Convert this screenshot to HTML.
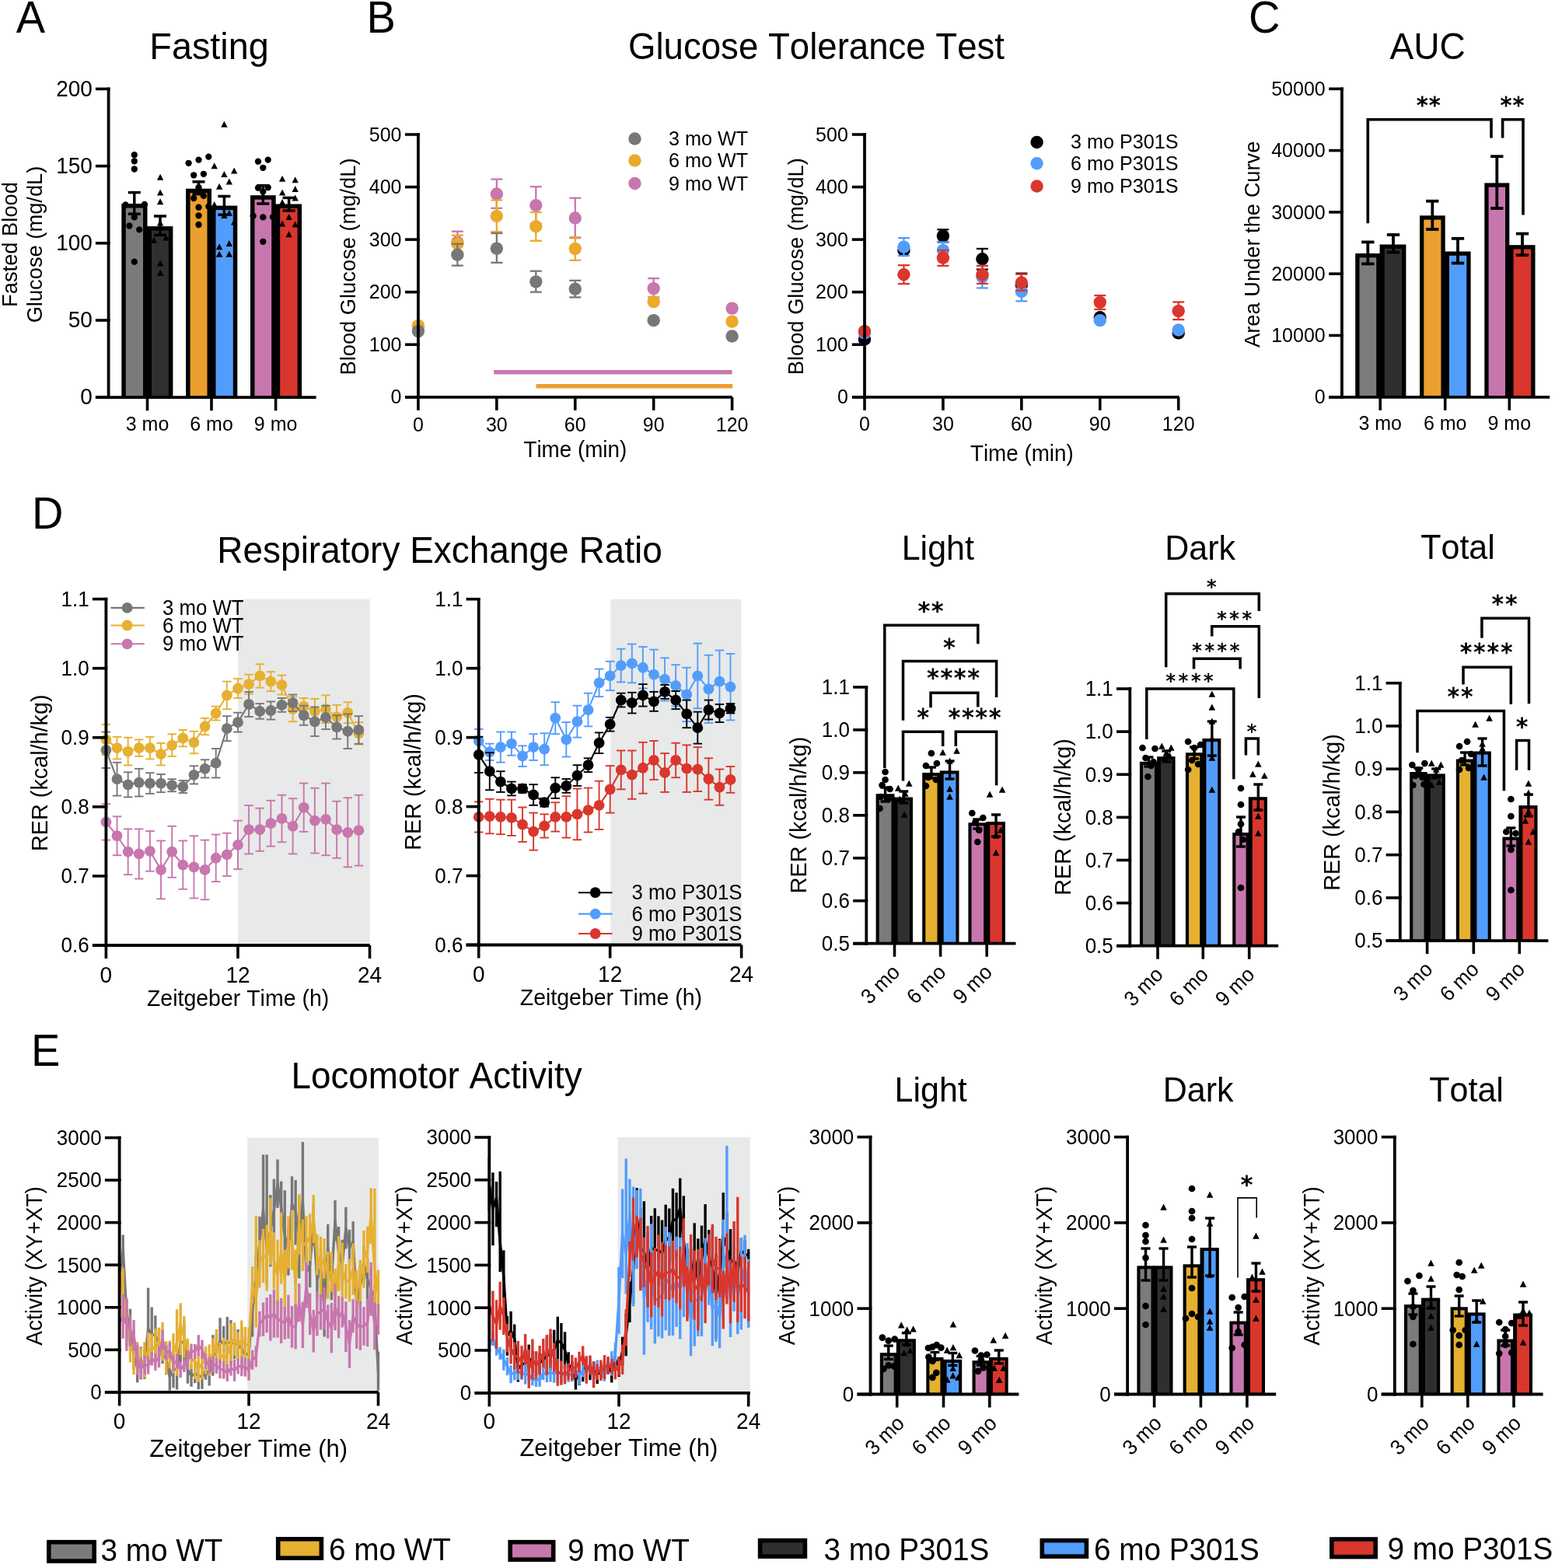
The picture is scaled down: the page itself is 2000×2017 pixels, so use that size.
<!DOCTYPE html>
<html><head><meta charset="utf-8"><title>Figure</title>
<style>
html,body{margin:0;padding:0;background:#fff;}
body{width:2000px;height:2017px;overflow:hidden;}
svg{display:block;}
text{font-family:"Liberation Sans",sans-serif;font-kerning:none;}
</style></head><body>
<svg width="2000" height="2017" viewBox="0 0 2000 2017">
<rect x="0" y="0" width="2000" height="2017" fill="#ffffff"/>
<text transform="translate(20.7 42) scale(1 1.04)" font-size="56" fill="#000">A</text>
<text transform="translate(192.3 76) scale(1 1.04)" font-size="46.8" fill="#000">Fasting</text>
<rect x="156.3" y="262" width="33.2" height="249.2" fill="#000"/>
<rect x="161.8" y="267.5" width="22.2" height="241.9" fill="#7b7b7b"/>
<rect x="188.6" y="291.1" width="33.8" height="220.1" fill="#000"/>
<rect x="195" y="296.6" width="21.9" height="212.8" fill="#2f2f2f"/>
<rect x="239.1" y="242.7" width="32.9" height="268.5" fill="#000"/>
<rect x="244.6" y="248.2" width="21.9" height="261.2" fill="#eb9f2e"/>
<rect x="271.1" y="264.6" width="34.2" height="246.6" fill="#000"/>
<rect x="277.5" y="270.1" width="22.3" height="239.3" fill="#529dfc"/>
<rect x="322" y="251.2" width="32.7" height="260" fill="#000"/>
<rect x="327.5" y="256.7" width="21.7" height="252.7" fill="#c876ae"/>
<rect x="353.8" y="262.5" width="34.3" height="248.7" fill="#000"/>
<rect x="360.2" y="268" width="22.4" height="241.4" fill="#d9362d"/>
<line x1="172.8" y1="247.6" x2="172.8" y2="275.2" stroke="#000" stroke-width="3.5"/>
<line x1="164.8" y1="247.6" x2="180.8" y2="247.6" stroke="#000" stroke-width="3.5"/>
<line x1="164.8" y1="275.2" x2="180.8" y2="275.2" stroke="#000" stroke-width="3.5"/>
<line x1="206" y1="278" x2="206" y2="302.4" stroke="#000" stroke-width="3.5"/>
<line x1="198" y1="278" x2="214" y2="278" stroke="#000" stroke-width="3.5"/>
<line x1="198" y1="302.4" x2="214" y2="302.4" stroke="#000" stroke-width="3.5"/>
<line x1="255.5" y1="233.8" x2="255.5" y2="249.7" stroke="#000" stroke-width="3.5"/>
<line x1="247.5" y1="233.8" x2="263.5" y2="233.8" stroke="#000" stroke-width="3.5"/>
<line x1="247.5" y1="249.7" x2="263.5" y2="249.7" stroke="#000" stroke-width="3.5"/>
<line x1="288.4" y1="252.5" x2="288.4" y2="276.3" stroke="#000" stroke-width="3.5"/>
<line x1="280.4" y1="252.5" x2="296.4" y2="252.5" stroke="#000" stroke-width="3.5"/>
<line x1="280.4" y1="276.3" x2="296.4" y2="276.3" stroke="#000" stroke-width="3.5"/>
<line x1="338.3" y1="238.7" x2="338.3" y2="262" stroke="#000" stroke-width="3.5"/>
<line x1="330.3" y1="238.7" x2="346.3" y2="238.7" stroke="#000" stroke-width="3.5"/>
<line x1="330.3" y1="262" x2="346.3" y2="262" stroke="#000" stroke-width="3.5"/>
<line x1="371.6" y1="254.4" x2="371.6" y2="271" stroke="#000" stroke-width="3.5"/>
<line x1="363.6" y1="254.4" x2="379.6" y2="254.4" stroke="#000" stroke-width="3.5"/>
<line x1="363.6" y1="271" x2="379.6" y2="271" stroke="#000" stroke-width="3.5"/>
<circle cx="172.8" cy="199.2" r="4.15" fill="#000"/>
<circle cx="172.8" cy="207.3" r="4.15" fill="#000"/>
<circle cx="172.8" cy="217.5" r="4.15" fill="#000"/>
<circle cx="161.5" cy="263.5" r="4.15" fill="#000"/>
<circle cx="185.9" cy="262.9" r="4.15" fill="#000"/>
<circle cx="172.8" cy="279.4" r="4.15" fill="#000"/>
<circle cx="166.4" cy="290.5" r="4.15" fill="#000"/>
<circle cx="179.2" cy="295.4" r="4.15" fill="#000"/>
<circle cx="172.8" cy="336.7" r="4.15" fill="#000"/>
<circle cx="242.6" cy="209.8" r="4.15" fill="#000"/>
<circle cx="255.5" cy="205.6" r="4.15" fill="#000"/>
<circle cx="268.3" cy="201.6" r="4.15" fill="#000"/>
<circle cx="249.2" cy="225.3" r="4.15" fill="#000"/>
<circle cx="261.9" cy="223.8" r="4.15" fill="#000"/>
<circle cx="255.5" cy="241.2" r="4.15" fill="#000"/>
<circle cx="249.2" cy="255" r="4.15" fill="#000"/>
<circle cx="261.9" cy="251.9" r="4.15" fill="#000"/>
<circle cx="268.3" cy="265.6" r="4.15" fill="#000"/>
<circle cx="255.5" cy="266.7" r="4.15" fill="#000"/>
<circle cx="255.5" cy="277.3" r="4.15" fill="#000"/>
<circle cx="255.5" cy="289" r="4.15" fill="#000"/>
<circle cx="332" cy="207.7" r="4.15" fill="#000"/>
<circle cx="344.7" cy="205.6" r="4.15" fill="#000"/>
<circle cx="338.3" cy="215.8" r="4.15" fill="#000"/>
<circle cx="332" cy="241.7" r="4.15" fill="#000"/>
<circle cx="344.7" cy="241.2" r="4.15" fill="#000"/>
<circle cx="338.3" cy="246.6" r="4.15" fill="#000"/>
<circle cx="325.6" cy="277.7" r="4.15" fill="#000"/>
<circle cx="338.3" cy="279.4" r="4.15" fill="#000"/>
<circle cx="351" cy="279" r="4.15" fill="#000"/>
<circle cx="338.3" cy="310.8" r="4.15" fill="#000"/>
<path d="M206.1 223.71L210.3 231.69L201.9 231.69Z" fill="#000"/>
<path d="M206.1 243.61L210.3 251.59L201.9 251.59Z" fill="#000"/>
<path d="M206.1 255.31L210.3 263.29L201.9 263.29Z" fill="#000"/>
<path d="M198 304.81L202.2 312.79L193.8 312.79Z" fill="#000"/>
<path d="M213.5 301.61L217.7 309.59L209.3 309.59Z" fill="#000"/>
<path d="M206.1 282.51L210.3 290.49L201.9 290.49Z" fill="#000"/>
<path d="M206.1 334.51L210.3 342.49L201.9 342.49Z" fill="#000"/>
<path d="M206.1 346.81L210.3 354.79L201.9 354.79Z" fill="#000"/>
<path d="M288.4 155.81L292.6 163.79L284.2 163.79Z" fill="#000"/>
<path d="M275.7 209.31L279.9 217.29L271.5 217.29Z" fill="#000"/>
<path d="M288.4 219.91L292.6 227.89L284.2 227.89Z" fill="#000"/>
<path d="M301.2 215.61L305.4 223.59L297 223.59Z" fill="#000"/>
<path d="M294.8 229.41L299 237.39L290.6 237.39Z" fill="#000"/>
<path d="M282.1 235.81L286.3 243.79L277.9 243.79Z" fill="#000"/>
<path d="M275.7 259.11L279.9 267.09L271.5 267.09Z" fill="#000"/>
<path d="M288.4 272.91L292.6 280.89L284.2 280.89Z" fill="#000"/>
<path d="M294.8 269.71L299 277.69L290.6 277.69Z" fill="#000"/>
<path d="M301.2 281.41L305.4 289.39L297 289.39Z" fill="#000"/>
<path d="M282.1 313.21L286.3 321.19L277.9 321.19Z" fill="#000"/>
<path d="M294.8 309.01L299 316.99L290.6 316.99Z" fill="#000"/>
<path d="M282.1 322.81L286.3 330.79L277.9 330.79Z" fill="#000"/>
<path d="M294.8 322.81L299 330.79L290.6 330.79Z" fill="#000"/>
<path d="M363.1 225.81L367.3 233.79L358.9 233.79Z" fill="#000"/>
<path d="M379.7 227.31L383.9 235.29L375.5 235.29Z" fill="#000"/>
<path d="M363.1 243.61L367.3 251.59L358.9 251.59Z" fill="#000"/>
<path d="M379.7 239.01L383.9 246.99L375.5 246.99Z" fill="#000"/>
<path d="M379.7 250.61L383.9 258.59L375.5 258.59Z" fill="#000"/>
<path d="M363.1 255.91L367.3 263.89L358.9 263.89Z" fill="#000"/>
<path d="M371.6 275.01L375.8 282.99L367.4 282.99Z" fill="#000"/>
<path d="M363.1 283.51L367.3 291.49L358.9 291.49Z" fill="#000"/>
<path d="M379.7 284.61L383.9 292.59L375.5 292.59Z" fill="#000"/>
<path d="M371.6 297.31L375.8 305.29L367.4 305.29Z" fill="#000"/>
<line x1="139.6" y1="112.6" x2="139.6" y2="513.1" stroke="#000" stroke-width="3.8"/>
<line x1="122.9" y1="511.2" x2="141.5" y2="511.2" stroke="#000" stroke-width="3.6"/>
<text transform="translate(118.9 520.4) scale(1 1.04)" font-size="28" text-anchor="end" fill="#000">0</text>
<line x1="122.9" y1="412" x2="141.5" y2="412" stroke="#000" stroke-width="3.6"/>
<text transform="translate(118.9 421.2) scale(1 1.04)" font-size="28" text-anchor="end" fill="#000">50</text>
<line x1="122.9" y1="312.8" x2="141.5" y2="312.8" stroke="#000" stroke-width="3.6"/>
<text transform="translate(118.9 322) scale(1 1.04)" font-size="28" text-anchor="end" fill="#000">100</text>
<line x1="122.9" y1="213.6" x2="141.5" y2="213.6" stroke="#000" stroke-width="3.6"/>
<text transform="translate(118.9 222.8) scale(1 1.04)" font-size="28" text-anchor="end" fill="#000">150</text>
<line x1="122.9" y1="114.4" x2="141.5" y2="114.4" stroke="#000" stroke-width="3.6"/>
<text transform="translate(118.9 123.6) scale(1 1.04)" font-size="28" text-anchor="end" fill="#000">200</text>
<line x1="122.9" y1="511.2" x2="406.6" y2="511.2" stroke="#000" stroke-width="3.8"/>
<line x1="189.5" y1="511.2" x2="189.5" y2="528.2" stroke="#000" stroke-width="3.6"/>
<text transform="translate(189.5 553.8) scale(1 1.04)" font-size="25" text-anchor="middle" fill="#000">3 mo</text>
<line x1="272" y1="511.2" x2="272" y2="528.2" stroke="#000" stroke-width="3.6"/>
<text transform="translate(272 553.8) scale(1 1.04)" font-size="25" text-anchor="middle" fill="#000">6 mo</text>
<line x1="354.6" y1="511.2" x2="354.6" y2="528.2" stroke="#000" stroke-width="3.6"/>
<text transform="translate(354.6 553.8) scale(1 1.04)" font-size="25" text-anchor="middle" fill="#000">9 mo</text>
<text transform="translate(22 314.5) rotate(-90) scale(1 1.04)" font-size="27.3" text-anchor="middle" fill="#000">Fasted Blood</text>
<text transform="translate(54.2 314.5) rotate(-90) scale(1 1.04)" font-size="27.3" text-anchor="middle" fill="#000">Glucose (mg/dL)</text>
<text transform="translate(471.5 42) scale(1 1.04)" font-size="56" fill="#000">B</text>
<text transform="translate(808 75.9) scale(1 1.04)" font-size="45.6" fill="#000">Glucose Tolerance Test</text>
<line x1="635.2" y1="478.8" x2="941.6" y2="478.8" stroke="#c876ae" stroke-width="5.6"/>
<line x1="689.5" y1="496.8" x2="942.2" y2="496.8" stroke="#eb9f2e" stroke-width="5.6"/>
<line x1="588.36" y1="311.5" x2="588.36" y2="297.65" stroke="#c876ae" stroke-width="2.3"/>
<line x1="580.86" y1="297.65" x2="595.86" y2="297.65" stroke="#c876ae" stroke-width="2.3"/>
<line x1="638.83" y1="249.48" x2="638.83" y2="230.56" stroke="#c876ae" stroke-width="2.3"/>
<line x1="631.33" y1="230.56" x2="646.33" y2="230.56" stroke="#c876ae" stroke-width="2.3"/>
<line x1="638.83" y1="249.48" x2="638.83" y2="267.79" stroke="#c876ae" stroke-width="2.3"/>
<line x1="631.33" y1="267.79" x2="646.33" y2="267.79" stroke="#c876ae" stroke-width="2.3"/>
<line x1="689.29" y1="264.21" x2="689.29" y2="240.15" stroke="#c876ae" stroke-width="2.3"/>
<line x1="681.79" y1="240.15" x2="696.79" y2="240.15" stroke="#c876ae" stroke-width="2.3"/>
<line x1="689.29" y1="264.21" x2="689.29" y2="287.85" stroke="#c876ae" stroke-width="2.3"/>
<line x1="681.79" y1="287.85" x2="696.79" y2="287.85" stroke="#c876ae" stroke-width="2.3"/>
<line x1="739.75" y1="280.56" x2="739.75" y2="254.75" stroke="#c876ae" stroke-width="2.3"/>
<line x1="732.25" y1="254.75" x2="747.25" y2="254.75" stroke="#c876ae" stroke-width="2.3"/>
<line x1="739.75" y1="280.56" x2="739.75" y2="306.09" stroke="#c876ae" stroke-width="2.3"/>
<line x1="732.25" y1="306.09" x2="747.25" y2="306.09" stroke="#c876ae" stroke-width="2.3"/>
<line x1="840.68" y1="371.09" x2="840.68" y2="358.11" stroke="#c876ae" stroke-width="2.3"/>
<line x1="833.18" y1="358.11" x2="848.18" y2="358.11" stroke="#c876ae" stroke-width="2.3"/>
<line x1="840.68" y1="371.09" x2="840.68" y2="382.44" stroke="#c876ae" stroke-width="2.3"/>
<line x1="833.18" y1="382.44" x2="848.18" y2="382.44" stroke="#c876ae" stroke-width="2.3"/>
<circle cx="537.9" cy="419.59" r="8.2" fill="#c876ae"/>
<circle cx="588.36" cy="311.5" r="8.2" fill="#c876ae"/>
<circle cx="638.83" cy="249.48" r="8.2" fill="#c876ae"/>
<circle cx="689.29" cy="264.21" r="8.2" fill="#c876ae"/>
<circle cx="739.75" cy="280.56" r="8.2" fill="#c876ae"/>
<circle cx="840.68" cy="371.09" r="8.2" fill="#c876ae"/>
<circle cx="941.6" cy="396.62" r="8.2" fill="#c876ae"/>
<line x1="588.36" y1="313.73" x2="588.36" y2="302.72" stroke="#ebaa2a" stroke-width="2.3"/>
<line x1="580.86" y1="302.72" x2="595.86" y2="302.72" stroke="#ebaa2a" stroke-width="2.3"/>
<line x1="588.36" y1="313.73" x2="588.36" y2="324.33" stroke="#ebaa2a" stroke-width="2.3"/>
<line x1="580.86" y1="324.33" x2="595.86" y2="324.33" stroke="#ebaa2a" stroke-width="2.3"/>
<line x1="638.83" y1="278.06" x2="638.83" y2="257.45" stroke="#ebaa2a" stroke-width="2.3"/>
<line x1="631.33" y1="257.45" x2="646.33" y2="257.45" stroke="#ebaa2a" stroke-width="2.3"/>
<line x1="638.83" y1="278.06" x2="638.83" y2="298.26" stroke="#ebaa2a" stroke-width="2.3"/>
<line x1="631.33" y1="298.26" x2="646.33" y2="298.26" stroke="#ebaa2a" stroke-width="2.3"/>
<line x1="689.29" y1="291.23" x2="689.29" y2="272.99" stroke="#ebaa2a" stroke-width="2.3"/>
<line x1="681.79" y1="272.99" x2="696.79" y2="272.99" stroke="#ebaa2a" stroke-width="2.3"/>
<line x1="689.29" y1="291.23" x2="689.29" y2="309.74" stroke="#ebaa2a" stroke-width="2.3"/>
<line x1="681.79" y1="309.74" x2="696.79" y2="309.74" stroke="#ebaa2a" stroke-width="2.3"/>
<line x1="739.75" y1="319.94" x2="739.75" y2="305.08" stroke="#ebaa2a" stroke-width="2.3"/>
<line x1="732.25" y1="305.08" x2="747.25" y2="305.08" stroke="#ebaa2a" stroke-width="2.3"/>
<line x1="739.75" y1="319.94" x2="739.75" y2="334.81" stroke="#ebaa2a" stroke-width="2.3"/>
<line x1="732.25" y1="334.81" x2="747.25" y2="334.81" stroke="#ebaa2a" stroke-width="2.3"/>
<line x1="840.68" y1="388.11" x2="840.68" y2="382.44" stroke="#ebaa2a" stroke-width="2.3"/>
<line x1="833.18" y1="382.44" x2="848.18" y2="382.44" stroke="#ebaa2a" stroke-width="2.3"/>
<circle cx="537.9" cy="419.05" r="8.2" fill="#ebaa2a"/>
<circle cx="588.36" cy="313.73" r="8.2" fill="#ebaa2a"/>
<circle cx="638.83" cy="278.06" r="8.2" fill="#ebaa2a"/>
<circle cx="689.29" cy="291.23" r="8.2" fill="#ebaa2a"/>
<circle cx="739.75" cy="319.94" r="8.2" fill="#ebaa2a"/>
<circle cx="840.68" cy="388.11" r="8.2" fill="#ebaa2a"/>
<circle cx="941.6" cy="413.65" r="8.2" fill="#ebaa2a"/>
<line x1="588.36" y1="327.71" x2="588.36" y2="313.73" stroke="#777777" stroke-width="2.3"/>
<line x1="580.86" y1="313.73" x2="595.86" y2="313.73" stroke="#777777" stroke-width="2.3"/>
<line x1="588.36" y1="327.71" x2="588.36" y2="341.63" stroke="#777777" stroke-width="2.3"/>
<line x1="580.86" y1="341.63" x2="595.86" y2="341.63" stroke="#777777" stroke-width="2.3"/>
<line x1="638.83" y1="319.61" x2="638.83" y2="300.01" stroke="#777777" stroke-width="2.3"/>
<line x1="631.33" y1="300.01" x2="646.33" y2="300.01" stroke="#777777" stroke-width="2.3"/>
<line x1="638.83" y1="319.61" x2="638.83" y2="337.85" stroke="#777777" stroke-width="2.3"/>
<line x1="631.33" y1="337.85" x2="646.33" y2="337.85" stroke="#777777" stroke-width="2.3"/>
<line x1="689.29" y1="362.37" x2="689.29" y2="348.66" stroke="#777777" stroke-width="2.3"/>
<line x1="681.79" y1="348.66" x2="696.79" y2="348.66" stroke="#777777" stroke-width="2.3"/>
<line x1="689.29" y1="362.37" x2="689.29" y2="375.68" stroke="#777777" stroke-width="2.3"/>
<line x1="681.79" y1="375.68" x2="696.79" y2="375.68" stroke="#777777" stroke-width="2.3"/>
<line x1="739.75" y1="371.76" x2="739.75" y2="360.82" stroke="#777777" stroke-width="2.3"/>
<line x1="732.25" y1="360.82" x2="747.25" y2="360.82" stroke="#777777" stroke-width="2.3"/>
<line x1="739.75" y1="371.76" x2="739.75" y2="382.44" stroke="#777777" stroke-width="2.3"/>
<line x1="732.25" y1="382.44" x2="747.25" y2="382.44" stroke="#777777" stroke-width="2.3"/>
<circle cx="537.9" cy="426.08" r="8.2" fill="#777777"/>
<circle cx="588.36" cy="327.71" r="8.2" fill="#777777"/>
<circle cx="638.83" cy="319.61" r="8.2" fill="#777777"/>
<circle cx="689.29" cy="362.37" r="8.2" fill="#777777"/>
<circle cx="739.75" cy="371.76" r="8.2" fill="#777777"/>
<circle cx="840.68" cy="412.16" r="8.2" fill="#777777"/>
<circle cx="941.6" cy="432.43" r="8.2" fill="#777777"/>
<line x1="537.9" y1="171.2" x2="537.9" y2="512.7" stroke="#000" stroke-width="3.8"/>
<line x1="521" y1="510.8" x2="539.8" y2="510.8" stroke="#000" stroke-width="3.6"/>
<text transform="translate(516.5 519.4) scale(1 1.04)" font-size="25" text-anchor="end" fill="#000">0</text>
<line x1="521" y1="443.24" x2="539.8" y2="443.24" stroke="#000" stroke-width="3.6"/>
<text transform="translate(516.5 451.84) scale(1 1.04)" font-size="25" text-anchor="end" fill="#000">100</text>
<line x1="521" y1="375.68" x2="539.8" y2="375.68" stroke="#000" stroke-width="3.6"/>
<text transform="translate(516.5 384.28) scale(1 1.04)" font-size="25" text-anchor="end" fill="#000">200</text>
<line x1="521" y1="308.12" x2="539.8" y2="308.12" stroke="#000" stroke-width="3.6"/>
<text transform="translate(516.5 316.72) scale(1 1.04)" font-size="25" text-anchor="end" fill="#000">300</text>
<line x1="521" y1="240.56" x2="539.8" y2="240.56" stroke="#000" stroke-width="3.6"/>
<text transform="translate(516.5 249.16) scale(1 1.04)" font-size="25" text-anchor="end" fill="#000">400</text>
<line x1="521" y1="173" x2="539.8" y2="173" stroke="#000" stroke-width="3.6"/>
<text transform="translate(516.5 181.6) scale(1 1.04)" font-size="25" text-anchor="end" fill="#000">500</text>
<line x1="521" y1="510.8" x2="941.6" y2="510.8" stroke="#000" stroke-width="3.8"/>
<line x1="537.9" y1="510.8" x2="537.9" y2="527.8" stroke="#000" stroke-width="3.6"/>
<text transform="translate(537.9 554.5) scale(1 1.04)" font-size="25" text-anchor="middle" fill="#000">0</text>
<line x1="638.83" y1="510.8" x2="638.83" y2="527.8" stroke="#000" stroke-width="3.6"/>
<text transform="translate(638.83 554.5) scale(1 1.04)" font-size="25" text-anchor="middle" fill="#000">30</text>
<line x1="739.75" y1="510.8" x2="739.75" y2="527.8" stroke="#000" stroke-width="3.6"/>
<text transform="translate(739.75 554.5) scale(1 1.04)" font-size="25" text-anchor="middle" fill="#000">60</text>
<line x1="840.68" y1="510.8" x2="840.68" y2="527.8" stroke="#000" stroke-width="3.6"/>
<text transform="translate(840.68 554.5) scale(1 1.04)" font-size="25" text-anchor="middle" fill="#000">90</text>
<line x1="941.6" y1="510.8" x2="941.6" y2="527.8" stroke="#000" stroke-width="3.6"/>
<text transform="translate(941.6 554.5) scale(1 1.04)" font-size="25" text-anchor="middle" fill="#000">120</text>
<text transform="translate(739.8 587.8) scale(1 1.04)" font-size="27.8" text-anchor="middle" fill="#000">Time (min)</text>
<text transform="translate(457 343) rotate(-90) scale(1 1.04)" font-size="27.3" text-anchor="middle" fill="#000">Blood Glucose (mg/dL)</text>
<circle cx="816.5" cy="178.5" r="8.2" fill="#777777"/>
<text transform="translate(860 187) scale(1 1.04)" font-size="25.2" fill="#000">3 mo WT</text>
<circle cx="816.5" cy="206.5" r="8.2" fill="#ebaa2a"/>
<text transform="translate(860 215) scale(1 1.04)" font-size="25.2" fill="#000">6 mo WT</text>
<circle cx="816.5" cy="236" r="8.2" fill="#c876ae"/>
<text transform="translate(860 244.5) scale(1 1.04)" font-size="25.2" fill="#000">9 mo WT</text>
<line x1="1212.93" y1="303.39" x2="1212.93" y2="295.28" stroke="#000" stroke-width="2.3"/>
<line x1="1205.43" y1="295.28" x2="1220.43" y2="295.28" stroke="#000" stroke-width="2.3"/>
<line x1="1212.93" y1="303.39" x2="1212.93" y2="311.5" stroke="#000" stroke-width="2.3"/>
<line x1="1205.43" y1="311.5" x2="1220.43" y2="311.5" stroke="#000" stroke-width="2.3"/>
<line x1="1263.39" y1="333.32" x2="1263.39" y2="319.94" stroke="#000" stroke-width="2.3"/>
<line x1="1255.89" y1="319.94" x2="1270.89" y2="319.94" stroke="#000" stroke-width="2.3"/>
<line x1="1263.39" y1="333.32" x2="1263.39" y2="346.63" stroke="#000" stroke-width="2.3"/>
<line x1="1255.89" y1="346.63" x2="1270.89" y2="346.63" stroke="#000" stroke-width="2.3"/>
<line x1="1313.85" y1="366.22" x2="1313.85" y2="351.7" stroke="#000" stroke-width="2.3"/>
<line x1="1306.35" y1="351.7" x2="1321.35" y2="351.7" stroke="#000" stroke-width="2.3"/>
<line x1="1313.85" y1="366.22" x2="1313.85" y2="368.92" stroke="#000" stroke-width="2.3"/>
<line x1="1306.35" y1="368.92" x2="1321.35" y2="368.92" stroke="#000" stroke-width="2.3"/>
<circle cx="1112" cy="436.48" r="8.2" fill="#000"/>
<circle cx="1162.46" cy="322.04" r="8.2" fill="#000"/>
<circle cx="1212.93" cy="303.39" r="8.2" fill="#000"/>
<circle cx="1263.39" cy="333.32" r="8.2" fill="#000"/>
<circle cx="1313.85" cy="366.22" r="8.2" fill="#000"/>
<circle cx="1414.78" cy="408.24" r="8.2" fill="#000"/>
<circle cx="1515.7" cy="428.38" r="8.2" fill="#000"/>
<line x1="1162.46" y1="317.58" x2="1162.46" y2="306.09" stroke="#529dfc" stroke-width="2.3"/>
<line x1="1154.96" y1="306.09" x2="1169.96" y2="306.09" stroke="#529dfc" stroke-width="2.3"/>
<line x1="1162.46" y1="317.58" x2="1162.46" y2="329.06" stroke="#529dfc" stroke-width="2.3"/>
<line x1="1154.96" y1="329.06" x2="1169.96" y2="329.06" stroke="#529dfc" stroke-width="2.3"/>
<line x1="1212.93" y1="321.97" x2="1212.93" y2="311.5" stroke="#529dfc" stroke-width="2.3"/>
<line x1="1205.43" y1="311.5" x2="1220.43" y2="311.5" stroke="#529dfc" stroke-width="2.3"/>
<line x1="1212.93" y1="321.97" x2="1212.93" y2="331.77" stroke="#529dfc" stroke-width="2.3"/>
<line x1="1205.43" y1="331.77" x2="1220.43" y2="331.77" stroke="#529dfc" stroke-width="2.3"/>
<line x1="1263.39" y1="356.09" x2="1263.39" y2="341.9" stroke="#529dfc" stroke-width="2.3"/>
<line x1="1255.89" y1="341.9" x2="1270.89" y2="341.9" stroke="#529dfc" stroke-width="2.3"/>
<line x1="1263.39" y1="356.09" x2="1263.39" y2="370.48" stroke="#529dfc" stroke-width="2.3"/>
<line x1="1255.89" y1="370.48" x2="1270.89" y2="370.48" stroke="#529dfc" stroke-width="2.3"/>
<line x1="1313.85" y1="375" x2="1313.85" y2="362.84" stroke="#529dfc" stroke-width="2.3"/>
<line x1="1306.35" y1="362.84" x2="1321.35" y2="362.84" stroke="#529dfc" stroke-width="2.3"/>
<line x1="1313.85" y1="375" x2="1313.85" y2="387.37" stroke="#529dfc" stroke-width="2.3"/>
<line x1="1306.35" y1="387.37" x2="1321.35" y2="387.37" stroke="#529dfc" stroke-width="2.3"/>
<circle cx="1112" cy="428.38" r="8.2" fill="#529dfc"/>
<circle cx="1162.46" cy="317.58" r="8.2" fill="#529dfc"/>
<circle cx="1212.93" cy="321.97" r="8.2" fill="#529dfc"/>
<circle cx="1263.39" cy="356.09" r="8.2" fill="#529dfc"/>
<circle cx="1313.85" cy="375" r="8.2" fill="#529dfc"/>
<circle cx="1414.78" cy="412.16" r="8.2" fill="#529dfc"/>
<circle cx="1515.7" cy="424.53" r="8.2" fill="#529dfc"/>
<line x1="1162.46" y1="353.18" x2="1162.46" y2="341.22" stroke="#d9362d" stroke-width="2.3"/>
<line x1="1154.96" y1="341.22" x2="1169.96" y2="341.22" stroke="#d9362d" stroke-width="2.3"/>
<line x1="1162.46" y1="353.18" x2="1162.46" y2="365.07" stroke="#d9362d" stroke-width="2.3"/>
<line x1="1154.96" y1="365.07" x2="1169.96" y2="365.07" stroke="#d9362d" stroke-width="2.3"/>
<line x1="1212.93" y1="331.77" x2="1212.93" y2="322.04" stroke="#d9362d" stroke-width="2.3"/>
<line x1="1205.43" y1="322.04" x2="1220.43" y2="322.04" stroke="#d9362d" stroke-width="2.3"/>
<line x1="1212.93" y1="331.77" x2="1212.93" y2="341.9" stroke="#d9362d" stroke-width="2.3"/>
<line x1="1205.43" y1="341.9" x2="1220.43" y2="341.9" stroke="#d9362d" stroke-width="2.3"/>
<line x1="1263.39" y1="353.18" x2="1263.39" y2="341.9" stroke="#d9362d" stroke-width="2.3"/>
<line x1="1255.89" y1="341.9" x2="1270.89" y2="341.9" stroke="#d9362d" stroke-width="2.3"/>
<line x1="1263.39" y1="353.18" x2="1263.39" y2="364.87" stroke="#d9362d" stroke-width="2.3"/>
<line x1="1255.89" y1="364.87" x2="1270.89" y2="364.87" stroke="#d9362d" stroke-width="2.3"/>
<line x1="1313.85" y1="363.52" x2="1313.85" y2="352.71" stroke="#d9362d" stroke-width="2.3"/>
<line x1="1306.35" y1="352.71" x2="1321.35" y2="352.71" stroke="#d9362d" stroke-width="2.3"/>
<line x1="1313.85" y1="363.52" x2="1313.85" y2="373.65" stroke="#d9362d" stroke-width="2.3"/>
<line x1="1306.35" y1="373.65" x2="1321.35" y2="373.65" stroke="#d9362d" stroke-width="2.3"/>
<line x1="1414.78" y1="388.85" x2="1414.78" y2="380.07" stroke="#d9362d" stroke-width="2.3"/>
<line x1="1407.28" y1="380.07" x2="1422.28" y2="380.07" stroke="#d9362d" stroke-width="2.3"/>
<line x1="1414.78" y1="388.85" x2="1414.78" y2="397.97" stroke="#d9362d" stroke-width="2.3"/>
<line x1="1407.28" y1="397.97" x2="1422.28" y2="397.97" stroke="#d9362d" stroke-width="2.3"/>
<line x1="1515.7" y1="400.14" x2="1515.7" y2="388.52" stroke="#d9362d" stroke-width="2.3"/>
<line x1="1508.2" y1="388.52" x2="1523.2" y2="388.52" stroke="#d9362d" stroke-width="2.3"/>
<line x1="1515.7" y1="400.14" x2="1515.7" y2="411.08" stroke="#d9362d" stroke-width="2.3"/>
<line x1="1508.2" y1="411.08" x2="1523.2" y2="411.08" stroke="#d9362d" stroke-width="2.3"/>
<circle cx="1112" cy="426.08" r="8.2" fill="#d9362d"/>
<circle cx="1162.46" cy="353.18" r="8.2" fill="#d9362d"/>
<circle cx="1212.93" cy="331.77" r="8.2" fill="#d9362d"/>
<circle cx="1263.39" cy="353.18" r="8.2" fill="#d9362d"/>
<circle cx="1313.85" cy="363.52" r="8.2" fill="#d9362d"/>
<circle cx="1414.78" cy="388.85" r="8.2" fill="#d9362d"/>
<circle cx="1515.7" cy="400.14" r="8.2" fill="#d9362d"/>
<line x1="1112" y1="171.2" x2="1112" y2="512.7" stroke="#000" stroke-width="3.8"/>
<line x1="1095.8" y1="510.8" x2="1113.9" y2="510.8" stroke="#000" stroke-width="3.6"/>
<text transform="translate(1090.8 519.4) scale(1 1.04)" font-size="25" text-anchor="end" fill="#000">0</text>
<line x1="1095.8" y1="443.24" x2="1113.9" y2="443.24" stroke="#000" stroke-width="3.6"/>
<text transform="translate(1090.8 451.84) scale(1 1.04)" font-size="25" text-anchor="end" fill="#000">100</text>
<line x1="1095.8" y1="375.68" x2="1113.9" y2="375.68" stroke="#000" stroke-width="3.6"/>
<text transform="translate(1090.8 384.28) scale(1 1.04)" font-size="25" text-anchor="end" fill="#000">200</text>
<line x1="1095.8" y1="308.12" x2="1113.9" y2="308.12" stroke="#000" stroke-width="3.6"/>
<text transform="translate(1090.8 316.72) scale(1 1.04)" font-size="25" text-anchor="end" fill="#000">300</text>
<line x1="1095.8" y1="240.56" x2="1113.9" y2="240.56" stroke="#000" stroke-width="3.6"/>
<text transform="translate(1090.8 249.16) scale(1 1.04)" font-size="25" text-anchor="end" fill="#000">400</text>
<line x1="1095.8" y1="173" x2="1113.9" y2="173" stroke="#000" stroke-width="3.6"/>
<text transform="translate(1090.8 181.6) scale(1 1.04)" font-size="25" text-anchor="end" fill="#000">500</text>
<line x1="1096" y1="510.8" x2="1516.6" y2="510.8" stroke="#000" stroke-width="3.8"/>
<line x1="1112" y1="510.8" x2="1112" y2="527.8" stroke="#000" stroke-width="3.6"/>
<text transform="translate(1112 554) scale(1 1.04)" font-size="25" text-anchor="middle" fill="#000">0</text>
<line x1="1212.93" y1="510.8" x2="1212.93" y2="527.8" stroke="#000" stroke-width="3.6"/>
<text transform="translate(1212.93 554) scale(1 1.04)" font-size="25" text-anchor="middle" fill="#000">30</text>
<line x1="1313.85" y1="510.8" x2="1313.85" y2="527.8" stroke="#000" stroke-width="3.6"/>
<text transform="translate(1313.85 554) scale(1 1.04)" font-size="25" text-anchor="middle" fill="#000">60</text>
<line x1="1414.78" y1="510.8" x2="1414.78" y2="527.8" stroke="#000" stroke-width="3.6"/>
<text transform="translate(1414.78 554) scale(1 1.04)" font-size="25" text-anchor="middle" fill="#000">90</text>
<line x1="1515.7" y1="510.8" x2="1515.7" y2="527.8" stroke="#000" stroke-width="3.6"/>
<text transform="translate(1515.7 554) scale(1 1.04)" font-size="25" text-anchor="middle" fill="#000">120</text>
<text transform="translate(1314.3 592.6) scale(1 1.04)" font-size="27.8" text-anchor="middle" fill="#000">Time (min)</text>
<text transform="translate(1033 342.7) rotate(-90) scale(1 1.04)" font-size="27.3" text-anchor="middle" fill="#000">Blood Glucose (mg/dL)</text>
<circle cx="1333.6" cy="183" r="8.2" fill="#000"/>
<text transform="translate(1377 191.3) scale(1 1.04)" font-size="25.2" fill="#000">3 mo P301S</text>
<circle cx="1333.6" cy="210.3" r="8.2" fill="#529dfc"/>
<text transform="translate(1377 218.6) scale(1 1.04)" font-size="25.2" fill="#000">6 mo P301S</text>
<circle cx="1333.6" cy="239.5" r="8.2" fill="#d9362d"/>
<text transform="translate(1377 247.8) scale(1 1.04)" font-size="25.2" fill="#000">9 mo P301S</text>
<text transform="translate(1606 42.2) scale(1 1.04)" font-size="56" fill="#000">C</text>
<text transform="translate(1787.6 76) scale(1 1.04)" font-size="46.1" fill="#000">AUC</text>
<rect x="1743.2" y="326" width="32.3" height="184.8" fill="#000"/>
<rect x="1748.5" y="331.3" width="21.7" height="177.7" fill="#7b7b7b"/>
<rect x="1774.6" y="314.5" width="33.8" height="196.3" fill="#000"/>
<rect x="1780.8" y="319.8" width="22.3" height="189.2" fill="#2f2f2f"/>
<rect x="1826" y="277.3" width="32.7" height="233.5" fill="#000"/>
<rect x="1831.3" y="282.6" width="22.1" height="226.4" fill="#eb9f2e"/>
<rect x="1857.8" y="323.5" width="33.8" height="187.3" fill="#000"/>
<rect x="1864" y="328.8" width="22.3" height="180.2" fill="#529dfc"/>
<rect x="1909.3" y="235.4" width="32" height="275.4" fill="#000"/>
<rect x="1914.6" y="240.7" width="21.4" height="268.3" fill="#c876ae"/>
<rect x="1940.4" y="315.2" width="34.1" height="195.6" fill="#000"/>
<rect x="1946.6" y="320.5" width="22.6" height="188.5" fill="#d9362d"/>
<line x1="1759.3" y1="311.4" x2="1759.3" y2="339.4" stroke="#000" stroke-width="3.8"/>
<line x1="1751.15" y1="311.4" x2="1767.45" y2="311.4" stroke="#000" stroke-width="3.8"/>
<line x1="1751.15" y1="339.4" x2="1767.45" y2="339.4" stroke="#000" stroke-width="3.8"/>
<line x1="1792" y1="302" x2="1792" y2="324.5" stroke="#000" stroke-width="3.8"/>
<line x1="1783.85" y1="302" x2="1800.15" y2="302" stroke="#000" stroke-width="3.8"/>
<line x1="1783.85" y1="324.5" x2="1800.15" y2="324.5" stroke="#000" stroke-width="3.8"/>
<line x1="1842.3" y1="258.7" x2="1842.3" y2="295" stroke="#000" stroke-width="3.8"/>
<line x1="1834.15" y1="258.7" x2="1850.45" y2="258.7" stroke="#000" stroke-width="3.8"/>
<line x1="1834.15" y1="295" x2="1850.45" y2="295" stroke="#000" stroke-width="3.8"/>
<line x1="1875" y1="306.8" x2="1875" y2="338.5" stroke="#000" stroke-width="3.8"/>
<line x1="1866.85" y1="306.8" x2="1883.15" y2="306.8" stroke="#000" stroke-width="3.8"/>
<line x1="1866.85" y1="338.5" x2="1883.15" y2="338.5" stroke="#000" stroke-width="3.8"/>
<line x1="1925.3" y1="201.2" x2="1925.3" y2="268" stroke="#000" stroke-width="3.8"/>
<line x1="1917.15" y1="201.2" x2="1933.45" y2="201.2" stroke="#000" stroke-width="3.8"/>
<line x1="1917.15" y1="268" x2="1933.45" y2="268" stroke="#000" stroke-width="3.8"/>
<line x1="1958" y1="300.6" x2="1958" y2="328.2" stroke="#000" stroke-width="3.8"/>
<line x1="1949.85" y1="300.6" x2="1966.15" y2="300.6" stroke="#000" stroke-width="3.8"/>
<line x1="1949.85" y1="328.2" x2="1966.15" y2="328.2" stroke="#000" stroke-width="3.8"/>
<path d="M1759.3 287.2V153.7H1918V177.6" fill="none" stroke="#000" stroke-width="3.6" stroke-linejoin="miter"/>
<path d="M1932.6 177.6V153.7H1959V276.4" fill="none" stroke="#000" stroke-width="3.6" stroke-linejoin="miter"/>
<text x="1838.02" y="145.03" font-size="29.1" text-anchor="middle" letter-spacing="1.45" stroke="#000" stroke-width="0.85" style="font-family:'DejaVu Sans',sans-serif">**</text>
<text x="1945.72" y="145.03" font-size="29.1" text-anchor="middle" letter-spacing="1.45" stroke="#000" stroke-width="0.85" style="font-family:'DejaVu Sans',sans-serif">**</text>
<line x1="1725.9" y1="112.5" x2="1725.9" y2="512.7" stroke="#000" stroke-width="3.8"/>
<line x1="1709.2" y1="510.8" x2="1727.8" y2="510.8" stroke="#000" stroke-width="3.6"/>
<text transform="translate(1704.7 519.4) scale(1 1.04)" font-size="25" text-anchor="end" fill="#000">0</text>
<line x1="1709.2" y1="431.5" x2="1727.8" y2="431.5" stroke="#000" stroke-width="3.6"/>
<text transform="translate(1704.7 440.1) scale(1 1.04)" font-size="25" text-anchor="end" fill="#000">10000</text>
<line x1="1709.2" y1="352.2" x2="1727.8" y2="352.2" stroke="#000" stroke-width="3.6"/>
<text transform="translate(1704.7 360.8) scale(1 1.04)" font-size="25" text-anchor="end" fill="#000">20000</text>
<line x1="1709.2" y1="272.9" x2="1727.8" y2="272.9" stroke="#000" stroke-width="3.6"/>
<text transform="translate(1704.7 281.5) scale(1 1.04)" font-size="25" text-anchor="end" fill="#000">30000</text>
<line x1="1709.2" y1="193.6" x2="1727.8" y2="193.6" stroke="#000" stroke-width="3.6"/>
<text transform="translate(1704.7 202.2) scale(1 1.04)" font-size="25" text-anchor="end" fill="#000">40000</text>
<line x1="1709.2" y1="114.3" x2="1727.8" y2="114.3" stroke="#000" stroke-width="3.6"/>
<text transform="translate(1704.7 122.9) scale(1 1.04)" font-size="25" text-anchor="end" fill="#000">50000</text>
<line x1="1709.2" y1="510.8" x2="1993.2" y2="510.8" stroke="#000" stroke-width="3.8"/>
<line x1="1775.2" y1="510.8" x2="1775.2" y2="527.8" stroke="#000" stroke-width="3.6"/>
<text transform="translate(1775.2 552.7) scale(1 1.04)" font-size="25" text-anchor="middle" fill="#000">3 mo</text>
<line x1="1858.7" y1="510.8" x2="1858.7" y2="527.8" stroke="#000" stroke-width="3.6"/>
<text transform="translate(1858.7 552.7) scale(1 1.04)" font-size="25" text-anchor="middle" fill="#000">6 mo</text>
<line x1="1941.3" y1="510.8" x2="1941.3" y2="527.8" stroke="#000" stroke-width="3.6"/>
<text transform="translate(1941.3 552.7) scale(1 1.04)" font-size="25" text-anchor="middle" fill="#000">9 mo</text>
<text transform="translate(1619.6 314.3) rotate(-90) scale(1 1.04)" font-size="27.3" text-anchor="middle" fill="#000">Area Under the Curve</text>
<text transform="translate(40.9 679.8) scale(1 1.04)" font-size="56" fill="#000">D</text>
<text transform="translate(279.3 723.8) scale(1 1.04)" font-size="46" fill="#000">Respiratory Exchange Ratio</text>
<rect x="306.1" y="770.6" width="169.6" height="445.4" fill="#e8e9e9"/>
<line x1="136.4" y1="931.83" x2="136.4" y2="971.03" stroke="#e6b030" stroke-width="1.9"/>
<line x1="130.65" y1="931.83" x2="142.15" y2="931.83" stroke="#e6b030" stroke-width="1.9"/>
<line x1="130.65" y1="971.03" x2="142.15" y2="971.03" stroke="#e6b030" stroke-width="1.9"/>
<line x1="150.53" y1="947.87" x2="150.53" y2="976.37" stroke="#e6b030" stroke-width="1.9"/>
<line x1="144.78" y1="947.87" x2="156.28" y2="947.87" stroke="#e6b030" stroke-width="1.9"/>
<line x1="144.78" y1="976.37" x2="156.28" y2="976.37" stroke="#e6b030" stroke-width="1.9"/>
<line x1="164.66" y1="948.76" x2="164.66" y2="984.39" stroke="#e6b030" stroke-width="1.9"/>
<line x1="158.91" y1="948.76" x2="170.41" y2="948.76" stroke="#e6b030" stroke-width="1.9"/>
<line x1="158.91" y1="984.39" x2="170.41" y2="984.39" stroke="#e6b030" stroke-width="1.9"/>
<line x1="178.79" y1="951.43" x2="178.79" y2="972.81" stroke="#e6b030" stroke-width="1.9"/>
<line x1="173.04" y1="951.43" x2="184.54" y2="951.43" stroke="#e6b030" stroke-width="1.9"/>
<line x1="173.04" y1="972.81" x2="184.54" y2="972.81" stroke="#e6b030" stroke-width="1.9"/>
<line x1="192.92" y1="947.87" x2="192.92" y2="976.37" stroke="#e6b030" stroke-width="1.9"/>
<line x1="187.17" y1="947.87" x2="198.67" y2="947.87" stroke="#e6b030" stroke-width="1.9"/>
<line x1="187.17" y1="976.37" x2="198.67" y2="976.37" stroke="#e6b030" stroke-width="1.9"/>
<line x1="207.05" y1="955.89" x2="207.05" y2="984.39" stroke="#e6b030" stroke-width="1.9"/>
<line x1="201.3" y1="955.89" x2="212.8" y2="955.89" stroke="#e6b030" stroke-width="1.9"/>
<line x1="201.3" y1="984.39" x2="212.8" y2="984.39" stroke="#e6b030" stroke-width="1.9"/>
<line x1="221.18" y1="944.31" x2="221.18" y2="972.81" stroke="#e6b030" stroke-width="1.9"/>
<line x1="215.43" y1="944.31" x2="226.93" y2="944.31" stroke="#e6b030" stroke-width="1.9"/>
<line x1="215.43" y1="972.81" x2="226.93" y2="972.81" stroke="#e6b030" stroke-width="1.9"/>
<line x1="235.31" y1="938.96" x2="235.31" y2="960.34" stroke="#e6b030" stroke-width="1.9"/>
<line x1="229.56" y1="938.96" x2="241.06" y2="938.96" stroke="#e6b030" stroke-width="1.9"/>
<line x1="229.56" y1="960.34" x2="241.06" y2="960.34" stroke="#e6b030" stroke-width="1.9"/>
<line x1="249.44" y1="940.74" x2="249.44" y2="969.25" stroke="#e6b030" stroke-width="1.9"/>
<line x1="243.69" y1="940.74" x2="255.19" y2="940.74" stroke="#e6b030" stroke-width="1.9"/>
<line x1="243.69" y1="969.25" x2="255.19" y2="969.25" stroke="#e6b030" stroke-width="1.9"/>
<line x1="263.57" y1="923.82" x2="263.57" y2="945.2" stroke="#e6b030" stroke-width="1.9"/>
<line x1="257.82" y1="923.82" x2="269.32" y2="923.82" stroke="#e6b030" stroke-width="1.9"/>
<line x1="257.82" y1="945.2" x2="269.32" y2="945.2" stroke="#e6b030" stroke-width="1.9"/>
<line x1="277.7" y1="908.67" x2="277.7" y2="926.49" stroke="#e6b030" stroke-width="1.9"/>
<line x1="271.95" y1="908.67" x2="283.45" y2="908.67" stroke="#e6b030" stroke-width="1.9"/>
<line x1="271.95" y1="926.49" x2="283.45" y2="926.49" stroke="#e6b030" stroke-width="1.9"/>
<line x1="291.83" y1="876.61" x2="291.83" y2="912.24" stroke="#e6b030" stroke-width="1.9"/>
<line x1="286.08" y1="876.61" x2="297.58" y2="876.61" stroke="#e6b030" stroke-width="1.9"/>
<line x1="286.08" y1="912.24" x2="297.58" y2="912.24" stroke="#e6b030" stroke-width="1.9"/>
<line x1="305.96" y1="873.04" x2="305.96" y2="897.98" stroke="#e6b030" stroke-width="1.9"/>
<line x1="300.21" y1="873.04" x2="311.71" y2="873.04" stroke="#e6b030" stroke-width="1.9"/>
<line x1="300.21" y1="897.98" x2="311.71" y2="897.98" stroke="#e6b030" stroke-width="1.9"/>
<line x1="320.09" y1="867.7" x2="320.09" y2="892.64" stroke="#e6b030" stroke-width="1.9"/>
<line x1="314.34" y1="867.7" x2="325.84" y2="867.7" stroke="#e6b030" stroke-width="1.9"/>
<line x1="314.34" y1="892.64" x2="325.84" y2="892.64" stroke="#e6b030" stroke-width="1.9"/>
<line x1="334.22" y1="854.34" x2="334.22" y2="884.62" stroke="#e6b030" stroke-width="1.9"/>
<line x1="328.47" y1="854.34" x2="339.97" y2="854.34" stroke="#e6b030" stroke-width="1.9"/>
<line x1="328.47" y1="884.62" x2="339.97" y2="884.62" stroke="#e6b030" stroke-width="1.9"/>
<line x1="348.35" y1="864.13" x2="348.35" y2="889.08" stroke="#e6b030" stroke-width="1.9"/>
<line x1="342.6" y1="864.13" x2="354.1" y2="864.13" stroke="#e6b030" stroke-width="1.9"/>
<line x1="342.6" y1="889.08" x2="354.1" y2="889.08" stroke="#e6b030" stroke-width="1.9"/>
<line x1="362.48" y1="868.59" x2="362.48" y2="893.53" stroke="#e6b030" stroke-width="1.9"/>
<line x1="356.73" y1="868.59" x2="368.23" y2="868.59" stroke="#e6b030" stroke-width="1.9"/>
<line x1="356.73" y1="893.53" x2="368.23" y2="893.53" stroke="#e6b030" stroke-width="1.9"/>
<line x1="376.61" y1="896.2" x2="376.61" y2="928.27" stroke="#e6b030" stroke-width="1.9"/>
<line x1="370.86" y1="896.2" x2="382.36" y2="896.2" stroke="#e6b030" stroke-width="1.9"/>
<line x1="370.86" y1="928.27" x2="382.36" y2="928.27" stroke="#e6b030" stroke-width="1.9"/>
<line x1="390.74" y1="897.98" x2="390.74" y2="919.36" stroke="#e6b030" stroke-width="1.9"/>
<line x1="384.99" y1="897.98" x2="396.49" y2="897.98" stroke="#e6b030" stroke-width="1.9"/>
<line x1="384.99" y1="919.36" x2="396.49" y2="919.36" stroke="#e6b030" stroke-width="1.9"/>
<line x1="404.87" y1="898.88" x2="404.87" y2="930.94" stroke="#e6b030" stroke-width="1.9"/>
<line x1="399.12" y1="898.88" x2="410.62" y2="898.88" stroke="#e6b030" stroke-width="1.9"/>
<line x1="399.12" y1="930.94" x2="410.62" y2="930.94" stroke="#e6b030" stroke-width="1.9"/>
<line x1="419" y1="894.42" x2="419" y2="930.05" stroke="#e6b030" stroke-width="1.9"/>
<line x1="413.25" y1="894.42" x2="424.75" y2="894.42" stroke="#e6b030" stroke-width="1.9"/>
<line x1="413.25" y1="930.05" x2="424.75" y2="930.05" stroke="#e6b030" stroke-width="1.9"/>
<line x1="433.13" y1="906.89" x2="433.13" y2="937.18" stroke="#e6b030" stroke-width="1.9"/>
<line x1="427.38" y1="906.89" x2="438.88" y2="906.89" stroke="#e6b030" stroke-width="1.9"/>
<line x1="427.38" y1="937.18" x2="438.88" y2="937.18" stroke="#e6b030" stroke-width="1.9"/>
<line x1="447.26" y1="903.33" x2="447.26" y2="930.05" stroke="#e6b030" stroke-width="1.9"/>
<line x1="441.51" y1="903.33" x2="453.01" y2="903.33" stroke="#e6b030" stroke-width="1.9"/>
<line x1="441.51" y1="930.05" x2="453.01" y2="930.05" stroke="#e6b030" stroke-width="1.9"/>
<line x1="461.39" y1="929.16" x2="461.39" y2="957.67" stroke="#e6b030" stroke-width="1.9"/>
<line x1="455.64" y1="929.16" x2="467.14" y2="929.16" stroke="#e6b030" stroke-width="1.9"/>
<line x1="455.64" y1="957.67" x2="467.14" y2="957.67" stroke="#e6b030" stroke-width="1.9"/>
<polyline points="136.4,951.43 150.53,962.12 164.66,966.58 178.79,962.12 192.92,962.12 207.05,970.14 221.18,958.56 235.31,949.65 249.44,955 263.57,934.51 277.7,917.58 291.83,894.42 305.96,885.51 320.09,880.17 334.22,869.48 348.35,876.61 362.48,881.06 376.61,912.24 390.74,908.67 404.87,914.91 419,912.24 433.13,922.04 447.26,916.69 461.39,943.42" fill="none" stroke="#e6b030" stroke-width="2.1" stroke-linejoin="miter"/>
<circle cx="136.4" cy="951.43" r="6.9" fill="#e6b030"/>
<circle cx="150.53" cy="962.12" r="6.9" fill="#e6b030"/>
<circle cx="164.66" cy="966.58" r="6.9" fill="#e6b030"/>
<circle cx="178.79" cy="962.12" r="6.9" fill="#e6b030"/>
<circle cx="192.92" cy="962.12" r="6.9" fill="#e6b030"/>
<circle cx="207.05" cy="970.14" r="6.9" fill="#e6b030"/>
<circle cx="221.18" cy="958.56" r="6.9" fill="#e6b030"/>
<circle cx="235.31" cy="949.65" r="6.9" fill="#e6b030"/>
<circle cx="249.44" cy="955" r="6.9" fill="#e6b030"/>
<circle cx="263.57" cy="934.51" r="6.9" fill="#e6b030"/>
<circle cx="277.7" cy="917.58" r="6.9" fill="#e6b030"/>
<circle cx="291.83" cy="894.42" r="6.9" fill="#e6b030"/>
<circle cx="305.96" cy="885.51" r="6.9" fill="#e6b030"/>
<circle cx="320.09" cy="880.17" r="6.9" fill="#e6b030"/>
<circle cx="334.22" cy="869.48" r="6.9" fill="#e6b030"/>
<circle cx="348.35" cy="876.61" r="6.9" fill="#e6b030"/>
<circle cx="362.48" cy="881.06" r="6.9" fill="#e6b030"/>
<circle cx="376.61" cy="912.24" r="6.9" fill="#e6b030"/>
<circle cx="390.74" cy="908.67" r="6.9" fill="#e6b030"/>
<circle cx="404.87" cy="914.91" r="6.9" fill="#e6b030"/>
<circle cx="419" cy="912.24" r="6.9" fill="#e6b030"/>
<circle cx="433.13" cy="922.04" r="6.9" fill="#e6b030"/>
<circle cx="447.26" cy="916.69" r="6.9" fill="#e6b030"/>
<circle cx="461.39" cy="943.42" r="6.9" fill="#e6b030"/>
<line x1="136.4" y1="941.63" x2="136.4" y2="987.96" stroke="#777777" stroke-width="1.9"/>
<line x1="130.65" y1="941.63" x2="142.15" y2="941.63" stroke="#777777" stroke-width="1.9"/>
<line x1="130.65" y1="987.96" x2="142.15" y2="987.96" stroke="#777777" stroke-width="1.9"/>
<line x1="150.53" y1="980.83" x2="150.53" y2="1023.59" stroke="#777777" stroke-width="1.9"/>
<line x1="144.78" y1="980.83" x2="156.28" y2="980.83" stroke="#777777" stroke-width="1.9"/>
<line x1="144.78" y1="1023.59" x2="156.28" y2="1023.59" stroke="#777777" stroke-width="1.9"/>
<line x1="164.66" y1="993.3" x2="164.66" y2="1025.37" stroke="#777777" stroke-width="1.9"/>
<line x1="158.91" y1="993.3" x2="170.41" y2="993.3" stroke="#777777" stroke-width="1.9"/>
<line x1="158.91" y1="1025.37" x2="170.41" y2="1025.37" stroke="#777777" stroke-width="1.9"/>
<line x1="178.79" y1="988.85" x2="178.79" y2="1024.48" stroke="#777777" stroke-width="1.9"/>
<line x1="173.04" y1="988.85" x2="184.54" y2="988.85" stroke="#777777" stroke-width="1.9"/>
<line x1="173.04" y1="1024.48" x2="184.54" y2="1024.48" stroke="#777777" stroke-width="1.9"/>
<line x1="192.92" y1="994.19" x2="192.92" y2="1020.91" stroke="#777777" stroke-width="1.9"/>
<line x1="187.17" y1="994.19" x2="198.67" y2="994.19" stroke="#777777" stroke-width="1.9"/>
<line x1="187.17" y1="1020.91" x2="198.67" y2="1020.91" stroke="#777777" stroke-width="1.9"/>
<line x1="207.05" y1="995.97" x2="207.05" y2="1019.13" stroke="#777777" stroke-width="1.9"/>
<line x1="201.3" y1="995.97" x2="212.8" y2="995.97" stroke="#777777" stroke-width="1.9"/>
<line x1="201.3" y1="1019.13" x2="212.8" y2="1019.13" stroke="#777777" stroke-width="1.9"/>
<line x1="221.18" y1="1002.21" x2="221.18" y2="1018.24" stroke="#777777" stroke-width="1.9"/>
<line x1="215.43" y1="1002.21" x2="226.93" y2="1002.21" stroke="#777777" stroke-width="1.9"/>
<line x1="215.43" y1="1018.24" x2="226.93" y2="1018.24" stroke="#777777" stroke-width="1.9"/>
<line x1="235.31" y1="1003.99" x2="235.31" y2="1020.02" stroke="#777777" stroke-width="1.9"/>
<line x1="229.56" y1="1003.99" x2="241.06" y2="1003.99" stroke="#777777" stroke-width="1.9"/>
<line x1="229.56" y1="1020.02" x2="241.06" y2="1020.02" stroke="#777777" stroke-width="1.9"/>
<line x1="249.44" y1="985.28" x2="249.44" y2="1008.44" stroke="#777777" stroke-width="1.9"/>
<line x1="243.69" y1="985.28" x2="255.19" y2="985.28" stroke="#777777" stroke-width="1.9"/>
<line x1="243.69" y1="1008.44" x2="255.19" y2="1008.44" stroke="#777777" stroke-width="1.9"/>
<line x1="263.57" y1="977.27" x2="263.57" y2="1000.43" stroke="#777777" stroke-width="1.9"/>
<line x1="257.82" y1="977.27" x2="269.32" y2="977.27" stroke="#777777" stroke-width="1.9"/>
<line x1="257.82" y1="1000.43" x2="269.32" y2="1000.43" stroke="#777777" stroke-width="1.9"/>
<line x1="277.7" y1="963.01" x2="277.7" y2="1000.43" stroke="#777777" stroke-width="1.9"/>
<line x1="271.95" y1="963.01" x2="283.45" y2="963.01" stroke="#777777" stroke-width="1.9"/>
<line x1="271.95" y1="1000.43" x2="283.45" y2="1000.43" stroke="#777777" stroke-width="1.9"/>
<line x1="291.83" y1="921.15" x2="291.83" y2="953.21" stroke="#777777" stroke-width="1.9"/>
<line x1="286.08" y1="921.15" x2="297.58" y2="921.15" stroke="#777777" stroke-width="1.9"/>
<line x1="286.08" y1="953.21" x2="297.58" y2="953.21" stroke="#777777" stroke-width="1.9"/>
<line x1="305.96" y1="916.69" x2="305.96" y2="941.63" stroke="#777777" stroke-width="1.9"/>
<line x1="300.21" y1="916.69" x2="311.71" y2="916.69" stroke="#777777" stroke-width="1.9"/>
<line x1="300.21" y1="941.63" x2="311.71" y2="941.63" stroke="#777777" stroke-width="1.9"/>
<line x1="320.09" y1="889.97" x2="320.09" y2="922.04" stroke="#777777" stroke-width="1.9"/>
<line x1="314.34" y1="889.97" x2="325.84" y2="889.97" stroke="#777777" stroke-width="1.9"/>
<line x1="314.34" y1="922.04" x2="325.84" y2="922.04" stroke="#777777" stroke-width="1.9"/>
<line x1="334.22" y1="905.11" x2="334.22" y2="924.71" stroke="#777777" stroke-width="1.9"/>
<line x1="328.47" y1="905.11" x2="339.97" y2="905.11" stroke="#777777" stroke-width="1.9"/>
<line x1="328.47" y1="924.71" x2="339.97" y2="924.71" stroke="#777777" stroke-width="1.9"/>
<line x1="348.35" y1="902.44" x2="348.35" y2="925.6" stroke="#777777" stroke-width="1.9"/>
<line x1="342.6" y1="902.44" x2="354.1" y2="902.44" stroke="#777777" stroke-width="1.9"/>
<line x1="342.6" y1="925.6" x2="354.1" y2="925.6" stroke="#777777" stroke-width="1.9"/>
<line x1="362.48" y1="897.98" x2="362.48" y2="915.8" stroke="#777777" stroke-width="1.9"/>
<line x1="356.73" y1="897.98" x2="368.23" y2="897.98" stroke="#777777" stroke-width="1.9"/>
<line x1="356.73" y1="915.8" x2="368.23" y2="915.8" stroke="#777777" stroke-width="1.9"/>
<line x1="376.61" y1="893.53" x2="376.61" y2="914.91" stroke="#777777" stroke-width="1.9"/>
<line x1="370.86" y1="893.53" x2="382.36" y2="893.53" stroke="#777777" stroke-width="1.9"/>
<line x1="370.86" y1="914.91" x2="382.36" y2="914.91" stroke="#777777" stroke-width="1.9"/>
<line x1="390.74" y1="907.78" x2="390.74" y2="932.73" stroke="#777777" stroke-width="1.9"/>
<line x1="384.99" y1="907.78" x2="396.49" y2="907.78" stroke="#777777" stroke-width="1.9"/>
<line x1="384.99" y1="932.73" x2="396.49" y2="932.73" stroke="#777777" stroke-width="1.9"/>
<line x1="404.87" y1="909.56" x2="404.87" y2="946.98" stroke="#777777" stroke-width="1.9"/>
<line x1="399.12" y1="909.56" x2="410.62" y2="909.56" stroke="#777777" stroke-width="1.9"/>
<line x1="399.12" y1="946.98" x2="410.62" y2="946.98" stroke="#777777" stroke-width="1.9"/>
<line x1="419" y1="907.78" x2="419" y2="938.07" stroke="#777777" stroke-width="1.9"/>
<line x1="413.25" y1="907.78" x2="424.75" y2="907.78" stroke="#777777" stroke-width="1.9"/>
<line x1="413.25" y1="938.07" x2="424.75" y2="938.07" stroke="#777777" stroke-width="1.9"/>
<line x1="433.13" y1="920.25" x2="433.13" y2="950.54" stroke="#777777" stroke-width="1.9"/>
<line x1="427.38" y1="920.25" x2="438.88" y2="920.25" stroke="#777777" stroke-width="1.9"/>
<line x1="427.38" y1="950.54" x2="438.88" y2="950.54" stroke="#777777" stroke-width="1.9"/>
<line x1="447.26" y1="918.47" x2="447.26" y2="963.01" stroke="#777777" stroke-width="1.9"/>
<line x1="441.51" y1="918.47" x2="453.01" y2="918.47" stroke="#777777" stroke-width="1.9"/>
<line x1="441.51" y1="963.01" x2="453.01" y2="963.01" stroke="#777777" stroke-width="1.9"/>
<line x1="461.39" y1="921.15" x2="461.39" y2="956.78" stroke="#777777" stroke-width="1.9"/>
<line x1="455.64" y1="921.15" x2="467.14" y2="921.15" stroke="#777777" stroke-width="1.9"/>
<line x1="455.64" y1="956.78" x2="467.14" y2="956.78" stroke="#777777" stroke-width="1.9"/>
<polyline points="136.4,964.79 150.53,1002.21 164.66,1009.33 178.79,1006.66 192.92,1007.55 207.05,1007.55 221.18,1010.23 235.31,1012.01 249.44,996.86 263.57,988.85 277.7,981.72 291.83,937.18 305.96,929.16 320.09,906 334.22,914.91 348.35,914.02 362.48,906.89 376.61,904.22 390.74,920.25 404.87,928.27 419,922.93 433.13,935.4 447.26,940.74 461.39,938.96" fill="none" stroke="#777777" stroke-width="2.1" stroke-linejoin="miter"/>
<circle cx="136.4" cy="964.79" r="6.9" fill="#777777"/>
<circle cx="150.53" cy="1002.21" r="6.9" fill="#777777"/>
<circle cx="164.66" cy="1009.33" r="6.9" fill="#777777"/>
<circle cx="178.79" cy="1006.66" r="6.9" fill="#777777"/>
<circle cx="192.92" cy="1007.55" r="6.9" fill="#777777"/>
<circle cx="207.05" cy="1007.55" r="6.9" fill="#777777"/>
<circle cx="221.18" cy="1010.23" r="6.9" fill="#777777"/>
<circle cx="235.31" cy="1012.01" r="6.9" fill="#777777"/>
<circle cx="249.44" cy="996.86" r="6.9" fill="#777777"/>
<circle cx="263.57" cy="988.85" r="6.9" fill="#777777"/>
<circle cx="277.7" cy="981.72" r="6.9" fill="#777777"/>
<circle cx="291.83" cy="937.18" r="6.9" fill="#777777"/>
<circle cx="305.96" cy="929.16" r="6.9" fill="#777777"/>
<circle cx="320.09" cy="906" r="6.9" fill="#777777"/>
<circle cx="334.22" cy="914.91" r="6.9" fill="#777777"/>
<circle cx="348.35" cy="914.02" r="6.9" fill="#777777"/>
<circle cx="362.48" cy="906.89" r="6.9" fill="#777777"/>
<circle cx="376.61" cy="904.22" r="6.9" fill="#777777"/>
<circle cx="390.74" cy="920.25" r="6.9" fill="#777777"/>
<circle cx="404.87" cy="928.27" r="6.9" fill="#777777"/>
<circle cx="419" cy="922.93" r="6.9" fill="#777777"/>
<circle cx="433.13" cy="935.4" r="6.9" fill="#777777"/>
<circle cx="447.26" cy="940.74" r="6.9" fill="#777777"/>
<circle cx="461.39" cy="938.96" r="6.9" fill="#777777"/>
<line x1="136.4" y1="1034.28" x2="136.4" y2="1080.6" stroke="#c876ae" stroke-width="1.9"/>
<line x1="130.65" y1="1034.28" x2="142.15" y2="1034.28" stroke="#c876ae" stroke-width="1.9"/>
<line x1="130.65" y1="1080.6" x2="142.15" y2="1080.6" stroke="#c876ae" stroke-width="1.9"/>
<line x1="150.53" y1="1050.31" x2="150.53" y2="1100.2" stroke="#c876ae" stroke-width="1.9"/>
<line x1="144.78" y1="1050.31" x2="156.28" y2="1050.31" stroke="#c876ae" stroke-width="1.9"/>
<line x1="144.78" y1="1100.2" x2="156.28" y2="1100.2" stroke="#c876ae" stroke-width="1.9"/>
<line x1="164.66" y1="1066.35" x2="164.66" y2="1125.14" stroke="#c876ae" stroke-width="1.9"/>
<line x1="158.91" y1="1066.35" x2="170.41" y2="1066.35" stroke="#c876ae" stroke-width="1.9"/>
<line x1="158.91" y1="1125.14" x2="170.41" y2="1125.14" stroke="#c876ae" stroke-width="1.9"/>
<line x1="178.79" y1="1066.35" x2="178.79" y2="1130.48" stroke="#c876ae" stroke-width="1.9"/>
<line x1="173.04" y1="1066.35" x2="184.54" y2="1066.35" stroke="#c876ae" stroke-width="1.9"/>
<line x1="173.04" y1="1130.48" x2="184.54" y2="1130.48" stroke="#c876ae" stroke-width="1.9"/>
<line x1="192.92" y1="1069.02" x2="192.92" y2="1120.68" stroke="#c876ae" stroke-width="1.9"/>
<line x1="187.17" y1="1069.02" x2="198.67" y2="1069.02" stroke="#c876ae" stroke-width="1.9"/>
<line x1="187.17" y1="1120.68" x2="198.67" y2="1120.68" stroke="#c876ae" stroke-width="1.9"/>
<line x1="207.05" y1="1081.49" x2="207.05" y2="1156.32" stroke="#c876ae" stroke-width="1.9"/>
<line x1="201.3" y1="1081.49" x2="212.8" y2="1081.49" stroke="#c876ae" stroke-width="1.9"/>
<line x1="201.3" y1="1156.32" x2="212.8" y2="1156.32" stroke="#c876ae" stroke-width="1.9"/>
<line x1="221.18" y1="1062.78" x2="221.18" y2="1128.7" stroke="#c876ae" stroke-width="1.9"/>
<line x1="215.43" y1="1062.78" x2="226.93" y2="1062.78" stroke="#c876ae" stroke-width="1.9"/>
<line x1="215.43" y1="1128.7" x2="226.93" y2="1128.7" stroke="#c876ae" stroke-width="1.9"/>
<line x1="235.31" y1="1081.49" x2="235.31" y2="1143.85" stroke="#c876ae" stroke-width="1.9"/>
<line x1="229.56" y1="1081.49" x2="241.06" y2="1081.49" stroke="#c876ae" stroke-width="1.9"/>
<line x1="229.56" y1="1143.85" x2="241.06" y2="1143.85" stroke="#c876ae" stroke-width="1.9"/>
<line x1="249.44" y1="1075.25" x2="249.44" y2="1155.43" stroke="#c876ae" stroke-width="1.9"/>
<line x1="243.69" y1="1075.25" x2="255.19" y2="1075.25" stroke="#c876ae" stroke-width="1.9"/>
<line x1="243.69" y1="1155.43" x2="255.19" y2="1155.43" stroke="#c876ae" stroke-width="1.9"/>
<line x1="263.57" y1="1080.6" x2="263.57" y2="1157.21" stroke="#c876ae" stroke-width="1.9"/>
<line x1="257.82" y1="1080.6" x2="269.32" y2="1080.6" stroke="#c876ae" stroke-width="1.9"/>
<line x1="257.82" y1="1157.21" x2="269.32" y2="1157.21" stroke="#c876ae" stroke-width="1.9"/>
<line x1="277.7" y1="1073.47" x2="277.7" y2="1134.05" stroke="#c876ae" stroke-width="1.9"/>
<line x1="271.95" y1="1073.47" x2="283.45" y2="1073.47" stroke="#c876ae" stroke-width="1.9"/>
<line x1="271.95" y1="1134.05" x2="283.45" y2="1134.05" stroke="#c876ae" stroke-width="1.9"/>
<line x1="291.83" y1="1071.69" x2="291.83" y2="1126.92" stroke="#c876ae" stroke-width="1.9"/>
<line x1="286.08" y1="1071.69" x2="297.58" y2="1071.69" stroke="#c876ae" stroke-width="1.9"/>
<line x1="286.08" y1="1126.92" x2="297.58" y2="1126.92" stroke="#c876ae" stroke-width="1.9"/>
<line x1="305.96" y1="1055.66" x2="305.96" y2="1118.01" stroke="#c876ae" stroke-width="1.9"/>
<line x1="300.21" y1="1055.66" x2="311.71" y2="1055.66" stroke="#c876ae" stroke-width="1.9"/>
<line x1="300.21" y1="1118.01" x2="311.71" y2="1118.01" stroke="#c876ae" stroke-width="1.9"/>
<line x1="320.09" y1="1036.06" x2="320.09" y2="1098.41" stroke="#c876ae" stroke-width="1.9"/>
<line x1="314.34" y1="1036.06" x2="325.84" y2="1036.06" stroke="#c876ae" stroke-width="1.9"/>
<line x1="314.34" y1="1098.41" x2="325.84" y2="1098.41" stroke="#c876ae" stroke-width="1.9"/>
<line x1="334.22" y1="1039.62" x2="334.22" y2="1094.85" stroke="#c876ae" stroke-width="1.9"/>
<line x1="328.47" y1="1039.62" x2="339.97" y2="1039.62" stroke="#c876ae" stroke-width="1.9"/>
<line x1="328.47" y1="1094.85" x2="339.97" y2="1094.85" stroke="#c876ae" stroke-width="1.9"/>
<line x1="348.35" y1="1029.82" x2="348.35" y2="1088.62" stroke="#c876ae" stroke-width="1.9"/>
<line x1="342.6" y1="1029.82" x2="354.1" y2="1029.82" stroke="#c876ae" stroke-width="1.9"/>
<line x1="342.6" y1="1088.62" x2="354.1" y2="1088.62" stroke="#c876ae" stroke-width="1.9"/>
<line x1="362.48" y1="1022.7" x2="362.48" y2="1083.27" stroke="#c876ae" stroke-width="1.9"/>
<line x1="356.73" y1="1022.7" x2="368.23" y2="1022.7" stroke="#c876ae" stroke-width="1.9"/>
<line x1="356.73" y1="1083.27" x2="368.23" y2="1083.27" stroke="#c876ae" stroke-width="1.9"/>
<line x1="376.61" y1="1027.15" x2="376.61" y2="1098.41" stroke="#c876ae" stroke-width="1.9"/>
<line x1="370.86" y1="1027.15" x2="382.36" y2="1027.15" stroke="#c876ae" stroke-width="1.9"/>
<line x1="370.86" y1="1098.41" x2="382.36" y2="1098.41" stroke="#c876ae" stroke-width="1.9"/>
<line x1="390.74" y1="1007.55" x2="390.74" y2="1069.91" stroke="#c876ae" stroke-width="1.9"/>
<line x1="384.99" y1="1007.55" x2="396.49" y2="1007.55" stroke="#c876ae" stroke-width="1.9"/>
<line x1="384.99" y1="1069.91" x2="396.49" y2="1069.91" stroke="#c876ae" stroke-width="1.9"/>
<line x1="404.87" y1="1013.79" x2="404.87" y2="1097.52" stroke="#c876ae" stroke-width="1.9"/>
<line x1="399.12" y1="1013.79" x2="410.62" y2="1013.79" stroke="#c876ae" stroke-width="1.9"/>
<line x1="399.12" y1="1097.52" x2="410.62" y2="1097.52" stroke="#c876ae" stroke-width="1.9"/>
<line x1="419" y1="1007.55" x2="419" y2="1100.2" stroke="#c876ae" stroke-width="1.9"/>
<line x1="413.25" y1="1007.55" x2="424.75" y2="1007.55" stroke="#c876ae" stroke-width="1.9"/>
<line x1="413.25" y1="1100.2" x2="424.75" y2="1100.2" stroke="#c876ae" stroke-width="1.9"/>
<line x1="433.13" y1="1030.71" x2="433.13" y2="1103.76" stroke="#c876ae" stroke-width="1.9"/>
<line x1="427.38" y1="1030.71" x2="438.88" y2="1030.71" stroke="#c876ae" stroke-width="1.9"/>
<line x1="427.38" y1="1103.76" x2="438.88" y2="1103.76" stroke="#c876ae" stroke-width="1.9"/>
<line x1="447.26" y1="1026.26" x2="447.26" y2="1115.34" stroke="#c876ae" stroke-width="1.9"/>
<line x1="441.51" y1="1026.26" x2="453.01" y2="1026.26" stroke="#c876ae" stroke-width="1.9"/>
<line x1="441.51" y1="1115.34" x2="453.01" y2="1115.34" stroke="#c876ae" stroke-width="1.9"/>
<line x1="461.39" y1="1022.7" x2="461.39" y2="1113.56" stroke="#c876ae" stroke-width="1.9"/>
<line x1="455.64" y1="1022.7" x2="467.14" y2="1022.7" stroke="#c876ae" stroke-width="1.9"/>
<line x1="455.64" y1="1113.56" x2="467.14" y2="1113.56" stroke="#c876ae" stroke-width="1.9"/>
<polyline points="136.4,1057.44 150.53,1075.25 164.66,1095.74 178.79,1098.41 192.92,1094.85 207.05,1118.9 221.18,1095.74 235.31,1112.67 249.44,1115.34 263.57,1118.9 277.7,1103.76 291.83,1099.31 305.96,1086.83 320.09,1067.24 334.22,1067.24 348.35,1059.22 362.48,1052.98 376.61,1062.78 390.74,1038.73 404.87,1055.66 419,1053.87 433.13,1067.24 447.26,1070.8 461.39,1068.13" fill="none" stroke="#c876ae" stroke-width="2.1" stroke-linejoin="miter"/>
<circle cx="136.4" cy="1057.44" r="6.9" fill="#c876ae"/>
<circle cx="150.53" cy="1075.25" r="6.9" fill="#c876ae"/>
<circle cx="164.66" cy="1095.74" r="6.9" fill="#c876ae"/>
<circle cx="178.79" cy="1098.41" r="6.9" fill="#c876ae"/>
<circle cx="192.92" cy="1094.85" r="6.9" fill="#c876ae"/>
<circle cx="207.05" cy="1118.9" r="6.9" fill="#c876ae"/>
<circle cx="221.18" cy="1095.74" r="6.9" fill="#c876ae"/>
<circle cx="235.31" cy="1112.67" r="6.9" fill="#c876ae"/>
<circle cx="249.44" cy="1115.34" r="6.9" fill="#c876ae"/>
<circle cx="263.57" cy="1118.9" r="6.9" fill="#c876ae"/>
<circle cx="277.7" cy="1103.76" r="6.9" fill="#c876ae"/>
<circle cx="291.83" cy="1099.31" r="6.9" fill="#c876ae"/>
<circle cx="305.96" cy="1086.83" r="6.9" fill="#c876ae"/>
<circle cx="320.09" cy="1067.24" r="6.9" fill="#c876ae"/>
<circle cx="334.22" cy="1067.24" r="6.9" fill="#c876ae"/>
<circle cx="348.35" cy="1059.22" r="6.9" fill="#c876ae"/>
<circle cx="362.48" cy="1052.98" r="6.9" fill="#c876ae"/>
<circle cx="376.61" cy="1062.78" r="6.9" fill="#c876ae"/>
<circle cx="390.74" cy="1038.73" r="6.9" fill="#c876ae"/>
<circle cx="404.87" cy="1055.66" r="6.9" fill="#c876ae"/>
<circle cx="419" cy="1053.87" r="6.9" fill="#c876ae"/>
<circle cx="433.13" cy="1067.24" r="6.9" fill="#c876ae"/>
<circle cx="447.26" cy="1070.8" r="6.9" fill="#c876ae"/>
<circle cx="461.39" cy="1068.13" r="6.9" fill="#c876ae"/>
<line x1="136.4" y1="768.8" x2="136.4" y2="1217.9" stroke="#000" stroke-width="3.8"/>
<line x1="118.9" y1="1216" x2="138.3" y2="1216" stroke="#000" stroke-width="3.6"/>
<text transform="translate(114.7 1225.3) scale(1 1.04)" font-size="26" text-anchor="end" fill="#000">0.6</text>
<line x1="118.9" y1="1126.92" x2="138.3" y2="1126.92" stroke="#000" stroke-width="3.6"/>
<text transform="translate(114.7 1136.22) scale(1 1.04)" font-size="26" text-anchor="end" fill="#000">0.7</text>
<line x1="118.9" y1="1037.84" x2="138.3" y2="1037.84" stroke="#000" stroke-width="3.6"/>
<text transform="translate(114.7 1047.14) scale(1 1.04)" font-size="26" text-anchor="end" fill="#000">0.8</text>
<line x1="118.9" y1="948.76" x2="138.3" y2="948.76" stroke="#000" stroke-width="3.6"/>
<text transform="translate(114.7 958.06) scale(1 1.04)" font-size="26" text-anchor="end" fill="#000">0.9</text>
<line x1="118.9" y1="859.68" x2="138.3" y2="859.68" stroke="#000" stroke-width="3.6"/>
<text transform="translate(114.7 868.98) scale(1 1.04)" font-size="26" text-anchor="end" fill="#000">1.0</text>
<line x1="118.9" y1="770.6" x2="138.3" y2="770.6" stroke="#000" stroke-width="3.6"/>
<text transform="translate(114.7 779.9) scale(1 1.04)" font-size="26" text-anchor="end" fill="#000">1.1</text>
<line x1="118.9" y1="1216" x2="475.7" y2="1216" stroke="#000" stroke-width="3.8"/>
<line x1="136.4" y1="1216" x2="136.4" y2="1233" stroke="#000" stroke-width="3.6"/>
<text transform="translate(136.4 1263.5) scale(1 1.04)" font-size="28" text-anchor="middle" fill="#000">0</text>
<line x1="305.96" y1="1216" x2="305.96" y2="1233" stroke="#000" stroke-width="3.6"/>
<text transform="translate(305.96 1263.5) scale(1 1.04)" font-size="28" text-anchor="middle" fill="#000">12</text>
<line x1="475.52" y1="1216" x2="475.52" y2="1233" stroke="#000" stroke-width="3.6"/>
<text transform="translate(475.52 1263.5) scale(1 1.04)" font-size="28" text-anchor="middle" fill="#000">24</text>
<text transform="translate(306.1 1293.5) scale(1 1.04)" font-size="28.5" text-anchor="middle" fill="#000">Zeitgeber Time (h)</text>
<text transform="translate(60.8 994.2) rotate(-90) scale(1 1.04)" font-size="28.8" text-anchor="middle" fill="#000">RER (kcal/h/kg)</text>
<line x1="142.5" y1="781.9" x2="185.8" y2="781.9" stroke="#777777" stroke-width="2.1"/>
<circle cx="163.6" cy="781.9" r="6.9" fill="#777777"/>
<text transform="translate(209 790.9) scale(1 1.04)" font-size="25.8" fill="#000">3 mo WT</text>
<line x1="142.5" y1="804.5" x2="185.8" y2="804.5" stroke="#e6b030" stroke-width="2.1"/>
<circle cx="163.6" cy="804.5" r="6.9" fill="#e6b030"/>
<text transform="translate(209 813.5) scale(1 1.04)" font-size="25.8" fill="#000">6 mo WT</text>
<line x1="142.5" y1="828.3" x2="185.8" y2="828.3" stroke="#c876ae" stroke-width="2.1"/>
<circle cx="163.6" cy="828.3" r="6.9" fill="#c876ae"/>
<text transform="translate(209 837.3) scale(1 1.04)" font-size="25.8" fill="#000">9 mo WT</text>
<rect x="785.3" y="770.7" width="168.3" height="444.8" fill="#e8e9e9"/>
<line x1="615.7" y1="937.94" x2="615.7" y2="968.19" stroke="#529dfc" stroke-width="1.9"/>
<line x1="609.95" y1="937.94" x2="621.45" y2="937.94" stroke="#529dfc" stroke-width="1.9"/>
<line x1="609.95" y1="968.19" x2="621.45" y2="968.19" stroke="#529dfc" stroke-width="1.9"/>
<line x1="629.78" y1="956.63" x2="629.78" y2="977.98" stroke="#529dfc" stroke-width="1.9"/>
<line x1="624.03" y1="956.63" x2="635.53" y2="956.63" stroke="#529dfc" stroke-width="1.9"/>
<line x1="624.03" y1="977.98" x2="635.53" y2="977.98" stroke="#529dfc" stroke-width="1.9"/>
<line x1="643.86" y1="941.5" x2="643.86" y2="980.65" stroke="#529dfc" stroke-width="1.9"/>
<line x1="638.11" y1="941.5" x2="649.61" y2="941.5" stroke="#529dfc" stroke-width="1.9"/>
<line x1="638.11" y1="980.65" x2="649.61" y2="980.65" stroke="#529dfc" stroke-width="1.9"/>
<line x1="657.94" y1="941.5" x2="657.94" y2="971.75" stroke="#529dfc" stroke-width="1.9"/>
<line x1="652.19" y1="941.5" x2="663.69" y2="941.5" stroke="#529dfc" stroke-width="1.9"/>
<line x1="652.19" y1="971.75" x2="663.69" y2="971.75" stroke="#529dfc" stroke-width="1.9"/>
<line x1="672.02" y1="959.3" x2="672.02" y2="985.98" stroke="#529dfc" stroke-width="1.9"/>
<line x1="666.27" y1="959.3" x2="677.77" y2="959.3" stroke="#529dfc" stroke-width="1.9"/>
<line x1="666.27" y1="985.98" x2="677.77" y2="985.98" stroke="#529dfc" stroke-width="1.9"/>
<line x1="686.1" y1="944.17" x2="686.1" y2="977.98" stroke="#529dfc" stroke-width="1.9"/>
<line x1="680.35" y1="944.17" x2="691.85" y2="944.17" stroke="#529dfc" stroke-width="1.9"/>
<line x1="680.35" y1="977.98" x2="691.85" y2="977.98" stroke="#529dfc" stroke-width="1.9"/>
<line x1="700.18" y1="943.28" x2="700.18" y2="984.2" stroke="#529dfc" stroke-width="1.9"/>
<line x1="694.43" y1="943.28" x2="705.93" y2="943.28" stroke="#529dfc" stroke-width="1.9"/>
<line x1="694.43" y1="984.2" x2="705.93" y2="984.2" stroke="#529dfc" stroke-width="1.9"/>
<line x1="714.26" y1="903.25" x2="714.26" y2="944.17" stroke="#529dfc" stroke-width="1.9"/>
<line x1="708.51" y1="903.25" x2="720.01" y2="903.25" stroke="#529dfc" stroke-width="1.9"/>
<line x1="708.51" y1="944.17" x2="720.01" y2="944.17" stroke="#529dfc" stroke-width="1.9"/>
<line x1="728.34" y1="929.05" x2="728.34" y2="973.53" stroke="#529dfc" stroke-width="1.9"/>
<line x1="722.59" y1="929.05" x2="734.09" y2="929.05" stroke="#529dfc" stroke-width="1.9"/>
<line x1="722.59" y1="973.53" x2="734.09" y2="973.53" stroke="#529dfc" stroke-width="1.9"/>
<line x1="742.42" y1="907.7" x2="742.42" y2="948.62" stroke="#529dfc" stroke-width="1.9"/>
<line x1="736.67" y1="907.7" x2="748.17" y2="907.7" stroke="#529dfc" stroke-width="1.9"/>
<line x1="736.67" y1="948.62" x2="748.17" y2="948.62" stroke="#529dfc" stroke-width="1.9"/>
<line x1="756.5" y1="891.69" x2="756.5" y2="934.39" stroke="#529dfc" stroke-width="1.9"/>
<line x1="750.75" y1="891.69" x2="762.25" y2="891.69" stroke="#529dfc" stroke-width="1.9"/>
<line x1="750.75" y1="934.39" x2="762.25" y2="934.39" stroke="#529dfc" stroke-width="1.9"/>
<line x1="770.58" y1="860.55" x2="770.58" y2="896.13" stroke="#529dfc" stroke-width="1.9"/>
<line x1="764.83" y1="860.55" x2="776.33" y2="860.55" stroke="#529dfc" stroke-width="1.9"/>
<line x1="764.83" y1="896.13" x2="776.33" y2="896.13" stroke="#529dfc" stroke-width="1.9"/>
<line x1="784.66" y1="850.76" x2="784.66" y2="888.13" stroke="#529dfc" stroke-width="1.9"/>
<line x1="778.91" y1="850.76" x2="790.41" y2="850.76" stroke="#529dfc" stroke-width="1.9"/>
<line x1="778.91" y1="888.13" x2="790.41" y2="888.13" stroke="#529dfc" stroke-width="1.9"/>
<line x1="798.74" y1="834.75" x2="798.74" y2="877.45" stroke="#529dfc" stroke-width="1.9"/>
<line x1="792.99" y1="834.75" x2="804.49" y2="834.75" stroke="#529dfc" stroke-width="1.9"/>
<line x1="792.99" y1="877.45" x2="804.49" y2="877.45" stroke="#529dfc" stroke-width="1.9"/>
<line x1="812.82" y1="828.52" x2="812.82" y2="878.34" stroke="#529dfc" stroke-width="1.9"/>
<line x1="807.07" y1="828.52" x2="818.57" y2="828.52" stroke="#529dfc" stroke-width="1.9"/>
<line x1="807.07" y1="878.34" x2="818.57" y2="878.34" stroke="#529dfc" stroke-width="1.9"/>
<line x1="826.9" y1="832.08" x2="826.9" y2="885.46" stroke="#529dfc" stroke-width="1.9"/>
<line x1="821.15" y1="832.08" x2="832.65" y2="832.08" stroke="#529dfc" stroke-width="1.9"/>
<line x1="821.15" y1="885.46" x2="832.65" y2="885.46" stroke="#529dfc" stroke-width="1.9"/>
<line x1="840.98" y1="835.64" x2="840.98" y2="899.69" stroke="#529dfc" stroke-width="1.9"/>
<line x1="835.23" y1="835.64" x2="846.73" y2="835.64" stroke="#529dfc" stroke-width="1.9"/>
<line x1="835.23" y1="899.69" x2="846.73" y2="899.69" stroke="#529dfc" stroke-width="1.9"/>
<line x1="855.06" y1="846.32" x2="855.06" y2="901.47" stroke="#529dfc" stroke-width="1.9"/>
<line x1="849.31" y1="846.32" x2="860.81" y2="846.32" stroke="#529dfc" stroke-width="1.9"/>
<line x1="849.31" y1="901.47" x2="860.81" y2="901.47" stroke="#529dfc" stroke-width="1.9"/>
<line x1="869.14" y1="855.21" x2="869.14" y2="908.59" stroke="#529dfc" stroke-width="1.9"/>
<line x1="863.39" y1="855.21" x2="874.89" y2="855.21" stroke="#529dfc" stroke-width="1.9"/>
<line x1="863.39" y1="908.59" x2="874.89" y2="908.59" stroke="#529dfc" stroke-width="1.9"/>
<line x1="883.22" y1="858.77" x2="883.22" y2="928.16" stroke="#529dfc" stroke-width="1.9"/>
<line x1="877.47" y1="858.77" x2="888.97" y2="858.77" stroke="#529dfc" stroke-width="1.9"/>
<line x1="877.47" y1="928.16" x2="888.97" y2="928.16" stroke="#529dfc" stroke-width="1.9"/>
<line x1="897.3" y1="827.63" x2="897.3" y2="911.26" stroke="#529dfc" stroke-width="1.9"/>
<line x1="891.55" y1="827.63" x2="903.05" y2="827.63" stroke="#529dfc" stroke-width="1.9"/>
<line x1="891.55" y1="911.26" x2="903.05" y2="911.26" stroke="#529dfc" stroke-width="1.9"/>
<line x1="911.38" y1="842.76" x2="911.38" y2="929.94" stroke="#529dfc" stroke-width="1.9"/>
<line x1="905.63" y1="842.76" x2="917.13" y2="842.76" stroke="#529dfc" stroke-width="1.9"/>
<line x1="905.63" y1="929.94" x2="917.13" y2="929.94" stroke="#529dfc" stroke-width="1.9"/>
<line x1="925.46" y1="836.53" x2="925.46" y2="916.59" stroke="#529dfc" stroke-width="1.9"/>
<line x1="919.71" y1="836.53" x2="931.21" y2="836.53" stroke="#529dfc" stroke-width="1.9"/>
<line x1="919.71" y1="916.59" x2="931.21" y2="916.59" stroke="#529dfc" stroke-width="1.9"/>
<line x1="939.54" y1="840.98" x2="939.54" y2="926.38" stroke="#529dfc" stroke-width="1.9"/>
<line x1="933.79" y1="840.98" x2="945.29" y2="840.98" stroke="#529dfc" stroke-width="1.9"/>
<line x1="933.79" y1="926.38" x2="945.29" y2="926.38" stroke="#529dfc" stroke-width="1.9"/>
<polyline points="615.7,953.07 629.78,967.3 643.86,961.07 657.94,956.63 672.02,972.64 686.1,961.07 700.18,963.74 714.26,923.71 728.34,951.29 742.42,928.16 756.5,913.04 770.58,878.34 784.66,869.45 798.74,856.1 812.82,853.43 826.9,858.77 840.98,867.67 855.06,873.89 869.14,881.9 883.22,893.46 897.3,869.45 911.38,886.35 925.46,876.56 939.54,883.68" fill="none" stroke="#529dfc" stroke-width="2.1" stroke-linejoin="miter"/>
<circle cx="615.7" cy="953.07" r="6.9" fill="#529dfc"/>
<circle cx="629.78" cy="967.3" r="6.9" fill="#529dfc"/>
<circle cx="643.86" cy="961.07" r="6.9" fill="#529dfc"/>
<circle cx="657.94" cy="956.63" r="6.9" fill="#529dfc"/>
<circle cx="672.02" cy="972.64" r="6.9" fill="#529dfc"/>
<circle cx="686.1" cy="961.07" r="6.9" fill="#529dfc"/>
<circle cx="700.18" cy="963.74" r="6.9" fill="#529dfc"/>
<circle cx="714.26" cy="923.71" r="6.9" fill="#529dfc"/>
<circle cx="728.34" cy="951.29" r="6.9" fill="#529dfc"/>
<circle cx="742.42" cy="928.16" r="6.9" fill="#529dfc"/>
<circle cx="756.5" cy="913.04" r="6.9" fill="#529dfc"/>
<circle cx="770.58" cy="878.34" r="6.9" fill="#529dfc"/>
<circle cx="784.66" cy="869.45" r="6.9" fill="#529dfc"/>
<circle cx="798.74" cy="856.1" r="6.9" fill="#529dfc"/>
<circle cx="812.82" cy="853.43" r="6.9" fill="#529dfc"/>
<circle cx="826.9" cy="858.77" r="6.9" fill="#529dfc"/>
<circle cx="840.98" cy="867.67" r="6.9" fill="#529dfc"/>
<circle cx="855.06" cy="873.89" r="6.9" fill="#529dfc"/>
<circle cx="869.14" cy="881.9" r="6.9" fill="#529dfc"/>
<circle cx="883.22" cy="893.46" r="6.9" fill="#529dfc"/>
<circle cx="897.3" cy="869.45" r="6.9" fill="#529dfc"/>
<circle cx="911.38" cy="886.35" r="6.9" fill="#529dfc"/>
<circle cx="925.46" cy="876.56" r="6.9" fill="#529dfc"/>
<circle cx="939.54" cy="883.68" r="6.9" fill="#529dfc"/>
<line x1="615.7" y1="947.73" x2="615.7" y2="993.99" stroke="#000" stroke-width="1.9"/>
<line x1="609.95" y1="947.73" x2="621.45" y2="947.73" stroke="#000" stroke-width="1.9"/>
<line x1="609.95" y1="993.99" x2="621.45" y2="993.99" stroke="#000" stroke-width="1.9"/>
<line x1="629.78" y1="968.19" x2="629.78" y2="1016.23" stroke="#000" stroke-width="1.9"/>
<line x1="624.03" y1="968.19" x2="635.53" y2="968.19" stroke="#000" stroke-width="1.9"/>
<line x1="624.03" y1="1016.23" x2="635.53" y2="1016.23" stroke="#000" stroke-width="1.9"/>
<line x1="643.86" y1="992.21" x2="643.86" y2="1018.9" stroke="#000" stroke-width="1.9"/>
<line x1="638.11" y1="992.21" x2="649.61" y2="992.21" stroke="#000" stroke-width="1.9"/>
<line x1="638.11" y1="1018.9" x2="649.61" y2="1018.9" stroke="#000" stroke-width="1.9"/>
<line x1="657.94" y1="1005.55" x2="657.94" y2="1023.35" stroke="#000" stroke-width="1.9"/>
<line x1="652.19" y1="1005.55" x2="663.69" y2="1005.55" stroke="#000" stroke-width="1.9"/>
<line x1="652.19" y1="1023.35" x2="663.69" y2="1023.35" stroke="#000" stroke-width="1.9"/>
<line x1="672.02" y1="1009.11" x2="672.02" y2="1019.79" stroke="#000" stroke-width="1.9"/>
<line x1="666.27" y1="1009.11" x2="677.77" y2="1009.11" stroke="#000" stroke-width="1.9"/>
<line x1="666.27" y1="1019.79" x2="677.77" y2="1019.79" stroke="#000" stroke-width="1.9"/>
<line x1="686.1" y1="1009.11" x2="686.1" y2="1035.8" stroke="#000" stroke-width="1.9"/>
<line x1="680.35" y1="1009.11" x2="691.85" y2="1009.11" stroke="#000" stroke-width="1.9"/>
<line x1="680.35" y1="1035.8" x2="691.85" y2="1035.8" stroke="#000" stroke-width="1.9"/>
<line x1="700.18" y1="1026.9" x2="700.18" y2="1037.58" stroke="#000" stroke-width="1.9"/>
<line x1="694.43" y1="1026.9" x2="705.93" y2="1026.9" stroke="#000" stroke-width="1.9"/>
<line x1="694.43" y1="1037.58" x2="705.93" y2="1037.58" stroke="#000" stroke-width="1.9"/>
<line x1="714.26" y1="1000.22" x2="714.26" y2="1026.9" stroke="#000" stroke-width="1.9"/>
<line x1="708.51" y1="1000.22" x2="720.01" y2="1000.22" stroke="#000" stroke-width="1.9"/>
<line x1="708.51" y1="1026.9" x2="720.01" y2="1026.9" stroke="#000" stroke-width="1.9"/>
<line x1="728.34" y1="1002" x2="728.34" y2="1019.79" stroke="#000" stroke-width="1.9"/>
<line x1="722.59" y1="1002" x2="734.09" y2="1002" stroke="#000" stroke-width="1.9"/>
<line x1="722.59" y1="1019.79" x2="734.09" y2="1019.79" stroke="#000" stroke-width="1.9"/>
<line x1="742.42" y1="984.2" x2="742.42" y2="1010.89" stroke="#000" stroke-width="1.9"/>
<line x1="736.67" y1="984.2" x2="748.17" y2="984.2" stroke="#000" stroke-width="1.9"/>
<line x1="736.67" y1="1010.89" x2="748.17" y2="1010.89" stroke="#000" stroke-width="1.9"/>
<line x1="756.5" y1="975.31" x2="756.5" y2="993.1" stroke="#000" stroke-width="1.9"/>
<line x1="750.75" y1="975.31" x2="762.25" y2="975.31" stroke="#000" stroke-width="1.9"/>
<line x1="750.75" y1="993.1" x2="762.25" y2="993.1" stroke="#000" stroke-width="1.9"/>
<line x1="770.58" y1="942.39" x2="770.58" y2="969.08" stroke="#000" stroke-width="1.9"/>
<line x1="764.83" y1="942.39" x2="776.33" y2="942.39" stroke="#000" stroke-width="1.9"/>
<line x1="764.83" y1="969.08" x2="776.33" y2="969.08" stroke="#000" stroke-width="1.9"/>
<line x1="784.66" y1="922.82" x2="784.66" y2="940.61" stroke="#000" stroke-width="1.9"/>
<line x1="778.91" y1="922.82" x2="790.41" y2="922.82" stroke="#000" stroke-width="1.9"/>
<line x1="778.91" y1="940.61" x2="790.41" y2="940.61" stroke="#000" stroke-width="1.9"/>
<line x1="798.74" y1="891.69" x2="798.74" y2="909.48" stroke="#000" stroke-width="1.9"/>
<line x1="792.99" y1="891.69" x2="804.49" y2="891.69" stroke="#000" stroke-width="1.9"/>
<line x1="792.99" y1="909.48" x2="804.49" y2="909.48" stroke="#000" stroke-width="1.9"/>
<line x1="812.82" y1="890.8" x2="812.82" y2="917.48" stroke="#000" stroke-width="1.9"/>
<line x1="807.07" y1="890.8" x2="818.57" y2="890.8" stroke="#000" stroke-width="1.9"/>
<line x1="807.07" y1="917.48" x2="818.57" y2="917.48" stroke="#000" stroke-width="1.9"/>
<line x1="826.9" y1="880.12" x2="826.9" y2="908.59" stroke="#000" stroke-width="1.9"/>
<line x1="821.15" y1="880.12" x2="832.65" y2="880.12" stroke="#000" stroke-width="1.9"/>
<line x1="821.15" y1="908.59" x2="832.65" y2="908.59" stroke="#000" stroke-width="1.9"/>
<line x1="840.98" y1="889.91" x2="840.98" y2="914.82" stroke="#000" stroke-width="1.9"/>
<line x1="835.23" y1="889.91" x2="846.73" y2="889.91" stroke="#000" stroke-width="1.9"/>
<line x1="835.23" y1="914.82" x2="846.73" y2="914.82" stroke="#000" stroke-width="1.9"/>
<line x1="855.06" y1="881.01" x2="855.06" y2="898.8" stroke="#000" stroke-width="1.9"/>
<line x1="849.31" y1="881.01" x2="860.81" y2="881.01" stroke="#000" stroke-width="1.9"/>
<line x1="849.31" y1="898.8" x2="860.81" y2="898.8" stroke="#000" stroke-width="1.9"/>
<line x1="869.14" y1="889.02" x2="869.14" y2="912.15" stroke="#000" stroke-width="1.9"/>
<line x1="863.39" y1="889.02" x2="874.89" y2="889.02" stroke="#000" stroke-width="1.9"/>
<line x1="863.39" y1="912.15" x2="874.89" y2="912.15" stroke="#000" stroke-width="1.9"/>
<line x1="883.22" y1="900.58" x2="883.22" y2="936.17" stroke="#000" stroke-width="1.9"/>
<line x1="877.47" y1="900.58" x2="888.97" y2="900.58" stroke="#000" stroke-width="1.9"/>
<line x1="877.47" y1="936.17" x2="888.97" y2="936.17" stroke="#000" stroke-width="1.9"/>
<line x1="897.3" y1="915.7" x2="897.3" y2="956.63" stroke="#000" stroke-width="1.9"/>
<line x1="891.55" y1="915.7" x2="903.05" y2="915.7" stroke="#000" stroke-width="1.9"/>
<line x1="891.55" y1="956.63" x2="903.05" y2="956.63" stroke="#000" stroke-width="1.9"/>
<line x1="911.38" y1="900.58" x2="911.38" y2="925.49" stroke="#000" stroke-width="1.9"/>
<line x1="905.63" y1="900.58" x2="917.13" y2="900.58" stroke="#000" stroke-width="1.9"/>
<line x1="905.63" y1="925.49" x2="917.13" y2="925.49" stroke="#000" stroke-width="1.9"/>
<line x1="925.46" y1="905.92" x2="925.46" y2="929.05" stroke="#000" stroke-width="1.9"/>
<line x1="919.71" y1="905.92" x2="931.21" y2="905.92" stroke="#000" stroke-width="1.9"/>
<line x1="919.71" y1="929.05" x2="931.21" y2="929.05" stroke="#000" stroke-width="1.9"/>
<line x1="939.54" y1="905.03" x2="939.54" y2="917.48" stroke="#000" stroke-width="1.9"/>
<line x1="933.79" y1="905.03" x2="945.29" y2="905.03" stroke="#000" stroke-width="1.9"/>
<line x1="933.79" y1="917.48" x2="945.29" y2="917.48" stroke="#000" stroke-width="1.9"/>
<polyline points="615.7,970.86 629.78,992.21 643.86,1005.55 657.94,1014.45 672.02,1014.45 686.1,1022.46 700.18,1032.24 714.26,1013.56 728.34,1010.89 742.42,997.55 756.5,984.2 770.58,955.74 784.66,931.72 798.74,900.58 812.82,904.14 826.9,894.35 840.98,902.36 855.06,889.91 869.14,900.58 883.22,918.37 897.3,936.17 911.38,913.04 925.46,917.48 939.54,911.26" fill="none" stroke="#000" stroke-width="2.1" stroke-linejoin="miter"/>
<circle cx="615.7" cy="970.86" r="6.9" fill="#000"/>
<circle cx="629.78" cy="992.21" r="6.9" fill="#000"/>
<circle cx="643.86" cy="1005.55" r="6.9" fill="#000"/>
<circle cx="657.94" cy="1014.45" r="6.9" fill="#000"/>
<circle cx="672.02" cy="1014.45" r="6.9" fill="#000"/>
<circle cx="686.1" cy="1022.46" r="6.9" fill="#000"/>
<circle cx="700.18" cy="1032.24" r="6.9" fill="#000"/>
<circle cx="714.26" cy="1013.56" r="6.9" fill="#000"/>
<circle cx="728.34" cy="1010.89" r="6.9" fill="#000"/>
<circle cx="742.42" cy="997.55" r="6.9" fill="#000"/>
<circle cx="756.5" cy="984.2" r="6.9" fill="#000"/>
<circle cx="770.58" cy="955.74" r="6.9" fill="#000"/>
<circle cx="784.66" cy="931.72" r="6.9" fill="#000"/>
<circle cx="798.74" cy="900.58" r="6.9" fill="#000"/>
<circle cx="812.82" cy="904.14" r="6.9" fill="#000"/>
<circle cx="826.9" cy="894.35" r="6.9" fill="#000"/>
<circle cx="840.98" cy="902.36" r="6.9" fill="#000"/>
<circle cx="855.06" cy="889.91" r="6.9" fill="#000"/>
<circle cx="869.14" cy="900.58" r="6.9" fill="#000"/>
<circle cx="883.22" cy="918.37" r="6.9" fill="#000"/>
<circle cx="897.3" cy="936.17" r="6.9" fill="#000"/>
<circle cx="911.38" cy="913.04" r="6.9" fill="#000"/>
<circle cx="925.46" cy="917.48" r="6.9" fill="#000"/>
<circle cx="939.54" cy="911.26" r="6.9" fill="#000"/>
<line x1="615.7" y1="1031.35" x2="615.7" y2="1070.5" stroke="#d9362d" stroke-width="1.9"/>
<line x1="609.95" y1="1031.35" x2="621.45" y2="1031.35" stroke="#d9362d" stroke-width="1.9"/>
<line x1="609.95" y1="1070.5" x2="621.45" y2="1070.5" stroke="#d9362d" stroke-width="1.9"/>
<line x1="629.78" y1="1027.79" x2="629.78" y2="1072.27" stroke="#d9362d" stroke-width="1.9"/>
<line x1="624.03" y1="1027.79" x2="635.53" y2="1027.79" stroke="#d9362d" stroke-width="1.9"/>
<line x1="624.03" y1="1072.27" x2="635.53" y2="1072.27" stroke="#d9362d" stroke-width="1.9"/>
<line x1="643.86" y1="1028.68" x2="643.86" y2="1073.16" stroke="#d9362d" stroke-width="1.9"/>
<line x1="638.11" y1="1028.68" x2="649.61" y2="1028.68" stroke="#d9362d" stroke-width="1.9"/>
<line x1="638.11" y1="1073.16" x2="649.61" y2="1073.16" stroke="#d9362d" stroke-width="1.9"/>
<line x1="657.94" y1="1028.68" x2="657.94" y2="1074.94" stroke="#d9362d" stroke-width="1.9"/>
<line x1="652.19" y1="1028.68" x2="663.69" y2="1028.68" stroke="#d9362d" stroke-width="1.9"/>
<line x1="652.19" y1="1074.94" x2="663.69" y2="1074.94" stroke="#d9362d" stroke-width="1.9"/>
<line x1="672.02" y1="1038.47" x2="672.02" y2="1082.95" stroke="#d9362d" stroke-width="1.9"/>
<line x1="666.27" y1="1038.47" x2="677.77" y2="1038.47" stroke="#d9362d" stroke-width="1.9"/>
<line x1="666.27" y1="1082.95" x2="677.77" y2="1082.95" stroke="#d9362d" stroke-width="1.9"/>
<line x1="686.1" y1="1045.59" x2="686.1" y2="1093.62" stroke="#d9362d" stroke-width="1.9"/>
<line x1="680.35" y1="1045.59" x2="691.85" y2="1045.59" stroke="#d9362d" stroke-width="1.9"/>
<line x1="680.35" y1="1093.62" x2="691.85" y2="1093.62" stroke="#d9362d" stroke-width="1.9"/>
<line x1="700.18" y1="1047.37" x2="700.18" y2="1077.61" stroke="#d9362d" stroke-width="1.9"/>
<line x1="694.43" y1="1047.37" x2="705.93" y2="1047.37" stroke="#d9362d" stroke-width="1.9"/>
<line x1="694.43" y1="1077.61" x2="705.93" y2="1077.61" stroke="#d9362d" stroke-width="1.9"/>
<line x1="714.26" y1="1032.24" x2="714.26" y2="1069.61" stroke="#d9362d" stroke-width="1.9"/>
<line x1="708.51" y1="1032.24" x2="720.01" y2="1032.24" stroke="#d9362d" stroke-width="1.9"/>
<line x1="708.51" y1="1069.61" x2="720.01" y2="1069.61" stroke="#d9362d" stroke-width="1.9"/>
<line x1="728.34" y1="1024.24" x2="728.34" y2="1077.61" stroke="#d9362d" stroke-width="1.9"/>
<line x1="722.59" y1="1024.24" x2="734.09" y2="1024.24" stroke="#d9362d" stroke-width="1.9"/>
<line x1="722.59" y1="1077.61" x2="734.09" y2="1077.61" stroke="#d9362d" stroke-width="1.9"/>
<line x1="742.42" y1="1014.45" x2="742.42" y2="1080.28" stroke="#d9362d" stroke-width="1.9"/>
<line x1="736.67" y1="1014.45" x2="748.17" y2="1014.45" stroke="#d9362d" stroke-width="1.9"/>
<line x1="736.67" y1="1080.28" x2="748.17" y2="1080.28" stroke="#d9362d" stroke-width="1.9"/>
<line x1="756.5" y1="1013.56" x2="756.5" y2="1070.5" stroke="#d9362d" stroke-width="1.9"/>
<line x1="750.75" y1="1013.56" x2="762.25" y2="1013.56" stroke="#d9362d" stroke-width="1.9"/>
<line x1="750.75" y1="1070.5" x2="762.25" y2="1070.5" stroke="#d9362d" stroke-width="1.9"/>
<line x1="770.58" y1="1004.66" x2="770.58" y2="1066.94" stroke="#d9362d" stroke-width="1.9"/>
<line x1="764.83" y1="1004.66" x2="776.33" y2="1004.66" stroke="#d9362d" stroke-width="1.9"/>
<line x1="764.83" y1="1066.94" x2="776.33" y2="1066.94" stroke="#d9362d" stroke-width="1.9"/>
<line x1="784.66" y1="985.09" x2="784.66" y2="1045.59" stroke="#d9362d" stroke-width="1.9"/>
<line x1="778.91" y1="985.09" x2="790.41" y2="985.09" stroke="#d9362d" stroke-width="1.9"/>
<line x1="778.91" y1="1045.59" x2="790.41" y2="1045.59" stroke="#d9362d" stroke-width="1.9"/>
<line x1="798.74" y1="965.52" x2="798.74" y2="1015.34" stroke="#d9362d" stroke-width="1.9"/>
<line x1="792.99" y1="965.52" x2="804.49" y2="965.52" stroke="#d9362d" stroke-width="1.9"/>
<line x1="792.99" y1="1015.34" x2="804.49" y2="1015.34" stroke="#d9362d" stroke-width="1.9"/>
<line x1="812.82" y1="965.52" x2="812.82" y2="1027.79" stroke="#d9362d" stroke-width="1.9"/>
<line x1="807.07" y1="965.52" x2="818.57" y2="965.52" stroke="#d9362d" stroke-width="1.9"/>
<line x1="807.07" y1="1027.79" x2="818.57" y2="1027.79" stroke="#d9362d" stroke-width="1.9"/>
<line x1="826.9" y1="954.85" x2="826.9" y2="1020.68" stroke="#d9362d" stroke-width="1.9"/>
<line x1="821.15" y1="954.85" x2="832.65" y2="954.85" stroke="#d9362d" stroke-width="1.9"/>
<line x1="821.15" y1="1020.68" x2="832.65" y2="1020.68" stroke="#d9362d" stroke-width="1.9"/>
<line x1="840.98" y1="953.07" x2="840.98" y2="1002.89" stroke="#d9362d" stroke-width="1.9"/>
<line x1="835.23" y1="953.07" x2="846.73" y2="953.07" stroke="#d9362d" stroke-width="1.9"/>
<line x1="835.23" y1="1002.89" x2="846.73" y2="1002.89" stroke="#d9362d" stroke-width="1.9"/>
<line x1="855.06" y1="969.08" x2="855.06" y2="1018.9" stroke="#d9362d" stroke-width="1.9"/>
<line x1="849.31" y1="969.08" x2="860.81" y2="969.08" stroke="#d9362d" stroke-width="1.9"/>
<line x1="849.31" y1="1018.9" x2="860.81" y2="1018.9" stroke="#d9362d" stroke-width="1.9"/>
<line x1="869.14" y1="955.74" x2="869.14" y2="1000.22" stroke="#d9362d" stroke-width="1.9"/>
<line x1="863.39" y1="955.74" x2="874.89" y2="955.74" stroke="#d9362d" stroke-width="1.9"/>
<line x1="863.39" y1="1000.22" x2="874.89" y2="1000.22" stroke="#d9362d" stroke-width="1.9"/>
<line x1="883.22" y1="958.41" x2="883.22" y2="1018.9" stroke="#d9362d" stroke-width="1.9"/>
<line x1="877.47" y1="958.41" x2="888.97" y2="958.41" stroke="#d9362d" stroke-width="1.9"/>
<line x1="877.47" y1="1018.9" x2="888.97" y2="1018.9" stroke="#d9362d" stroke-width="1.9"/>
<line x1="897.3" y1="961.07" x2="897.3" y2="1018.01" stroke="#d9362d" stroke-width="1.9"/>
<line x1="891.55" y1="961.07" x2="903.05" y2="961.07" stroke="#d9362d" stroke-width="1.9"/>
<line x1="891.55" y1="1018.01" x2="903.05" y2="1018.01" stroke="#d9362d" stroke-width="1.9"/>
<line x1="911.38" y1="975.31" x2="911.38" y2="1028.68" stroke="#d9362d" stroke-width="1.9"/>
<line x1="905.63" y1="975.31" x2="917.13" y2="975.31" stroke="#d9362d" stroke-width="1.9"/>
<line x1="905.63" y1="1028.68" x2="917.13" y2="1028.68" stroke="#d9362d" stroke-width="1.9"/>
<line x1="925.46" y1="989.54" x2="925.46" y2="1035.8" stroke="#d9362d" stroke-width="1.9"/>
<line x1="919.71" y1="989.54" x2="931.21" y2="989.54" stroke="#d9362d" stroke-width="1.9"/>
<line x1="919.71" y1="1035.8" x2="931.21" y2="1035.8" stroke="#d9362d" stroke-width="1.9"/>
<line x1="939.54" y1="985.98" x2="939.54" y2="1019.79" stroke="#d9362d" stroke-width="1.9"/>
<line x1="933.79" y1="985.98" x2="945.29" y2="985.98" stroke="#d9362d" stroke-width="1.9"/>
<line x1="933.79" y1="1019.79" x2="945.29" y2="1019.79" stroke="#d9362d" stroke-width="1.9"/>
<polyline points="615.7,1050.92 629.78,1050.03 643.86,1050.92 657.94,1051.81 672.02,1060.71 686.1,1069.61 700.18,1062.49 714.26,1050.92 728.34,1050.92 742.42,1047.37 756.5,1042.03 770.58,1035.8 784.66,1015.34 798.74,990.43 812.82,996.66 826.9,987.76 840.98,977.98 855.06,993.99 869.14,977.98 883.22,988.65 897.3,989.54 911.38,1002 925.46,1012.67 939.54,1002.89" fill="none" stroke="#d9362d" stroke-width="2.1" stroke-linejoin="miter"/>
<circle cx="615.7" cy="1050.92" r="6.9" fill="#d9362d"/>
<circle cx="629.78" cy="1050.03" r="6.9" fill="#d9362d"/>
<circle cx="643.86" cy="1050.92" r="6.9" fill="#d9362d"/>
<circle cx="657.94" cy="1051.81" r="6.9" fill="#d9362d"/>
<circle cx="672.02" cy="1060.71" r="6.9" fill="#d9362d"/>
<circle cx="686.1" cy="1069.61" r="6.9" fill="#d9362d"/>
<circle cx="700.18" cy="1062.49" r="6.9" fill="#d9362d"/>
<circle cx="714.26" cy="1050.92" r="6.9" fill="#d9362d"/>
<circle cx="728.34" cy="1050.92" r="6.9" fill="#d9362d"/>
<circle cx="742.42" cy="1047.37" r="6.9" fill="#d9362d"/>
<circle cx="756.5" cy="1042.03" r="6.9" fill="#d9362d"/>
<circle cx="770.58" cy="1035.8" r="6.9" fill="#d9362d"/>
<circle cx="784.66" cy="1015.34" r="6.9" fill="#d9362d"/>
<circle cx="798.74" cy="990.43" r="6.9" fill="#d9362d"/>
<circle cx="812.82" cy="996.66" r="6.9" fill="#d9362d"/>
<circle cx="826.9" cy="987.76" r="6.9" fill="#d9362d"/>
<circle cx="840.98" cy="977.98" r="6.9" fill="#d9362d"/>
<circle cx="855.06" cy="993.99" r="6.9" fill="#d9362d"/>
<circle cx="869.14" cy="977.98" r="6.9" fill="#d9362d"/>
<circle cx="883.22" cy="988.65" r="6.9" fill="#d9362d"/>
<circle cx="897.3" cy="989.54" r="6.9" fill="#d9362d"/>
<circle cx="911.38" cy="1002" r="6.9" fill="#d9362d"/>
<circle cx="925.46" cy="1012.67" r="6.9" fill="#d9362d"/>
<circle cx="939.54" cy="1002.89" r="6.9" fill="#d9362d"/>
<line x1="615.7" y1="768.9" x2="615.7" y2="1217.4" stroke="#000" stroke-width="3.8"/>
<line x1="599.6" y1="1215.5" x2="617.6" y2="1215.5" stroke="#000" stroke-width="3.6"/>
<text transform="translate(595.4 1224.8) scale(1 1.04)" font-size="26" text-anchor="end" fill="#000">0.6</text>
<line x1="599.6" y1="1126.54" x2="617.6" y2="1126.54" stroke="#000" stroke-width="3.6"/>
<text transform="translate(595.4 1135.84) scale(1 1.04)" font-size="26" text-anchor="end" fill="#000">0.7</text>
<line x1="599.6" y1="1037.58" x2="617.6" y2="1037.58" stroke="#000" stroke-width="3.6"/>
<text transform="translate(595.4 1046.88) scale(1 1.04)" font-size="26" text-anchor="end" fill="#000">0.8</text>
<line x1="599.6" y1="948.62" x2="617.6" y2="948.62" stroke="#000" stroke-width="3.6"/>
<text transform="translate(595.4 957.92) scale(1 1.04)" font-size="26" text-anchor="end" fill="#000">0.9</text>
<line x1="599.6" y1="859.66" x2="617.6" y2="859.66" stroke="#000" stroke-width="3.6"/>
<text transform="translate(595.4 868.96) scale(1 1.04)" font-size="26" text-anchor="end" fill="#000">1.0</text>
<line x1="599.6" y1="770.7" x2="617.6" y2="770.7" stroke="#000" stroke-width="3.6"/>
<text transform="translate(595.4 780) scale(1 1.04)" font-size="26" text-anchor="end" fill="#000">1.1</text>
<line x1="599.6" y1="1215.5" x2="953.6" y2="1215.5" stroke="#000" stroke-width="3.8"/>
<line x1="615.7" y1="1215.5" x2="615.7" y2="1232.5" stroke="#000" stroke-width="3.6"/>
<text transform="translate(615.7 1263) scale(1 1.04)" font-size="28" text-anchor="middle" fill="#000">0</text>
<line x1="784.66" y1="1215.5" x2="784.66" y2="1232.5" stroke="#000" stroke-width="3.6"/>
<text transform="translate(784.66 1263) scale(1 1.04)" font-size="28" text-anchor="middle" fill="#000">12</text>
<line x1="953.62" y1="1215.5" x2="953.62" y2="1232.5" stroke="#000" stroke-width="3.6"/>
<text transform="translate(953.62 1263) scale(1 1.04)" font-size="28" text-anchor="middle" fill="#000">24</text>
<text transform="translate(785.9 1293.2) scale(1 1.04)" font-size="28.5" text-anchor="middle" fill="#000">Zeitgeber Time (h)</text>
<text transform="translate(540.6 993) rotate(-90) scale(1 1.04)" font-size="28.8" text-anchor="middle" fill="#000">RER (kcal/h/kg)</text>
<line x1="744" y1="1148.2" x2="787.5" y2="1148.2" stroke="#000" stroke-width="2.1"/>
<circle cx="765.7" cy="1148.2" r="6.9" fill="#000"/>
<text transform="translate(812.5 1157.2) scale(1 1.04)" font-size="25.8" fill="#000">3 mo P301S</text>
<line x1="744" y1="1175.6" x2="787.5" y2="1175.6" stroke="#529dfc" stroke-width="2.1"/>
<circle cx="765.7" cy="1175.6" r="6.9" fill="#529dfc"/>
<text transform="translate(812.5 1184.6) scale(1 1.04)" font-size="25.8" fill="#000">6 mo P301S</text>
<line x1="744" y1="1201" x2="787.5" y2="1201" stroke="#d9362d" stroke-width="2.1"/>
<circle cx="765.7" cy="1201" r="6.9" fill="#d9362d"/>
<text transform="translate(812.5 1210) scale(1 1.04)" font-size="25.8" fill="#000">9 mo P301S</text>
<text transform="translate(1206.3 719.6) scale(1 1.04)" font-size="43" text-anchor="middle" fill="#000">Light</text>
<rect x="1126.6" y="1021.2" width="23.9" height="192.5" fill="#000"/>
<rect x="1130.7" y="1025.3" width="15.7" height="186.6" fill="#7b7b7b"/>
<rect x="1149.6" y="1025.5" width="24.4" height="188.2" fill="#000"/>
<rect x="1154.6" y="1029.6" width="15.3" height="182.3" fill="#2f2f2f"/>
<rect x="1186.2" y="994" width="23.4" height="219.7" fill="#000"/>
<rect x="1190.3" y="998.1" width="15.2" height="213.8" fill="#e6b030"/>
<rect x="1208.7" y="991.4" width="24.8" height="222.3" fill="#000"/>
<rect x="1213.7" y="995.5" width="15.7" height="216.4" fill="#529dfc"/>
<rect x="1245.4" y="1058.3" width="23.8" height="155.4" fill="#000"/>
<rect x="1249.5" y="1062.4" width="15.6" height="149.5" fill="#c876ae"/>
<rect x="1268.3" y="1057" width="24.6" height="156.7" fill="#000"/>
<rect x="1273.3" y="1061.1" width="15.5" height="150.8" fill="#d9362d"/>
<line x1="1138.55" y1="1013" x2="1138.55" y2="1031" stroke="#000" stroke-width="3.4"/>
<line x1="1132.55" y1="1013" x2="1144.55" y2="1013" stroke="#000" stroke-width="3.4"/>
<line x1="1132.55" y1="1031" x2="1144.55" y2="1031" stroke="#000" stroke-width="3.4"/>
<line x1="1162.25" y1="1018" x2="1162.25" y2="1033" stroke="#000" stroke-width="3.4"/>
<line x1="1156.25" y1="1018" x2="1168.25" y2="1018" stroke="#000" stroke-width="3.4"/>
<line x1="1156.25" y1="1033" x2="1168.25" y2="1033" stroke="#000" stroke-width="3.4"/>
<line x1="1197.9" y1="987" x2="1197.9" y2="1001" stroke="#000" stroke-width="3.4"/>
<line x1="1191.9" y1="987" x2="1203.9" y2="987" stroke="#000" stroke-width="3.4"/>
<line x1="1191.9" y1="1001" x2="1203.9" y2="1001" stroke="#000" stroke-width="3.4"/>
<line x1="1221.55" y1="979" x2="1221.55" y2="1002" stroke="#000" stroke-width="3.4"/>
<line x1="1215.55" y1="979" x2="1227.55" y2="979" stroke="#000" stroke-width="3.4"/>
<line x1="1215.55" y1="1002" x2="1227.55" y2="1002" stroke="#000" stroke-width="3.4"/>
<line x1="1257.3" y1="1054" x2="1257.3" y2="1066" stroke="#000" stroke-width="3.4"/>
<line x1="1251.3" y1="1054" x2="1263.3" y2="1054" stroke="#000" stroke-width="3.4"/>
<line x1="1251.3" y1="1066" x2="1263.3" y2="1066" stroke="#000" stroke-width="3.4"/>
<line x1="1281.05" y1="1048" x2="1281.05" y2="1076" stroke="#000" stroke-width="3.4"/>
<line x1="1275.05" y1="1048" x2="1287.05" y2="1048" stroke="#000" stroke-width="3.4"/>
<line x1="1275.05" y1="1076" x2="1287.05" y2="1076" stroke="#000" stroke-width="3.4"/>
<circle cx="1138.55" cy="993" r="4.35" fill="#000"/>
<circle cx="1138.55" cy="1003" r="4.35" fill="#000"/>
<circle cx="1134.55" cy="1010" r="4.35" fill="#000"/>
<circle cx="1144.55" cy="1015" r="4.35" fill="#000"/>
<circle cx="1132.55" cy="1025" r="4.35" fill="#000"/>
<circle cx="1142.55" cy="1028" r="4.35" fill="#000"/>
<circle cx="1131.55" cy="1040" r="4.35" fill="#000"/>
<path d="M1155.25 1009.51L1159.55 1017.68L1150.95 1017.68Z" fill="#000"/>
<path d="M1169.25 1003.51L1173.55 1011.68L1164.95 1011.68Z" fill="#000"/>
<path d="M1164.25 1016.51L1168.55 1024.68L1159.95 1024.68Z" fill="#000"/>
<path d="M1157.25 1023.51L1161.55 1031.68L1152.95 1031.68Z" fill="#000"/>
<path d="M1163.25 1043.51L1167.55 1051.68L1158.95 1051.68Z" fill="#000"/>
<circle cx="1197.9" cy="969" r="4.35" fill="#000"/>
<circle cx="1190.9" cy="985" r="4.35" fill="#000"/>
<circle cx="1204.9" cy="982" r="4.35" fill="#000"/>
<circle cx="1193.9" cy="1000" r="4.35" fill="#000"/>
<circle cx="1203.9" cy="1003" r="4.35" fill="#000"/>
<circle cx="1190.9" cy="1011" r="4.35" fill="#000"/>
<path d="M1212.55 963.51L1216.85 971.68L1208.25 971.68Z" fill="#000"/>
<path d="M1230.55 961.51L1234.85 969.68L1226.25 969.68Z" fill="#000"/>
<path d="M1221.55 974.51L1225.85 982.68L1217.25 982.68Z" fill="#000"/>
<path d="M1221.55 1010.51L1225.85 1018.68L1217.25 1018.68Z" fill="#000"/>
<path d="M1221.55 1020.51L1225.85 1028.68L1217.25 1028.68Z" fill="#000"/>
<circle cx="1250.3" cy="1046" r="4.35" fill="#000"/>
<circle cx="1264.3" cy="1052" r="4.35" fill="#000"/>
<circle cx="1254.3" cy="1058" r="4.35" fill="#000"/>
<circle cx="1259.3" cy="1068" r="4.35" fill="#000"/>
<circle cx="1257.3" cy="1083" r="4.35" fill="#000"/>
<path d="M1273.05 1017.51L1277.35 1025.68L1268.75 1025.68Z" fill="#000"/>
<path d="M1289.05 1011.51L1293.35 1019.68L1284.75 1019.68Z" fill="#000"/>
<path d="M1281.05 1070.51L1285.35 1078.68L1276.75 1078.68Z" fill="#000"/>
<path d="M1281.05 1092.51L1285.35 1100.68L1276.75 1100.68Z" fill="#000"/>
<path d="M1287.05 1063.51L1291.35 1071.68L1282.75 1071.68Z" fill="#000"/>
<line x1="1114.3" y1="882.1" x2="1114.3" y2="1215.6" stroke="#000" stroke-width="3.8"/>
<line x1="1097.2" y1="1213.7" x2="1116.2" y2="1213.7" stroke="#000" stroke-width="3.6"/>
<text transform="translate(1093 1223) scale(1 1.04)" font-size="26" text-anchor="end" fill="#000">0.5</text>
<line x1="1097.2" y1="1158.73" x2="1116.2" y2="1158.73" stroke="#000" stroke-width="3.6"/>
<text transform="translate(1093 1168.03) scale(1 1.04)" font-size="26" text-anchor="end" fill="#000">0.6</text>
<line x1="1097.2" y1="1103.77" x2="1116.2" y2="1103.77" stroke="#000" stroke-width="3.6"/>
<text transform="translate(1093 1113.07) scale(1 1.04)" font-size="26" text-anchor="end" fill="#000">0.7</text>
<line x1="1097.2" y1="1048.8" x2="1116.2" y2="1048.8" stroke="#000" stroke-width="3.6"/>
<text transform="translate(1093 1058.1) scale(1 1.04)" font-size="26" text-anchor="end" fill="#000">0.8</text>
<line x1="1097.2" y1="993.83" x2="1116.2" y2="993.83" stroke="#000" stroke-width="3.6"/>
<text transform="translate(1093 1003.13) scale(1 1.04)" font-size="26" text-anchor="end" fill="#000">0.9</text>
<line x1="1097.2" y1="938.87" x2="1116.2" y2="938.87" stroke="#000" stroke-width="3.6"/>
<text transform="translate(1093 948.17) scale(1 1.04)" font-size="26" text-anchor="end" fill="#000">1.0</text>
<line x1="1097.2" y1="883.9" x2="1116.2" y2="883.9" stroke="#000" stroke-width="3.6"/>
<text transform="translate(1093 893.2) scale(1 1.04)" font-size="26" text-anchor="end" fill="#000">1.1</text>
<line x1="1097.2" y1="1213.7" x2="1306.5" y2="1213.7" stroke="#000" stroke-width="3.8"/>
<line x1="1150.5" y1="1213.7" x2="1150.5" y2="1230.7" stroke="#000" stroke-width="3.6"/>
<line x1="1209.6" y1="1213.7" x2="1209.6" y2="1230.7" stroke="#000" stroke-width="3.6"/>
<line x1="1269.2" y1="1213.7" x2="1269.2" y2="1230.7" stroke="#000" stroke-width="3.6"/>
<text transform="translate(1159 1252.2) rotate(-45) scale(1 1.04)" font-size="26" text-anchor="end" fill="#000">3 mo</text>
<text transform="translate(1218.1 1252.2) rotate(-45) scale(1 1.04)" font-size="26" text-anchor="end" fill="#000">6 mo</text>
<text transform="translate(1277.7 1252.2) rotate(-45) scale(1 1.04)" font-size="26" text-anchor="end" fill="#000">9 mo</text>
<path d="M1137.8 988V804.2H1257.8V828.3" fill="none" stroke="#000" stroke-width="3.5" stroke-linejoin="miter"/>
<path d="M1161.5 926.8V850.5H1281.6V897" fill="none" stroke="#000" stroke-width="3.5" stroke-linejoin="miter"/>
<path d="M1197 910.2V891.2H1257.8V909.5" fill="none" stroke="#000" stroke-width="3.5" stroke-linejoin="miter"/>
<path d="M1161.5 1004.6V941.2H1212.7V960" fill="none" stroke="#000" stroke-width="3.5" stroke-linejoin="miter"/>
<path d="M1229.3 960V941.2H1281.6V1010.3" fill="none" stroke="#000" stroke-width="3.5" stroke-linejoin="miter"/>
<text x="1198.12" y="795.52" font-size="30.7" text-anchor="middle" letter-spacing="2.05" stroke="#000" stroke-width="0.85" style="font-family:'DejaVu Sans',sans-serif">**</text>
<text x="1222.03" y="842.52" font-size="30.7" text-anchor="middle" letter-spacing="2.05" stroke="#000" stroke-width="0.85" style="font-family:'DejaVu Sans',sans-serif">*</text>
<text x="1227.12" y="882.42" font-size="30.7" text-anchor="middle" letter-spacing="2.05" stroke="#000" stroke-width="0.85" style="font-family:'DejaVu Sans',sans-serif">****</text>
<text x="1188.23" y="932.52" font-size="30.7" text-anchor="middle" letter-spacing="2.05" stroke="#000" stroke-width="0.85" style="font-family:'DejaVu Sans',sans-serif">*</text>
<text x="1254.53" y="932.52" font-size="30.7" text-anchor="middle" letter-spacing="2.05" stroke="#000" stroke-width="0.85" style="font-family:'DejaVu Sans',sans-serif">****</text>
<text transform="translate(1036.8 1048.5) rotate(-90) scale(1 1.04)" font-size="28.8" text-anchor="middle" fill="#000">RER (kcal/h/kg)</text>
<text transform="translate(1543.7 719.6) scale(1 1.04)" font-size="43" text-anchor="middle" fill="#000">Dark</text>
<rect x="1465.9" y="979.8" width="23.1" height="236.9" fill="#000"/>
<rect x="1470" y="983.9" width="14.9" height="231" fill="#7b7b7b"/>
<rect x="1488.1" y="973.2" width="23.5" height="243.5" fill="#000"/>
<rect x="1493.1" y="977.3" width="14.4" height="237.6" fill="#2f2f2f"/>
<rect x="1524.9" y="968.2" width="22.4" height="248.5" fill="#000"/>
<rect x="1529" y="972.3" width="14.2" height="242.6" fill="#e6b030"/>
<rect x="1546.4" y="950" width="23.9" height="266.7" fill="#000"/>
<rect x="1551.4" y="954.1" width="14.8" height="260.8" fill="#529dfc"/>
<rect x="1585.2" y="1071" width="21.5" height="145.7" fill="#000"/>
<rect x="1589.3" y="1075.1" width="13.3" height="139.8" fill="#c876ae"/>
<rect x="1605.8" y="1025.2" width="24.1" height="191.5" fill="#000"/>
<rect x="1610.8" y="1029.3" width="15" height="185.6" fill="#d9362d"/>
<line x1="1477.45" y1="974" x2="1477.45" y2="986" stroke="#000" stroke-width="3.4"/>
<line x1="1471.45" y1="974" x2="1483.45" y2="974" stroke="#000" stroke-width="3.4"/>
<line x1="1471.45" y1="986" x2="1483.45" y2="986" stroke="#000" stroke-width="3.4"/>
<line x1="1500.3" y1="966" x2="1500.3" y2="980" stroke="#000" stroke-width="3.4"/>
<line x1="1494.3" y1="966" x2="1506.3" y2="966" stroke="#000" stroke-width="3.4"/>
<line x1="1494.3" y1="980" x2="1506.3" y2="980" stroke="#000" stroke-width="3.4"/>
<line x1="1536.1" y1="961" x2="1536.1" y2="976" stroke="#000" stroke-width="3.4"/>
<line x1="1530.1" y1="961" x2="1542.1" y2="961" stroke="#000" stroke-width="3.4"/>
<line x1="1530.1" y1="976" x2="1542.1" y2="976" stroke="#000" stroke-width="3.4"/>
<line x1="1558.8" y1="928" x2="1558.8" y2="972" stroke="#000" stroke-width="3.4"/>
<line x1="1552.8" y1="928" x2="1564.8" y2="928" stroke="#000" stroke-width="3.4"/>
<line x1="1552.8" y1="972" x2="1564.8" y2="972" stroke="#000" stroke-width="3.4"/>
<line x1="1595.95" y1="1051" x2="1595.95" y2="1089" stroke="#000" stroke-width="3.4"/>
<line x1="1589.95" y1="1051" x2="1601.95" y2="1051" stroke="#000" stroke-width="3.4"/>
<line x1="1589.95" y1="1089" x2="1601.95" y2="1089" stroke="#000" stroke-width="3.4"/>
<line x1="1618.3" y1="1009" x2="1618.3" y2="1042" stroke="#000" stroke-width="3.4"/>
<line x1="1612.3" y1="1009" x2="1624.3" y2="1009" stroke="#000" stroke-width="3.4"/>
<line x1="1612.3" y1="1042" x2="1624.3" y2="1042" stroke="#000" stroke-width="3.4"/>
<circle cx="1469.45" cy="962" r="4.35" fill="#000"/>
<circle cx="1485.45" cy="963" r="4.35" fill="#000"/>
<circle cx="1473.45" cy="975" r="4.35" fill="#000"/>
<circle cx="1483.45" cy="980" r="4.35" fill="#000"/>
<circle cx="1476.45" cy="999" r="4.35" fill="#000"/>
<circle cx="1480.45" cy="985" r="4.35" fill="#000"/>
<path d="M1494.3 955.51L1498.6 963.68L1490 963.68Z" fill="#000"/>
<path d="M1506.3 957.51L1510.6 965.68L1502 965.68Z" fill="#000"/>
<path d="M1500.3 963.51L1504.6 971.68L1496 971.68Z" fill="#000"/>
<path d="M1497.3 970.51L1501.6 978.68L1493 978.68Z" fill="#000"/>
<path d="M1504.3 967.51L1508.6 975.68L1500 975.68Z" fill="#000"/>
<circle cx="1528.1" cy="954" r="4.35" fill="#000"/>
<circle cx="1544.1" cy="958" r="4.35" fill="#000"/>
<circle cx="1536.1" cy="962" r="4.35" fill="#000"/>
<circle cx="1533.1" cy="978" r="4.35" fill="#000"/>
<circle cx="1541.1" cy="983" r="4.35" fill="#000"/>
<circle cx="1528.1" cy="990" r="4.35" fill="#000"/>
<path d="M1558.8 888.51L1563.1 896.68L1554.5 896.68Z" fill="#000"/>
<path d="M1558.8 905.51L1563.1 913.68L1554.5 913.68Z" fill="#000"/>
<path d="M1558.8 923.51L1563.1 931.68L1554.5 931.68Z" fill="#000"/>
<path d="M1558.8 945.51L1563.1 953.68L1554.5 953.68Z" fill="#000"/>
<path d="M1558.8 970.51L1563.1 978.68L1554.5 978.68Z" fill="#000"/>
<path d="M1558.8 1011.51L1563.1 1019.68L1554.5 1019.68Z" fill="#000"/>
<circle cx="1595.95" cy="1014" r="4.35" fill="#000"/>
<circle cx="1595.95" cy="1035" r="4.35" fill="#000"/>
<circle cx="1595.95" cy="1060" r="4.35" fill="#000"/>
<circle cx="1592.95" cy="1070" r="4.35" fill="#000"/>
<circle cx="1598.95" cy="1080" r="4.35" fill="#000"/>
<circle cx="1595.95" cy="1142" r="4.35" fill="#000"/>
<path d="M1611.3 991.51L1615.6 999.68L1607 999.68Z" fill="#000"/>
<path d="M1626.3 993.51L1630.6 1001.68L1622 1001.68Z" fill="#000"/>
<path d="M1618.3 978.51L1622.6 986.68L1614 986.68Z" fill="#000"/>
<path d="M1618.3 1035.51L1622.6 1043.68L1614 1043.68Z" fill="#000"/>
<path d="M1618.3 1045.51L1622.6 1053.68L1614 1053.68Z" fill="#000"/>
<path d="M1618.3 1067.51L1622.6 1075.68L1614 1075.68Z" fill="#000"/>
<line x1="1453.3" y1="884.2" x2="1453.3" y2="1218.6" stroke="#000" stroke-width="3.8"/>
<line x1="1436" y1="1216.7" x2="1455.2" y2="1216.7" stroke="#000" stroke-width="3.6"/>
<text transform="translate(1431.8 1226) scale(1 1.04)" font-size="26" text-anchor="end" fill="#000">0.5</text>
<line x1="1436" y1="1161.58" x2="1455.2" y2="1161.58" stroke="#000" stroke-width="3.6"/>
<text transform="translate(1431.8 1170.88) scale(1 1.04)" font-size="26" text-anchor="end" fill="#000">0.6</text>
<line x1="1436" y1="1106.47" x2="1455.2" y2="1106.47" stroke="#000" stroke-width="3.6"/>
<text transform="translate(1431.8 1115.77) scale(1 1.04)" font-size="26" text-anchor="end" fill="#000">0.7</text>
<line x1="1436" y1="1051.35" x2="1455.2" y2="1051.35" stroke="#000" stroke-width="3.6"/>
<text transform="translate(1431.8 1060.65) scale(1 1.04)" font-size="26" text-anchor="end" fill="#000">0.8</text>
<line x1="1436" y1="996.23" x2="1455.2" y2="996.23" stroke="#000" stroke-width="3.6"/>
<text transform="translate(1431.8 1005.53) scale(1 1.04)" font-size="26" text-anchor="end" fill="#000">0.9</text>
<line x1="1436" y1="941.12" x2="1455.2" y2="941.12" stroke="#000" stroke-width="3.6"/>
<text transform="translate(1431.8 950.42) scale(1 1.04)" font-size="26" text-anchor="end" fill="#000">1.0</text>
<line x1="1436" y1="886" x2="1455.2" y2="886" stroke="#000" stroke-width="3.6"/>
<text transform="translate(1431.8 895.3) scale(1 1.04)" font-size="26" text-anchor="end" fill="#000">1.1</text>
<line x1="1436" y1="1216.7" x2="1644.2" y2="1216.7" stroke="#000" stroke-width="3.8"/>
<line x1="1489" y1="1216.7" x2="1489" y2="1233.7" stroke="#000" stroke-width="3.6"/>
<line x1="1547.3" y1="1216.7" x2="1547.3" y2="1233.7" stroke="#000" stroke-width="3.6"/>
<line x1="1606.7" y1="1216.7" x2="1606.7" y2="1233.7" stroke="#000" stroke-width="3.6"/>
<text transform="translate(1497.5 1255.2) rotate(-45) scale(1 1.04)" font-size="26" text-anchor="end" fill="#000">3 mo</text>
<text transform="translate(1555.8 1255.2) rotate(-45) scale(1 1.04)" font-size="26" text-anchor="end" fill="#000">6 mo</text>
<text transform="translate(1615.2 1255.2) rotate(-45) scale(1 1.04)" font-size="26" text-anchor="end" fill="#000">9 mo</text>
<path d="M1499.7 858.2V763.7H1619.3V786" fill="none" stroke="#000" stroke-width="3.5" stroke-linejoin="miter"/>
<path d="M1558.7 818.4V805.8H1619.3V898" fill="none" stroke="#000" stroke-width="3.5" stroke-linejoin="miter"/>
<path d="M1535.5 860.5V847.2H1595.1V860.5" fill="none" stroke="#000" stroke-width="3.5" stroke-linejoin="miter"/>
<path d="M1474.8 951V886H1586.8V1002.3" fill="none" stroke="#000" stroke-width="3.5" stroke-linejoin="miter"/>
<path d="M1602.4 971.5V950H1618.3V971.5" fill="none" stroke="#000" stroke-width="3.5" stroke-linejoin="miter"/>
<text x="1560.12" y="762.52" font-size="25" text-anchor="middle" letter-spacing="3.65" stroke="#000" stroke-width="0.6" style="font-family:'DejaVu Sans',sans-serif">*</text>
<text x="1589.42" y="803.82" font-size="25" text-anchor="middle" letter-spacing="3.65" stroke="#000" stroke-width="0.6" style="font-family:'DejaVu Sans',sans-serif">***</text>
<text x="1565.62" y="844.92" font-size="25" text-anchor="middle" letter-spacing="3.65" stroke="#000" stroke-width="0.6" style="font-family:'DejaVu Sans',sans-serif">****</text>
<text x="1531.92" y="883.62" font-size="25" text-anchor="middle" letter-spacing="3.65" stroke="#000" stroke-width="0.6" style="font-family:'DejaVu Sans',sans-serif">****</text>
<text x="1611.73" y="949.32" font-size="25" text-anchor="middle" letter-spacing="3.65" stroke="#000" stroke-width="0.6" style="font-family:'DejaVu Sans',sans-serif">*</text>
<text transform="translate(1376.8 1051) rotate(-90) scale(1 1.04)" font-size="28.8" text-anchor="middle" fill="#000">RER (kcal/h/kg)</text>
<text transform="translate(1875 719.1) scale(1 1.04)" font-size="43" text-anchor="middle" fill="#000">Total</text>
<rect x="1813.1" y="993" width="22.5" height="217.1" fill="#000"/>
<rect x="1817.2" y="997.1" width="14.3" height="211.2" fill="#7b7b7b"/>
<rect x="1834.7" y="995.4" width="24.1" height="214.7" fill="#000"/>
<rect x="1839.7" y="999.5" width="15" height="208.8" fill="#2f2f2f"/>
<rect x="1872.8" y="976.5" width="22.5" height="233.6" fill="#000"/>
<rect x="1876.9" y="980.6" width="14.3" height="227.7" fill="#e6b030"/>
<rect x="1894.4" y="966.5" width="23.4" height="243.6" fill="#000"/>
<rect x="1899.4" y="970.6" width="14.3" height="237.7" fill="#529dfc"/>
<rect x="1932.4" y="1076.6" width="21.9" height="133.5" fill="#000"/>
<rect x="1936.5" y="1080.7" width="13.7" height="127.6" fill="#c876ae"/>
<rect x="1953.4" y="1036.1" width="24.1" height="174" fill="#000"/>
<rect x="1958.4" y="1040.2" width="15" height="168.1" fill="#d9362d"/>
<line x1="1824.35" y1="988" x2="1824.35" y2="998" stroke="#000" stroke-width="3.4"/>
<line x1="1818.35" y1="988" x2="1830.35" y2="988" stroke="#000" stroke-width="3.4"/>
<line x1="1818.35" y1="998" x2="1830.35" y2="998" stroke="#000" stroke-width="3.4"/>
<line x1="1847.2" y1="989" x2="1847.2" y2="1000" stroke="#000" stroke-width="3.4"/>
<line x1="1841.2" y1="989" x2="1853.2" y2="989" stroke="#000" stroke-width="3.4"/>
<line x1="1841.2" y1="1000" x2="1853.2" y2="1000" stroke="#000" stroke-width="3.4"/>
<line x1="1884.05" y1="968" x2="1884.05" y2="984" stroke="#000" stroke-width="3.4"/>
<line x1="1878.05" y1="968" x2="1890.05" y2="968" stroke="#000" stroke-width="3.4"/>
<line x1="1878.05" y1="984" x2="1890.05" y2="984" stroke="#000" stroke-width="3.4"/>
<line x1="1906.55" y1="950" x2="1906.55" y2="985" stroke="#000" stroke-width="3.4"/>
<line x1="1900.55" y1="950" x2="1912.55" y2="950" stroke="#000" stroke-width="3.4"/>
<line x1="1900.55" y1="985" x2="1912.55" y2="985" stroke="#000" stroke-width="3.4"/>
<line x1="1943.35" y1="1065" x2="1943.35" y2="1088" stroke="#000" stroke-width="3.4"/>
<line x1="1937.35" y1="1065" x2="1949.35" y2="1065" stroke="#000" stroke-width="3.4"/>
<line x1="1937.35" y1="1088" x2="1949.35" y2="1088" stroke="#000" stroke-width="3.4"/>
<line x1="1965.9" y1="1022" x2="1965.9" y2="1050" stroke="#000" stroke-width="3.4"/>
<line x1="1959.9" y1="1022" x2="1971.9" y2="1022" stroke="#000" stroke-width="3.4"/>
<line x1="1959.9" y1="1050" x2="1971.9" y2="1050" stroke="#000" stroke-width="3.4"/>
<circle cx="1816.35" cy="984" r="4.35" fill="#000"/>
<circle cx="1832.35" cy="982" r="4.35" fill="#000"/>
<circle cx="1824.35" cy="990" r="4.35" fill="#000"/>
<circle cx="1820.35" cy="998" r="4.35" fill="#000"/>
<circle cx="1829.35" cy="1000" r="4.35" fill="#000"/>
<circle cx="1817.35" cy="1010" r="4.35" fill="#000"/>
<circle cx="1831.35" cy="1009" r="4.35" fill="#000"/>
<path d="M1841.2 977.51L1845.5 985.68L1836.9 985.68Z" fill="#000"/>
<path d="M1853.2 979.51L1857.5 987.68L1848.9 987.68Z" fill="#000"/>
<path d="M1847.2 985.51L1851.5 993.68L1842.9 993.68Z" fill="#000"/>
<path d="M1844.2 994.51L1848.5 1002.68L1839.9 1002.68Z" fill="#000"/>
<path d="M1851.2 1001.51L1855.5 1009.68L1846.9 1009.68Z" fill="#000"/>
<path d="M1841.2 1005.51L1845.5 1013.68L1836.9 1013.68Z" fill="#000"/>
<circle cx="1877.05" cy="960" r="4.35" fill="#000"/>
<circle cx="1887.05" cy="954" r="4.35" fill="#000"/>
<circle cx="1892.05" cy="970" r="4.35" fill="#000"/>
<circle cx="1880.05" cy="978" r="4.35" fill="#000"/>
<circle cx="1889.05" cy="988" r="4.35" fill="#000"/>
<circle cx="1877.05" cy="990" r="4.35" fill="#000"/>
<path d="M1897.55 927.51L1901.85 935.68L1893.25 935.68Z" fill="#000"/>
<path d="M1915.55 919.51L1919.85 927.68L1911.25 927.68Z" fill="#000"/>
<path d="M1906.55 952.51L1910.85 960.68L1902.25 960.68Z" fill="#000"/>
<path d="M1906.55 958.51L1910.85 966.68L1902.25 966.68Z" fill="#000"/>
<path d="M1908.55 995.51L1912.85 1003.68L1904.25 1003.68Z" fill="#000"/>
<circle cx="1943.35" cy="1028" r="4.35" fill="#000"/>
<circle cx="1943.35" cy="1050" r="4.35" fill="#000"/>
<circle cx="1937.35" cy="1070" r="4.35" fill="#000"/>
<circle cx="1949.35" cy="1072" r="4.35" fill="#000"/>
<circle cx="1943.35" cy="1093" r="4.35" fill="#000"/>
<circle cx="1943.35" cy="1145" r="4.35" fill="#000"/>
<path d="M1965.9 1003.51L1970.2 1011.68L1961.6 1011.68Z" fill="#000"/>
<path d="M1965.9 1015.51L1970.2 1023.68L1961.6 1023.68Z" fill="#000"/>
<path d="M1965.9 1039.51L1970.2 1047.68L1961.6 1047.68Z" fill="#000"/>
<path d="M1961.9 1051.51L1966.2 1059.68L1957.6 1059.68Z" fill="#000"/>
<path d="M1971.9 1065.51L1976.2 1073.68L1967.6 1073.68Z" fill="#000"/>
<path d="M1965.9 1078.51L1970.2 1086.68L1961.6 1086.68Z" fill="#000"/>
<line x1="1800.8" y1="876.9" x2="1800.8" y2="1212" stroke="#000" stroke-width="3.8"/>
<line x1="1782.6" y1="1210.1" x2="1802.7" y2="1210.1" stroke="#000" stroke-width="3.6"/>
<text transform="translate(1778.4 1219.4) scale(1 1.04)" font-size="26" text-anchor="end" fill="#000">0.5</text>
<line x1="1782.6" y1="1154.87" x2="1802.7" y2="1154.87" stroke="#000" stroke-width="3.6"/>
<text transform="translate(1778.4 1164.17) scale(1 1.04)" font-size="26" text-anchor="end" fill="#000">0.6</text>
<line x1="1782.6" y1="1099.63" x2="1802.7" y2="1099.63" stroke="#000" stroke-width="3.6"/>
<text transform="translate(1778.4 1108.93) scale(1 1.04)" font-size="26" text-anchor="end" fill="#000">0.7</text>
<line x1="1782.6" y1="1044.4" x2="1802.7" y2="1044.4" stroke="#000" stroke-width="3.6"/>
<text transform="translate(1778.4 1053.7) scale(1 1.04)" font-size="26" text-anchor="end" fill="#000">0.8</text>
<line x1="1782.6" y1="989.17" x2="1802.7" y2="989.17" stroke="#000" stroke-width="3.6"/>
<text transform="translate(1778.4 998.47) scale(1 1.04)" font-size="26" text-anchor="end" fill="#000">0.9</text>
<line x1="1782.6" y1="933.93" x2="1802.7" y2="933.93" stroke="#000" stroke-width="3.6"/>
<text transform="translate(1778.4 943.23) scale(1 1.04)" font-size="26" text-anchor="end" fill="#000">1.0</text>
<line x1="1782.6" y1="878.7" x2="1802.7" y2="878.7" stroke="#000" stroke-width="3.6"/>
<text transform="translate(1778.4 888) scale(1 1.04)" font-size="26" text-anchor="end" fill="#000">1.1</text>
<line x1="1782.6" y1="1210.1" x2="1991.4" y2="1210.1" stroke="#000" stroke-width="3.8"/>
<line x1="1835.6" y1="1210.1" x2="1835.6" y2="1227.1" stroke="#000" stroke-width="3.6"/>
<line x1="1895.3" y1="1210.1" x2="1895.3" y2="1227.1" stroke="#000" stroke-width="3.6"/>
<line x1="1954.3" y1="1210.1" x2="1954.3" y2="1227.1" stroke="#000" stroke-width="3.6"/>
<text transform="translate(1844.1 1248.6) rotate(-45) scale(1 1.04)" font-size="26" text-anchor="end" fill="#000">3 mo</text>
<text transform="translate(1903.8 1248.6) rotate(-45) scale(1 1.04)" font-size="26" text-anchor="end" fill="#000">6 mo</text>
<text transform="translate(1962.8 1248.6) rotate(-45) scale(1 1.04)" font-size="26" text-anchor="end" fill="#000">9 mo</text>
<path d="M1905.9 820.7V795.2H1966.5V905.2" fill="none" stroke="#000" stroke-width="3.5" stroke-linejoin="miter"/>
<path d="M1882 880.4V858.2H1943.3V905.9" fill="none" stroke="#000" stroke-width="3.5" stroke-linejoin="miter"/>
<path d="M1823 968.2V914.5H1934.4V1017.2" fill="none" stroke="#000" stroke-width="3.5" stroke-linejoin="miter"/>
<path d="M1950.6 990.7V952.6H1966.5V990.7" fill="none" stroke="#000" stroke-width="3.5" stroke-linejoin="miter"/>
<text x="1936.25" y="786.86" font-size="30.2" text-anchor="middle" letter-spacing="2.3" stroke="#000" stroke-width="0.85" style="font-family:'DejaVu Sans',sans-serif">**</text>
<text x="1912.75" y="849.25" font-size="30.2" text-anchor="middle" letter-spacing="2.3" stroke="#000" stroke-width="0.85" style="font-family:'DejaVu Sans',sans-serif">****</text>
<text x="1879.15" y="906.25" font-size="30.2" text-anchor="middle" letter-spacing="2.3" stroke="#000" stroke-width="0.85" style="font-family:'DejaVu Sans',sans-serif">**</text>
<text x="1958.75" y="944.55" font-size="30.2" text-anchor="middle" letter-spacing="2.3" stroke="#000" stroke-width="0.85" style="font-family:'DejaVu Sans',sans-serif">*</text>
<text transform="translate(1723.4 1045) rotate(-90) scale(1 1.04)" font-size="28.8" text-anchor="middle" fill="#000">RER (kcal/h/kg)</text>
<text transform="translate(40.1 1371.1) scale(1 1.04)" font-size="56" fill="#000">E</text>
<text transform="translate(374.5 1399.5) scale(1 1.04)" font-size="45.8" fill="#000">Locomotor Activity</text>
<rect x="318.1" y="1463.5" width="168.7" height="327.4" fill="#e8e9e9"/>
<line x1="153.6" y1="1627.19" x2="153.6" y2="1665.23" stroke="#777777" stroke-width="3.4"/>
<line x1="158.22" y1="1588.39" x2="158.22" y2="1625.72" stroke="#777777" stroke-width="3.4"/>
<line x1="162.85" y1="1671.49" x2="162.85" y2="1708.96" stroke="#777777" stroke-width="3.4"/>
<line x1="167.47" y1="1683.72" x2="167.47" y2="1735.88" stroke="#777777" stroke-width="3.4"/>
<line x1="172.09" y1="1724.53" x2="172.09" y2="1761.49" stroke="#777777" stroke-width="3.4"/>
<line x1="176.72" y1="1740.62" x2="176.72" y2="1778.42" stroke="#777777" stroke-width="3.4"/>
<line x1="181.34" y1="1732.46" x2="181.34" y2="1773.59" stroke="#777777" stroke-width="3.4"/>
<line x1="185.96" y1="1734.51" x2="185.96" y2="1773.98" stroke="#777777" stroke-width="3.4"/>
<line x1="190.59" y1="1656.67" x2="190.59" y2="1745.33" stroke="#777777" stroke-width="3.4"/>
<line x1="195.21" y1="1681.44" x2="195.21" y2="1750.26" stroke="#777777" stroke-width="3.4"/>
<line x1="199.83" y1="1692.24" x2="199.83" y2="1745.05" stroke="#777777" stroke-width="3.4"/>
<line x1="204.46" y1="1709.45" x2="204.46" y2="1743.68" stroke="#777777" stroke-width="3.4"/>
<line x1="209.08" y1="1722.06" x2="209.08" y2="1753.99" stroke="#777777" stroke-width="3.4"/>
<line x1="213.7" y1="1728.67" x2="213.7" y2="1768.21" stroke="#777777" stroke-width="3.4"/>
<line x1="218.33" y1="1751.88" x2="218.33" y2="1788.72" stroke="#777777" stroke-width="3.4"/>
<line x1="222.95" y1="1738.52" x2="222.95" y2="1785.27" stroke="#777777" stroke-width="3.4"/>
<line x1="227.57" y1="1734.81" x2="227.57" y2="1787.51" stroke="#777777" stroke-width="3.4"/>
<line x1="232.2" y1="1702" x2="232.2" y2="1753.89" stroke="#777777" stroke-width="3.4"/>
<line x1="236.82" y1="1700.63" x2="236.82" y2="1749.53" stroke="#777777" stroke-width="3.4"/>
<line x1="241.44" y1="1745.2" x2="241.44" y2="1779.7" stroke="#777777" stroke-width="3.4"/>
<line x1="246.07" y1="1756.13" x2="246.07" y2="1783.78" stroke="#777777" stroke-width="3.4"/>
<line x1="250.69" y1="1755.02" x2="250.69" y2="1779.08" stroke="#777777" stroke-width="3.4"/>
<line x1="255.31" y1="1750.37" x2="255.31" y2="1787.15" stroke="#777777" stroke-width="3.4"/>
<line x1="259.94" y1="1757.53" x2="259.94" y2="1786.77" stroke="#777777" stroke-width="3.4"/>
<line x1="264.56" y1="1751.89" x2="264.56" y2="1774.82" stroke="#777777" stroke-width="3.4"/>
<line x1="269.18" y1="1755.33" x2="269.18" y2="1782.52" stroke="#777777" stroke-width="3.4"/>
<line x1="273.81" y1="1717.2" x2="273.81" y2="1769.77" stroke="#777777" stroke-width="3.4"/>
<line x1="278.43" y1="1716.1" x2="278.43" y2="1765.14" stroke="#777777" stroke-width="3.4"/>
<line x1="283.05" y1="1695.22" x2="283.05" y2="1754.66" stroke="#777777" stroke-width="3.4"/>
<line x1="287.68" y1="1705.94" x2="287.68" y2="1751.5" stroke="#777777" stroke-width="3.4"/>
<line x1="292.3" y1="1694.06" x2="292.3" y2="1758.56" stroke="#777777" stroke-width="3.4"/>
<line x1="296.92" y1="1698.11" x2="296.92" y2="1756.99" stroke="#777777" stroke-width="3.4"/>
<line x1="301.55" y1="1706.88" x2="301.55" y2="1747.84" stroke="#777777" stroke-width="3.4"/>
<line x1="306.17" y1="1710.1" x2="306.17" y2="1749.93" stroke="#777777" stroke-width="3.4"/>
<line x1="310.79" y1="1708.06" x2="310.79" y2="1761.51" stroke="#777777" stroke-width="3.4"/>
<line x1="315.42" y1="1717.51" x2="315.42" y2="1767.91" stroke="#777777" stroke-width="3.4"/>
<line x1="320.04" y1="1720.39" x2="320.04" y2="1762.16" stroke="#777777" stroke-width="3.4"/>
<line x1="324.66" y1="1648.93" x2="324.66" y2="1719.55" stroke="#777777" stroke-width="3.4"/>
<line x1="329.29" y1="1614.15" x2="329.29" y2="1677.23" stroke="#777777" stroke-width="3.4"/>
<line x1="333.91" y1="1565.04" x2="333.91" y2="1633.38" stroke="#777777" stroke-width="3.4"/>
<line x1="338.53" y1="1485.33" x2="338.53" y2="1592.32" stroke="#777777" stroke-width="3.4"/>
<line x1="343.16" y1="1485.33" x2="343.16" y2="1653.34" stroke="#777777" stroke-width="3.4"/>
<line x1="347.78" y1="1537.09" x2="347.78" y2="1629.35" stroke="#777777" stroke-width="3.4"/>
<line x1="352.4" y1="1516.68" x2="352.4" y2="1596.52" stroke="#777777" stroke-width="3.4"/>
<line x1="357.03" y1="1491.44" x2="357.03" y2="1553.88" stroke="#777777" stroke-width="3.4"/>
<line x1="361.65" y1="1519.5" x2="361.65" y2="1585.37" stroke="#777777" stroke-width="3.4"/>
<line x1="366.27" y1="1531.16" x2="366.27" y2="1623.15" stroke="#777777" stroke-width="3.4"/>
<line x1="370.9" y1="1579.13" x2="370.9" y2="1640.66" stroke="#777777" stroke-width="3.4"/>
<line x1="375.52" y1="1513.31" x2="375.52" y2="1583.6" stroke="#777777" stroke-width="3.4"/>
<line x1="380.14" y1="1518.07" x2="380.14" y2="1601.36" stroke="#777777" stroke-width="3.4"/>
<line x1="384.77" y1="1538.79" x2="384.77" y2="1644.52" stroke="#777777" stroke-width="3.4"/>
<line x1="389.39" y1="1468.96" x2="389.39" y2="1589.15" stroke="#777777" stroke-width="3.4"/>
<line x1="394.01" y1="1604.07" x2="394.01" y2="1669.71" stroke="#777777" stroke-width="3.4"/>
<line x1="398.64" y1="1598.49" x2="398.64" y2="1656.16" stroke="#777777" stroke-width="3.4"/>
<line x1="403.26" y1="1548.12" x2="403.26" y2="1602.12" stroke="#777777" stroke-width="3.4"/>
<line x1="407.88" y1="1620.38" x2="407.88" y2="1672.23" stroke="#777777" stroke-width="3.4"/>
<line x1="412.51" y1="1604.87" x2="412.51" y2="1656.76" stroke="#777777" stroke-width="3.4"/>
<line x1="417.13" y1="1643.46" x2="417.13" y2="1719.55" stroke="#777777" stroke-width="3.4"/>
<line x1="421.75" y1="1574.81" x2="421.75" y2="1633.56" stroke="#777777" stroke-width="3.4"/>
<line x1="426.38" y1="1624.06" x2="426.38" y2="1672.39" stroke="#777777" stroke-width="3.4"/>
<line x1="431" y1="1543.93" x2="431" y2="1596.38" stroke="#777777" stroke-width="3.4"/>
<line x1="435.62" y1="1578.08" x2="435.62" y2="1645.2" stroke="#777777" stroke-width="3.4"/>
<line x1="440.25" y1="1594.79" x2="440.25" y2="1658.22" stroke="#777777" stroke-width="3.4"/>
<line x1="444.87" y1="1552.83" x2="444.87" y2="1606.43" stroke="#777777" stroke-width="3.4"/>
<line x1="449.49" y1="1581.8" x2="449.49" y2="1628.11" stroke="#777777" stroke-width="3.4"/>
<line x1="454.12" y1="1571.17" x2="454.12" y2="1622.31" stroke="#777777" stroke-width="3.4"/>
<line x1="458.74" y1="1645.57" x2="458.74" y2="1708.59" stroke="#777777" stroke-width="3.4"/>
<line x1="463.36" y1="1627.18" x2="463.36" y2="1679.54" stroke="#777777" stroke-width="3.4"/>
<line x1="467.99" y1="1603.58" x2="467.99" y2="1647.56" stroke="#777777" stroke-width="3.4"/>
<line x1="472.61" y1="1619.48" x2="472.61" y2="1671.09" stroke="#777777" stroke-width="3.4"/>
<line x1="477.23" y1="1633.1" x2="477.23" y2="1681.65" stroke="#777777" stroke-width="3.4"/>
<line x1="481.86" y1="1652.83" x2="481.86" y2="1707.09" stroke="#777777" stroke-width="3.4"/>
<line x1="486.48" y1="1738.52" x2="486.48" y2="1788.72" stroke="#777777" stroke-width="3.4"/>
<polyline points="153.6,1646.21 158.22,1607.06 162.85,1690.23 167.47,1709.8 172.09,1743.01 176.72,1759.52 181.34,1753.02 185.96,1754.25 190.59,1709.28 195.21,1715.85 199.83,1718.65 204.46,1726.56 209.08,1738.02 213.7,1748.44 218.33,1771.16 222.95,1761.9 227.57,1761.16 232.2,1727.95 236.82,1725.08 241.44,1762.45 246.07,1769.95 250.69,1767.05 255.31,1768.76 259.94,1772.15 264.56,1763.35 269.18,1768.93 273.81,1743.49 278.43,1740.62 283.05,1724.94 287.68,1728.72 292.3,1726.31 296.92,1727.55 301.55,1727.36 306.17,1730.02 310.79,1734.79 315.42,1742.71 320.04,1741.27 324.66,1684.24 329.29,1645.69 333.91,1599.21 338.53,1555.9 343.16,1604.51 347.78,1583.22 352.4,1556.6 357.03,1522.66 361.65,1552.44 366.27,1588.59 370.9,1609.9 375.52,1548.45 380.14,1557.53 384.77,1591.65 389.39,1545.98 394.01,1636.89 398.64,1627.33 403.26,1575.12 407.88,1646.31 412.51,1630.81 417.13,1681.51 421.75,1604.18 426.38,1648.23 431,1570.16 435.62,1611.64 440.25,1626.5 444.87,1579.63 449.49,1604.96 454.12,1596.74 458.74,1677.08 463.36,1653.36 467.99,1625.57 472.61,1645.28 477.23,1657.37 481.86,1679.96 486.48,1765.44" fill="none" stroke="#777777" stroke-width="3.4" stroke-linejoin="round"/>
<line x1="153.6" y1="1613.19" x2="153.6" y2="1652.03" stroke="#e6b030" stroke-width="3.4"/>
<line x1="158.22" y1="1631.62" x2="158.22" y2="1697.06" stroke="#e6b030" stroke-width="3.4"/>
<line x1="162.85" y1="1674.99" x2="162.85" y2="1730.96" stroke="#e6b030" stroke-width="3.4"/>
<line x1="167.47" y1="1704.79" x2="167.47" y2="1752.42" stroke="#e6b030" stroke-width="3.4"/>
<line x1="172.09" y1="1709.86" x2="172.09" y2="1768.22" stroke="#e6b030" stroke-width="3.4"/>
<line x1="176.72" y1="1726.09" x2="176.72" y2="1764.25" stroke="#e6b030" stroke-width="3.4"/>
<line x1="181.34" y1="1733.69" x2="181.34" y2="1774.66" stroke="#e6b030" stroke-width="3.4"/>
<line x1="185.96" y1="1726.29" x2="185.96" y2="1772.5" stroke="#e6b030" stroke-width="3.4"/>
<line x1="190.59" y1="1714.12" x2="190.59" y2="1760.04" stroke="#e6b030" stroke-width="3.4"/>
<line x1="195.21" y1="1715.61" x2="195.21" y2="1756.14" stroke="#e6b030" stroke-width="3.4"/>
<line x1="199.83" y1="1709.25" x2="199.83" y2="1755.63" stroke="#e6b030" stroke-width="3.4"/>
<line x1="204.46" y1="1707.68" x2="204.46" y2="1749.03" stroke="#e6b030" stroke-width="3.4"/>
<line x1="209.08" y1="1700.69" x2="209.08" y2="1750.51" stroke="#e6b030" stroke-width="3.4"/>
<line x1="213.7" y1="1725.34" x2="213.7" y2="1767.31" stroke="#e6b030" stroke-width="3.4"/>
<line x1="218.33" y1="1724.52" x2="218.33" y2="1760.31" stroke="#e6b030" stroke-width="3.4"/>
<line x1="222.95" y1="1715.23" x2="222.95" y2="1766.67" stroke="#e6b030" stroke-width="3.4"/>
<line x1="227.57" y1="1684.09" x2="227.57" y2="1769.74" stroke="#e6b030" stroke-width="3.4"/>
<line x1="232.2" y1="1676.31" x2="232.2" y2="1743.05" stroke="#e6b030" stroke-width="3.4"/>
<line x1="236.82" y1="1693.18" x2="236.82" y2="1746.36" stroke="#e6b030" stroke-width="3.4"/>
<line x1="241.44" y1="1721.8" x2="241.44" y2="1751.39" stroke="#e6b030" stroke-width="3.4"/>
<line x1="246.07" y1="1734.12" x2="246.07" y2="1761.27" stroke="#e6b030" stroke-width="3.4"/>
<line x1="250.69" y1="1729.48" x2="250.69" y2="1774.22" stroke="#e6b030" stroke-width="3.4"/>
<line x1="255.31" y1="1742.39" x2="255.31" y2="1777.73" stroke="#e6b030" stroke-width="3.4"/>
<line x1="259.94" y1="1733.62" x2="259.94" y2="1774.46" stroke="#e6b030" stroke-width="3.4"/>
<line x1="264.56" y1="1732.11" x2="264.56" y2="1767.77" stroke="#e6b030" stroke-width="3.4"/>
<line x1="269.18" y1="1729.43" x2="269.18" y2="1769.86" stroke="#e6b030" stroke-width="3.4"/>
<line x1="273.81" y1="1721.32" x2="273.81" y2="1761.5" stroke="#e6b030" stroke-width="3.4"/>
<line x1="278.43" y1="1709.86" x2="278.43" y2="1748.3" stroke="#e6b030" stroke-width="3.4"/>
<line x1="283.05" y1="1726.87" x2="283.05" y2="1758.5" stroke="#e6b030" stroke-width="3.4"/>
<line x1="287.68" y1="1720.67" x2="287.68" y2="1772.29" stroke="#e6b030" stroke-width="3.4"/>
<line x1="292.3" y1="1723.65" x2="292.3" y2="1763" stroke="#e6b030" stroke-width="3.4"/>
<line x1="296.92" y1="1702.24" x2="296.92" y2="1755.2" stroke="#e6b030" stroke-width="3.4"/>
<line x1="301.55" y1="1701.24" x2="301.55" y2="1743.82" stroke="#e6b030" stroke-width="3.4"/>
<line x1="306.17" y1="1713.41" x2="306.17" y2="1750.16" stroke="#e6b030" stroke-width="3.4"/>
<line x1="310.79" y1="1698.51" x2="310.79" y2="1748.08" stroke="#e6b030" stroke-width="3.4"/>
<line x1="315.42" y1="1706.82" x2="315.42" y2="1752.95" stroke="#e6b030" stroke-width="3.4"/>
<line x1="320.04" y1="1707.78" x2="320.04" y2="1751.2" stroke="#e6b030" stroke-width="3.4"/>
<line x1="324.66" y1="1629.08" x2="324.66" y2="1676.65" stroke="#e6b030" stroke-width="3.4"/>
<line x1="329.29" y1="1563.9" x2="329.29" y2="1707.41" stroke="#e6b030" stroke-width="3.4"/>
<line x1="333.91" y1="1595.33" x2="333.91" y2="1656.5" stroke="#e6b030" stroke-width="3.4"/>
<line x1="338.53" y1="1580.9" x2="338.53" y2="1650.06" stroke="#e6b030" stroke-width="3.4"/>
<line x1="343.16" y1="1575.43" x2="343.16" y2="1660.54" stroke="#e6b030" stroke-width="3.4"/>
<line x1="347.78" y1="1541.23" x2="347.78" y2="1627.04" stroke="#e6b030" stroke-width="3.4"/>
<line x1="352.4" y1="1585.1" x2="352.4" y2="1657.62" stroke="#e6b030" stroke-width="3.4"/>
<line x1="357.03" y1="1594.73" x2="357.03" y2="1686.07" stroke="#e6b030" stroke-width="3.4"/>
<line x1="361.65" y1="1559.54" x2="361.65" y2="1651.48" stroke="#e6b030" stroke-width="3.4"/>
<line x1="366.27" y1="1607.62" x2="366.27" y2="1685.67" stroke="#e6b030" stroke-width="3.4"/>
<line x1="370.9" y1="1564.82" x2="370.9" y2="1631.81" stroke="#e6b030" stroke-width="3.4"/>
<line x1="375.52" y1="1556.77" x2="375.52" y2="1633.48" stroke="#e6b030" stroke-width="3.4"/>
<line x1="380.14" y1="1607.61" x2="380.14" y2="1697.1" stroke="#e6b030" stroke-width="3.4"/>
<line x1="384.77" y1="1536.13" x2="384.77" y2="1613.85" stroke="#e6b030" stroke-width="3.4"/>
<line x1="389.39" y1="1568.64" x2="389.39" y2="1635.13" stroke="#e6b030" stroke-width="3.4"/>
<line x1="394.01" y1="1564.3" x2="394.01" y2="1632.7" stroke="#e6b030" stroke-width="3.4"/>
<line x1="398.64" y1="1561.19" x2="398.64" y2="1621.9" stroke="#e6b030" stroke-width="3.4"/>
<line x1="403.26" y1="1537.06" x2="403.26" y2="1599.21" stroke="#e6b030" stroke-width="3.4"/>
<line x1="407.88" y1="1587.72" x2="407.88" y2="1640.18" stroke="#e6b030" stroke-width="3.4"/>
<line x1="412.51" y1="1590.65" x2="412.51" y2="1666.91" stroke="#e6b030" stroke-width="3.4"/>
<line x1="417.13" y1="1593.18" x2="417.13" y2="1644.93" stroke="#e6b030" stroke-width="3.4"/>
<line x1="421.75" y1="1609.94" x2="421.75" y2="1670.71" stroke="#e6b030" stroke-width="3.4"/>
<line x1="426.38" y1="1609.92" x2="426.38" y2="1661.78" stroke="#e6b030" stroke-width="3.4"/>
<line x1="431" y1="1631.76" x2="431" y2="1706.19" stroke="#e6b030" stroke-width="3.4"/>
<line x1="435.62" y1="1589.91" x2="435.62" y2="1660.89" stroke="#e6b030" stroke-width="3.4"/>
<line x1="440.25" y1="1598.49" x2="440.25" y2="1669.4" stroke="#e6b030" stroke-width="3.4"/>
<line x1="444.87" y1="1625.95" x2="444.87" y2="1670.78" stroke="#e6b030" stroke-width="3.4"/>
<line x1="449.49" y1="1619.25" x2="449.49" y2="1674.58" stroke="#e6b030" stroke-width="3.4"/>
<line x1="454.12" y1="1599.53" x2="454.12" y2="1665.76" stroke="#e6b030" stroke-width="3.4"/>
<line x1="458.74" y1="1633.53" x2="458.74" y2="1683.92" stroke="#e6b030" stroke-width="3.4"/>
<line x1="463.36" y1="1620.47" x2="463.36" y2="1674.45" stroke="#e6b030" stroke-width="3.4"/>
<line x1="467.99" y1="1582.97" x2="467.99" y2="1656.61" stroke="#e6b030" stroke-width="3.4"/>
<line x1="472.61" y1="1577.61" x2="472.61" y2="1637.11" stroke="#e6b030" stroke-width="3.4"/>
<line x1="477.23" y1="1528.25" x2="477.23" y2="1599.79" stroke="#e6b030" stroke-width="3.4"/>
<line x1="481.86" y1="1528.98" x2="481.86" y2="1677.4" stroke="#e6b030" stroke-width="3.4"/>
<line x1="486.48" y1="1633.34" x2="486.48" y2="1695.11" stroke="#e6b030" stroke-width="3.4"/>
<polyline points="153.6,1632.61 158.22,1664.34 162.85,1702.98 167.47,1728.6 172.09,1739.04 176.72,1745.17 181.34,1754.18 185.96,1749.4 190.59,1737.08 195.21,1735.87 199.83,1732.44 204.46,1728.36 209.08,1725.6 213.7,1746.32 218.33,1742.42 222.95,1740.95 227.57,1726.91 232.2,1704.41 236.82,1719.77 241.44,1736.6 246.07,1747.7 250.69,1751.85 255.31,1760.06 259.94,1754.04 264.56,1749.94 269.18,1749.64 273.81,1741.41 278.43,1729.08 283.05,1742.69 287.68,1746.48 292.3,1743.32 296.92,1728.72 301.55,1722.53 306.17,1731.78 310.79,1723.3 315.42,1729.89 320.04,1729.49 324.66,1652.87 329.29,1669.8 333.91,1625.91 338.53,1615.48 343.16,1617.98 347.78,1584.13 352.4,1621.36 357.03,1640.4 361.65,1610.54 366.27,1646.64 370.9,1598.31 375.52,1595.13 380.14,1652.35 384.77,1574.99 389.39,1601.89 394.01,1598.5 398.64,1591.54 403.26,1568.13 407.88,1613.95 412.51,1628.78 417.13,1619.05 421.75,1640.33 426.38,1635.85 431,1668.98 435.62,1625.4 440.25,1633.94 444.87,1648.36 449.49,1646.92 454.12,1632.64 458.74,1658.73 463.36,1647.46 467.99,1619.79 472.61,1607.36 477.23,1564.02 481.86,1632.51 486.48,1664.22" fill="none" stroke="#e6b030" stroke-width="3.4" stroke-linejoin="round"/>
<line x1="153.6" y1="1658.96" x2="153.6" y2="1743.64" stroke="#c876ae" stroke-width="3.4"/>
<line x1="158.22" y1="1665.13" x2="158.22" y2="1721.88" stroke="#c876ae" stroke-width="3.4"/>
<line x1="162.85" y1="1669.75" x2="162.85" y2="1737.78" stroke="#c876ae" stroke-width="3.4"/>
<line x1="167.47" y1="1692" x2="167.47" y2="1731.82" stroke="#c876ae" stroke-width="3.4"/>
<line x1="172.09" y1="1697.97" x2="172.09" y2="1737.44" stroke="#c876ae" stroke-width="3.4"/>
<line x1="176.72" y1="1729.88" x2="176.72" y2="1768.62" stroke="#c876ae" stroke-width="3.4"/>
<line x1="181.34" y1="1746.21" x2="181.34" y2="1774.34" stroke="#c876ae" stroke-width="3.4"/>
<line x1="185.96" y1="1743.6" x2="185.96" y2="1768.11" stroke="#c876ae" stroke-width="3.4"/>
<line x1="190.59" y1="1744.81" x2="190.59" y2="1767.71" stroke="#c876ae" stroke-width="3.4"/>
<line x1="195.21" y1="1739.06" x2="195.21" y2="1756.65" stroke="#c876ae" stroke-width="3.4"/>
<line x1="199.83" y1="1740.88" x2="199.83" y2="1763.07" stroke="#c876ae" stroke-width="3.4"/>
<line x1="204.46" y1="1731.69" x2="204.46" y2="1759.07" stroke="#c876ae" stroke-width="3.4"/>
<line x1="209.08" y1="1710.75" x2="209.08" y2="1736.19" stroke="#c876ae" stroke-width="3.4"/>
<line x1="213.7" y1="1731.06" x2="213.7" y2="1749.66" stroke="#c876ae" stroke-width="3.4"/>
<line x1="218.33" y1="1727.14" x2="218.33" y2="1747.86" stroke="#c876ae" stroke-width="3.4"/>
<line x1="222.95" y1="1743.46" x2="222.95" y2="1763.36" stroke="#c876ae" stroke-width="3.4"/>
<line x1="227.57" y1="1741.74" x2="227.57" y2="1760.58" stroke="#c876ae" stroke-width="3.4"/>
<line x1="232.2" y1="1751.01" x2="232.2" y2="1772.37" stroke="#c876ae" stroke-width="3.4"/>
<line x1="236.82" y1="1747.49" x2="236.82" y2="1764.99" stroke="#c876ae" stroke-width="3.4"/>
<line x1="241.44" y1="1737.38" x2="241.44" y2="1761.39" stroke="#c876ae" stroke-width="3.4"/>
<line x1="246.07" y1="1728.56" x2="246.07" y2="1748.4" stroke="#c876ae" stroke-width="3.4"/>
<line x1="250.69" y1="1729.04" x2="250.69" y2="1747.99" stroke="#c876ae" stroke-width="3.4"/>
<line x1="255.31" y1="1717.25" x2="255.31" y2="1744.28" stroke="#c876ae" stroke-width="3.4"/>
<line x1="259.94" y1="1723.6" x2="259.94" y2="1748.34" stroke="#c876ae" stroke-width="3.4"/>
<line x1="264.56" y1="1741.5" x2="264.56" y2="1760.74" stroke="#c876ae" stroke-width="3.4"/>
<line x1="269.18" y1="1745.44" x2="269.18" y2="1767.23" stroke="#c876ae" stroke-width="3.4"/>
<line x1="273.81" y1="1744.51" x2="273.81" y2="1764.92" stroke="#c876ae" stroke-width="3.4"/>
<line x1="278.43" y1="1746.69" x2="278.43" y2="1767.03" stroke="#c876ae" stroke-width="3.4"/>
<line x1="283.05" y1="1749.05" x2="283.05" y2="1773.04" stroke="#c876ae" stroke-width="3.4"/>
<line x1="287.68" y1="1751.04" x2="287.68" y2="1773.62" stroke="#c876ae" stroke-width="3.4"/>
<line x1="292.3" y1="1754.96" x2="292.3" y2="1776.96" stroke="#c876ae" stroke-width="3.4"/>
<line x1="296.92" y1="1750.62" x2="296.92" y2="1769.6" stroke="#c876ae" stroke-width="3.4"/>
<line x1="301.55" y1="1748.48" x2="301.55" y2="1776.72" stroke="#c876ae" stroke-width="3.4"/>
<line x1="306.17" y1="1747.82" x2="306.17" y2="1767.44" stroke="#c876ae" stroke-width="3.4"/>
<line x1="310.79" y1="1744.96" x2="310.79" y2="1770.25" stroke="#c876ae" stroke-width="3.4"/>
<line x1="315.42" y1="1746.69" x2="315.42" y2="1770.77" stroke="#c876ae" stroke-width="3.4"/>
<line x1="320.04" y1="1748.23" x2="320.04" y2="1775.76" stroke="#c876ae" stroke-width="3.4"/>
<line x1="324.66" y1="1736.84" x2="324.66" y2="1761.86" stroke="#c876ae" stroke-width="3.4"/>
<line x1="329.29" y1="1731.33" x2="329.29" y2="1758.44" stroke="#c876ae" stroke-width="3.4"/>
<line x1="333.91" y1="1686.83" x2="333.91" y2="1719.29" stroke="#c876ae" stroke-width="3.4"/>
<line x1="338.53" y1="1675.45" x2="338.53" y2="1718.81" stroke="#c876ae" stroke-width="3.4"/>
<line x1="343.16" y1="1669.25" x2="343.16" y2="1714.32" stroke="#c876ae" stroke-width="3.4"/>
<line x1="347.78" y1="1665.03" x2="347.78" y2="1724.66" stroke="#c876ae" stroke-width="3.4"/>
<line x1="352.4" y1="1658.69" x2="352.4" y2="1720.72" stroke="#c876ae" stroke-width="3.4"/>
<line x1="357.03" y1="1673.3" x2="357.03" y2="1720.63" stroke="#c876ae" stroke-width="3.4"/>
<line x1="361.65" y1="1669.84" x2="361.65" y2="1728.02" stroke="#c876ae" stroke-width="3.4"/>
<line x1="366.27" y1="1680.99" x2="366.27" y2="1722.97" stroke="#c876ae" stroke-width="3.4"/>
<line x1="370.9" y1="1665.79" x2="370.9" y2="1721.86" stroke="#c876ae" stroke-width="3.4"/>
<line x1="375.52" y1="1679.88" x2="375.52" y2="1733.76" stroke="#c876ae" stroke-width="3.4"/>
<line x1="380.14" y1="1677.69" x2="380.14" y2="1735.38" stroke="#c876ae" stroke-width="3.4"/>
<line x1="384.77" y1="1651.01" x2="384.77" y2="1700.11" stroke="#c876ae" stroke-width="3.4"/>
<line x1="389.39" y1="1674.69" x2="389.39" y2="1734.01" stroke="#c876ae" stroke-width="3.4"/>
<line x1="394.01" y1="1624.43" x2="394.01" y2="1682.32" stroke="#c876ae" stroke-width="3.4"/>
<line x1="398.64" y1="1663.47" x2="398.64" y2="1717.1" stroke="#c876ae" stroke-width="3.4"/>
<line x1="403.26" y1="1684.85" x2="403.26" y2="1739.66" stroke="#c876ae" stroke-width="3.4"/>
<line x1="407.88" y1="1660.86" x2="407.88" y2="1718.43" stroke="#c876ae" stroke-width="3.4"/>
<line x1="412.51" y1="1665.02" x2="412.51" y2="1710.47" stroke="#c876ae" stroke-width="3.4"/>
<line x1="417.13" y1="1656.37" x2="417.13" y2="1710.48" stroke="#c876ae" stroke-width="3.4"/>
<line x1="421.75" y1="1678.32" x2="421.75" y2="1721.78" stroke="#c876ae" stroke-width="3.4"/>
<line x1="426.38" y1="1675.84" x2="426.38" y2="1740.3" stroke="#c876ae" stroke-width="3.4"/>
<line x1="431" y1="1651.51" x2="431" y2="1711.25" stroke="#c876ae" stroke-width="3.4"/>
<line x1="435.62" y1="1666.98" x2="435.62" y2="1721.4" stroke="#c876ae" stroke-width="3.4"/>
<line x1="440.25" y1="1668.74" x2="440.25" y2="1707.63" stroke="#c876ae" stroke-width="3.4"/>
<line x1="444.87" y1="1674.28" x2="444.87" y2="1739.12" stroke="#c876ae" stroke-width="3.4"/>
<line x1="449.49" y1="1698.14" x2="449.49" y2="1759.66" stroke="#c876ae" stroke-width="3.4"/>
<line x1="454.12" y1="1671.35" x2="454.12" y2="1714.21" stroke="#c876ae" stroke-width="3.4"/>
<line x1="458.74" y1="1673.73" x2="458.74" y2="1734.65" stroke="#c876ae" stroke-width="3.4"/>
<line x1="463.36" y1="1675.36" x2="463.36" y2="1736.74" stroke="#c876ae" stroke-width="3.4"/>
<line x1="467.99" y1="1681.16" x2="467.99" y2="1730.77" stroke="#c876ae" stroke-width="3.4"/>
<line x1="472.61" y1="1670.21" x2="472.61" y2="1732.13" stroke="#c876ae" stroke-width="3.4"/>
<line x1="477.23" y1="1623.93" x2="477.23" y2="1692.52" stroke="#c876ae" stroke-width="3.4"/>
<line x1="481.86" y1="1675.38" x2="481.86" y2="1736.36" stroke="#c876ae" stroke-width="3.4"/>
<line x1="486.48" y1="1676.97" x2="486.48" y2="1716.88" stroke="#c876ae" stroke-width="3.4"/>
<polyline points="153.6,1701.3 158.22,1693.51 162.85,1703.77 167.47,1711.91 172.09,1717.7 176.72,1749.25 181.34,1760.27 185.96,1755.85 190.59,1756.26 195.21,1747.85 199.83,1751.98 204.46,1745.38 209.08,1723.47 213.7,1740.36 218.33,1737.5 222.95,1753.41 227.57,1751.16 232.2,1761.69 236.82,1756.24 241.44,1749.38 246.07,1738.48 250.69,1738.52 255.31,1730.76 259.94,1735.97 264.56,1751.12 269.18,1756.33 273.81,1754.72 278.43,1756.86 283.05,1761.04 287.68,1762.33 292.3,1765.96 296.92,1760.11 301.55,1762.6 306.17,1757.63 310.79,1757.61 315.42,1758.73 320.04,1761.99 324.66,1749.35 329.29,1744.89 333.91,1703.06 338.53,1697.13 343.16,1691.79 347.78,1694.84 352.4,1689.71 357.03,1696.97 361.65,1698.93 366.27,1701.98 370.9,1693.83 375.52,1706.82 380.14,1706.54 384.77,1675.56 389.39,1704.35 394.01,1653.38 398.64,1690.28 403.26,1712.26 407.88,1689.65 412.51,1687.74 417.13,1683.43 421.75,1700.05 426.38,1708.07 431,1681.38 435.62,1694.19 440.25,1688.19 444.87,1706.7 449.49,1728.9 454.12,1692.78 458.74,1704.19 463.36,1706.05 467.99,1705.96 472.61,1701.17 477.23,1659.09 481.86,1705.87 486.48,1696.93" fill="none" stroke="#c876ae" stroke-width="3.4" stroke-linejoin="round"/>
<line x1="153.6" y1="1461.7" x2="153.6" y2="1792.8" stroke="#000" stroke-width="3.8"/>
<line x1="134.9" y1="1790.9" x2="155.5" y2="1790.9" stroke="#000" stroke-width="3.6"/>
<text transform="translate(130.7 1800.2) scale(1 1.04)" font-size="26" text-anchor="end" fill="#000">0</text>
<line x1="134.9" y1="1736.33" x2="155.5" y2="1736.33" stroke="#000" stroke-width="3.6"/>
<text transform="translate(130.7 1745.63) scale(1 1.04)" font-size="26" text-anchor="end" fill="#000">500</text>
<line x1="134.9" y1="1681.77" x2="155.5" y2="1681.77" stroke="#000" stroke-width="3.6"/>
<text transform="translate(130.7 1691.07) scale(1 1.04)" font-size="26" text-anchor="end" fill="#000">1000</text>
<line x1="134.9" y1="1627.2" x2="155.5" y2="1627.2" stroke="#000" stroke-width="3.6"/>
<text transform="translate(130.7 1636.5) scale(1 1.04)" font-size="26" text-anchor="end" fill="#000">1500</text>
<line x1="134.9" y1="1572.63" x2="155.5" y2="1572.63" stroke="#000" stroke-width="3.6"/>
<text transform="translate(130.7 1581.93) scale(1 1.04)" font-size="26" text-anchor="end" fill="#000">2000</text>
<line x1="134.9" y1="1518.07" x2="155.5" y2="1518.07" stroke="#000" stroke-width="3.6"/>
<text transform="translate(130.7 1527.37) scale(1 1.04)" font-size="26" text-anchor="end" fill="#000">2500</text>
<line x1="134.9" y1="1463.5" x2="155.5" y2="1463.5" stroke="#000" stroke-width="3.6"/>
<text transform="translate(130.7 1472.8) scale(1 1.04)" font-size="26" text-anchor="end" fill="#000">3000</text>
<line x1="134.9" y1="1790.9" x2="486.8" y2="1790.9" stroke="#000" stroke-width="3.8"/>
<line x1="153.6" y1="1790.9" x2="153.6" y2="1808.4" stroke="#000" stroke-width="3.6"/>
<text transform="translate(153.6 1837.5) scale(1 1.04)" font-size="28" text-anchor="middle" fill="#000">0</text>
<line x1="320.04" y1="1790.9" x2="320.04" y2="1808.4" stroke="#000" stroke-width="3.6"/>
<text transform="translate(320.04 1837.5) scale(1 1.04)" font-size="28" text-anchor="middle" fill="#000">12</text>
<line x1="486.48" y1="1790.9" x2="486.48" y2="1808.4" stroke="#000" stroke-width="3.6"/>
<text transform="translate(486.48 1837.5) scale(1 1.04)" font-size="28" text-anchor="middle" fill="#000">24</text>
<text transform="translate(319.7 1873.5) scale(1 1.04)" font-size="31" text-anchor="middle" fill="#000">Zeitgeber Time (h)</text>
<text transform="translate(54 1628.4) rotate(-90) scale(1 1.04)" font-size="28" text-anchor="middle" fill="#000">Activity (XY+XT)</text>
<rect x="794.5" y="1463" width="170.4" height="328.8" fill="#e8e9e9"/>
<line x1="629.3" y1="1489.29" x2="629.3" y2="1557.24" stroke="#000" stroke-width="3.4"/>
<line x1="633.93" y1="1508.32" x2="633.93" y2="1602.11" stroke="#000" stroke-width="3.4"/>
<line x1="638.56" y1="1519.99" x2="638.56" y2="1578.19" stroke="#000" stroke-width="3.4"/>
<line x1="643.19" y1="1506.84" x2="643.19" y2="1636.1" stroke="#000" stroke-width="3.4"/>
<line x1="647.82" y1="1608.28" x2="647.82" y2="1676.09" stroke="#000" stroke-width="3.4"/>
<line x1="652.45" y1="1693.17" x2="652.45" y2="1743.81" stroke="#000" stroke-width="3.4"/>
<line x1="657.08" y1="1686.83" x2="657.08" y2="1736.59" stroke="#000" stroke-width="3.4"/>
<line x1="661.71" y1="1703.58" x2="661.71" y2="1740.33" stroke="#000" stroke-width="3.4"/>
<line x1="666.34" y1="1744.28" x2="666.34" y2="1777.57" stroke="#000" stroke-width="3.4"/>
<line x1="670.97" y1="1744" x2="670.97" y2="1767.16" stroke="#000" stroke-width="3.4"/>
<line x1="675.6" y1="1737.91" x2="675.6" y2="1768.99" stroke="#000" stroke-width="3.4"/>
<line x1="680.23" y1="1729.58" x2="680.23" y2="1764.19" stroke="#000" stroke-width="3.4"/>
<line x1="684.86" y1="1737.43" x2="684.86" y2="1766.27" stroke="#000" stroke-width="3.4"/>
<line x1="689.49" y1="1738.68" x2="689.49" y2="1770.58" stroke="#000" stroke-width="3.4"/>
<line x1="694.12" y1="1740.24" x2="694.12" y2="1766.58" stroke="#000" stroke-width="3.4"/>
<line x1="698.75" y1="1736.72" x2="698.75" y2="1761.02" stroke="#000" stroke-width="3.4"/>
<line x1="703.38" y1="1719.15" x2="703.38" y2="1769.45" stroke="#000" stroke-width="3.4"/>
<line x1="708.01" y1="1716.08" x2="708.01" y2="1762.95" stroke="#000" stroke-width="3.4"/>
<line x1="712.64" y1="1710.64" x2="712.64" y2="1761.83" stroke="#000" stroke-width="3.4"/>
<line x1="717.27" y1="1693.73" x2="717.27" y2="1755.17" stroke="#000" stroke-width="3.4"/>
<line x1="721.9" y1="1701.95" x2="721.9" y2="1752.37" stroke="#000" stroke-width="3.4"/>
<line x1="726.53" y1="1713.3" x2="726.53" y2="1759.92" stroke="#000" stroke-width="3.4"/>
<line x1="731.16" y1="1739.25" x2="731.16" y2="1770.41" stroke="#000" stroke-width="3.4"/>
<line x1="735.79" y1="1751.09" x2="735.79" y2="1773.64" stroke="#000" stroke-width="3.4"/>
<line x1="740.42" y1="1760.79" x2="740.42" y2="1787.53" stroke="#000" stroke-width="3.4"/>
<line x1="745.05" y1="1754.49" x2="745.05" y2="1782.11" stroke="#000" stroke-width="3.4"/>
<line x1="749.68" y1="1751.88" x2="749.68" y2="1777.18" stroke="#000" stroke-width="3.4"/>
<line x1="754.31" y1="1746.88" x2="754.31" y2="1767.35" stroke="#000" stroke-width="3.4"/>
<line x1="758.94" y1="1753.36" x2="758.94" y2="1775.23" stroke="#000" stroke-width="3.4"/>
<line x1="763.57" y1="1751.2" x2="763.57" y2="1773.51" stroke="#000" stroke-width="3.4"/>
<line x1="768.2" y1="1756.57" x2="768.2" y2="1780.07" stroke="#000" stroke-width="3.4"/>
<line x1="772.83" y1="1754.17" x2="772.83" y2="1772.55" stroke="#000" stroke-width="3.4"/>
<line x1="777.46" y1="1751.52" x2="777.46" y2="1774.09" stroke="#000" stroke-width="3.4"/>
<line x1="782.09" y1="1748.99" x2="782.09" y2="1767.97" stroke="#000" stroke-width="3.4"/>
<line x1="786.72" y1="1751.96" x2="786.72" y2="1778.48" stroke="#000" stroke-width="3.4"/>
<line x1="791.35" y1="1735.75" x2="791.35" y2="1761.39" stroke="#000" stroke-width="3.4"/>
<line x1="795.98" y1="1745.68" x2="795.98" y2="1771.06" stroke="#000" stroke-width="3.4"/>
<line x1="800.61" y1="1719.7" x2="800.61" y2="1756.97" stroke="#000" stroke-width="3.4"/>
<line x1="805.24" y1="1689.52" x2="805.24" y2="1744.31" stroke="#000" stroke-width="3.4"/>
<line x1="809.87" y1="1648.44" x2="809.87" y2="1701.05" stroke="#000" stroke-width="3.4"/>
<line x1="814.5" y1="1591.01" x2="814.5" y2="1676.84" stroke="#000" stroke-width="3.4"/>
<line x1="819.13" y1="1528.21" x2="819.13" y2="1600.77" stroke="#000" stroke-width="3.4"/>
<line x1="823.76" y1="1554.71" x2="823.76" y2="1657.28" stroke="#000" stroke-width="3.4"/>
<line x1="828.39" y1="1545.2" x2="828.39" y2="1645.85" stroke="#000" stroke-width="3.4"/>
<line x1="833.02" y1="1588.37" x2="833.02" y2="1681.41" stroke="#000" stroke-width="3.4"/>
<line x1="837.65" y1="1563.99" x2="837.65" y2="1646.24" stroke="#000" stroke-width="3.4"/>
<line x1="842.28" y1="1554.29" x2="842.28" y2="1661.18" stroke="#000" stroke-width="3.4"/>
<line x1="846.91" y1="1564.35" x2="846.91" y2="1652.59" stroke="#000" stroke-width="3.4"/>
<line x1="851.54" y1="1569.43" x2="851.54" y2="1654.6" stroke="#000" stroke-width="3.4"/>
<line x1="856.17" y1="1549.62" x2="856.17" y2="1642.64" stroke="#000" stroke-width="3.4"/>
<line x1="860.8" y1="1554.52" x2="860.8" y2="1627.61" stroke="#000" stroke-width="3.4"/>
<line x1="865.43" y1="1528.76" x2="865.43" y2="1622.45" stroke="#000" stroke-width="3.4"/>
<line x1="870.06" y1="1534.24" x2="870.06" y2="1617.55" stroke="#000" stroke-width="3.4"/>
<line x1="874.69" y1="1515.62" x2="874.69" y2="1592.62" stroke="#000" stroke-width="3.4"/>
<line x1="879.32" y1="1538.36" x2="879.32" y2="1651.55" stroke="#000" stroke-width="3.4"/>
<line x1="883.95" y1="1606.36" x2="883.95" y2="1684.92" stroke="#000" stroke-width="3.4"/>
<line x1="888.58" y1="1605.85" x2="888.58" y2="1688.37" stroke="#000" stroke-width="3.4"/>
<line x1="893.21" y1="1573.32" x2="893.21" y2="1663.39" stroke="#000" stroke-width="3.4"/>
<line x1="897.84" y1="1593.28" x2="897.84" y2="1705.14" stroke="#000" stroke-width="3.4"/>
<line x1="902.47" y1="1576.6" x2="902.47" y2="1661.69" stroke="#000" stroke-width="3.4"/>
<line x1="907.1" y1="1549.06" x2="907.1" y2="1639.54" stroke="#000" stroke-width="3.4"/>
<line x1="911.73" y1="1582.1" x2="911.73" y2="1652.38" stroke="#000" stroke-width="3.4"/>
<line x1="916.36" y1="1579.06" x2="916.36" y2="1680.41" stroke="#000" stroke-width="3.4"/>
<line x1="920.99" y1="1612.71" x2="920.99" y2="1722.19" stroke="#000" stroke-width="3.4"/>
<line x1="925.62" y1="1593.61" x2="925.62" y2="1680.6" stroke="#000" stroke-width="3.4"/>
<line x1="930.25" y1="1534.21" x2="930.25" y2="1645.62" stroke="#000" stroke-width="3.4"/>
<line x1="934.88" y1="1559.67" x2="934.88" y2="1649.53" stroke="#000" stroke-width="3.4"/>
<line x1="939.51" y1="1581.12" x2="939.51" y2="1666.91" stroke="#000" stroke-width="3.4"/>
<line x1="944.14" y1="1597.23" x2="944.14" y2="1643.23" stroke="#000" stroke-width="3.4"/>
<line x1="948.77" y1="1616.62" x2="948.77" y2="1655.1" stroke="#000" stroke-width="3.4"/>
<line x1="953.4" y1="1592.61" x2="953.4" y2="1625.66" stroke="#000" stroke-width="3.4"/>
<line x1="958.03" y1="1596.09" x2="958.03" y2="1629.94" stroke="#000" stroke-width="3.4"/>
<line x1="962.66" y1="1606.83" x2="962.66" y2="1623.66" stroke="#000" stroke-width="3.4"/>
<polyline points="629.3,1523.26 633.93,1555.21 638.56,1540.88 643.19,1597.71 647.82,1642.19 652.45,1718.49 657.08,1711.71 661.71,1721.95 666.34,1760.92 670.97,1755.58 675.6,1753.45 680.23,1746.88 684.86,1751.85 689.49,1754.63 694.12,1753.41 698.75,1748.87 703.38,1744.3 708.01,1739.52 712.64,1736.24 717.27,1724.45 721.9,1727.16 726.53,1736.61 731.16,1754.83 735.79,1762.37 740.42,1774.16 745.05,1768.3 749.68,1764.53 754.31,1757.11 758.94,1764.3 763.57,1762.36 768.2,1768.32 772.83,1763.36 777.46,1762.8 782.09,1758.48 786.72,1765.22 791.35,1748.57 795.98,1758.37 800.61,1738.33 805.24,1716.92 809.87,1674.75 814.5,1633.93 819.13,1564.49 823.76,1605.99 828.39,1609.53 833.02,1634.89 837.65,1605.11 842.28,1607.73 846.91,1608.47 851.54,1612.01 856.17,1596.13 860.8,1591.06 865.43,1570.12 870.06,1568.19 874.69,1554.12 879.32,1594.95 883.95,1645.64 888.58,1647.11 893.21,1618.36 897.84,1649.21 902.47,1619.15 907.1,1594.3 911.73,1617.24 916.36,1629.74 920.99,1667.45 925.62,1637.1 930.25,1589.91 934.88,1604.6 939.51,1624.02 944.14,1620.23 948.77,1635.86 953.4,1609.14 958.03,1613.01 962.66,1615.24" fill="none" stroke="#000" stroke-width="3.4" stroke-linejoin="round"/>
<line x1="629.3" y1="1717.39" x2="629.3" y2="1744.66" stroke="#529dfc" stroke-width="3.4"/>
<line x1="633.93" y1="1712.43" x2="633.93" y2="1731.15" stroke="#529dfc" stroke-width="3.4"/>
<line x1="638.56" y1="1726.01" x2="638.56" y2="1743.74" stroke="#529dfc" stroke-width="3.4"/>
<line x1="643.19" y1="1732.72" x2="643.19" y2="1748.93" stroke="#529dfc" stroke-width="3.4"/>
<line x1="647.82" y1="1735.68" x2="647.82" y2="1762.74" stroke="#529dfc" stroke-width="3.4"/>
<line x1="652.45" y1="1745.89" x2="652.45" y2="1769.22" stroke="#529dfc" stroke-width="3.4"/>
<line x1="657.08" y1="1756.31" x2="657.08" y2="1779.23" stroke="#529dfc" stroke-width="3.4"/>
<line x1="661.71" y1="1756.47" x2="661.71" y2="1775.39" stroke="#529dfc" stroke-width="3.4"/>
<line x1="666.34" y1="1753.34" x2="666.34" y2="1775.45" stroke="#529dfc" stroke-width="3.4"/>
<line x1="670.97" y1="1758.39" x2="670.97" y2="1774.96" stroke="#529dfc" stroke-width="3.4"/>
<line x1="675.6" y1="1754.81" x2="675.6" y2="1780.66" stroke="#529dfc" stroke-width="3.4"/>
<line x1="680.23" y1="1759.8" x2="680.23" y2="1776.32" stroke="#529dfc" stroke-width="3.4"/>
<line x1="684.86" y1="1766.6" x2="684.86" y2="1782.32" stroke="#529dfc" stroke-width="3.4"/>
<line x1="689.49" y1="1764.44" x2="689.49" y2="1784.02" stroke="#529dfc" stroke-width="3.4"/>
<line x1="694.12" y1="1766.41" x2="694.12" y2="1783.82" stroke="#529dfc" stroke-width="3.4"/>
<line x1="698.75" y1="1757.13" x2="698.75" y2="1775.3" stroke="#529dfc" stroke-width="3.4"/>
<line x1="703.38" y1="1755.58" x2="703.38" y2="1778.31" stroke="#529dfc" stroke-width="3.4"/>
<line x1="708.01" y1="1753.35" x2="708.01" y2="1777.64" stroke="#529dfc" stroke-width="3.4"/>
<line x1="712.64" y1="1755.6" x2="712.64" y2="1778.77" stroke="#529dfc" stroke-width="3.4"/>
<line x1="717.27" y1="1753.82" x2="717.27" y2="1777.25" stroke="#529dfc" stroke-width="3.4"/>
<line x1="721.9" y1="1755.23" x2="721.9" y2="1779.67" stroke="#529dfc" stroke-width="3.4"/>
<line x1="726.53" y1="1756.84" x2="726.53" y2="1779.09" stroke="#529dfc" stroke-width="3.4"/>
<line x1="731.16" y1="1759.91" x2="731.16" y2="1777.81" stroke="#529dfc" stroke-width="3.4"/>
<line x1="735.79" y1="1756.93" x2="735.79" y2="1777.27" stroke="#529dfc" stroke-width="3.4"/>
<line x1="740.42" y1="1753.04" x2="740.42" y2="1772.17" stroke="#529dfc" stroke-width="3.4"/>
<line x1="745.05" y1="1757.41" x2="745.05" y2="1781.74" stroke="#529dfc" stroke-width="3.4"/>
<line x1="749.68" y1="1754.36" x2="749.68" y2="1771.42" stroke="#529dfc" stroke-width="3.4"/>
<line x1="754.31" y1="1755.29" x2="754.31" y2="1773.08" stroke="#529dfc" stroke-width="3.4"/>
<line x1="758.94" y1="1744.86" x2="758.94" y2="1767.29" stroke="#529dfc" stroke-width="3.4"/>
<line x1="763.57" y1="1751.21" x2="763.57" y2="1772.51" stroke="#529dfc" stroke-width="3.4"/>
<line x1="768.2" y1="1749.48" x2="768.2" y2="1767.01" stroke="#529dfc" stroke-width="3.4"/>
<line x1="772.83" y1="1753.65" x2="772.83" y2="1770.22" stroke="#529dfc" stroke-width="3.4"/>
<line x1="777.46" y1="1754.81" x2="777.46" y2="1776.8" stroke="#529dfc" stroke-width="3.4"/>
<line x1="782.09" y1="1746.2" x2="782.09" y2="1762.19" stroke="#529dfc" stroke-width="3.4"/>
<line x1="786.72" y1="1738.12" x2="786.72" y2="1769.53" stroke="#529dfc" stroke-width="3.4"/>
<line x1="791.35" y1="1727.21" x2="791.35" y2="1757.8" stroke="#529dfc" stroke-width="3.4"/>
<line x1="795.98" y1="1629.88" x2="795.98" y2="1715.64" stroke="#529dfc" stroke-width="3.4"/>
<line x1="800.61" y1="1529.61" x2="800.61" y2="1643.97" stroke="#529dfc" stroke-width="3.4"/>
<line x1="805.24" y1="1490.4" x2="805.24" y2="1664.52" stroke="#529dfc" stroke-width="3.4"/>
<line x1="809.87" y1="1516.53" x2="809.87" y2="1609.04" stroke="#529dfc" stroke-width="3.4"/>
<line x1="814.5" y1="1526.57" x2="814.5" y2="1680.62" stroke="#529dfc" stroke-width="3.4"/>
<line x1="819.13" y1="1530.78" x2="819.13" y2="1632.41" stroke="#529dfc" stroke-width="3.4"/>
<line x1="823.76" y1="1528.76" x2="823.76" y2="1656.78" stroke="#529dfc" stroke-width="3.4"/>
<line x1="828.39" y1="1596.59" x2="828.39" y2="1742.64" stroke="#529dfc" stroke-width="3.4"/>
<line x1="833.02" y1="1584.4" x2="833.02" y2="1700.84" stroke="#529dfc" stroke-width="3.4"/>
<line x1="837.65" y1="1574.19" x2="837.65" y2="1709.89" stroke="#529dfc" stroke-width="3.4"/>
<line x1="842.28" y1="1617.14" x2="842.28" y2="1728.4" stroke="#529dfc" stroke-width="3.4"/>
<line x1="846.91" y1="1621.76" x2="846.91" y2="1719.39" stroke="#529dfc" stroke-width="3.4"/>
<line x1="851.54" y1="1610.56" x2="851.54" y2="1721.53" stroke="#529dfc" stroke-width="3.4"/>
<line x1="856.17" y1="1577.91" x2="856.17" y2="1711.22" stroke="#529dfc" stroke-width="3.4"/>
<line x1="860.8" y1="1585.12" x2="860.8" y2="1718.25" stroke="#529dfc" stroke-width="3.4"/>
<line x1="865.43" y1="1601.48" x2="865.43" y2="1718.16" stroke="#529dfc" stroke-width="3.4"/>
<line x1="870.06" y1="1590.68" x2="870.06" y2="1706.82" stroke="#529dfc" stroke-width="3.4"/>
<line x1="874.69" y1="1591.83" x2="874.69" y2="1722.53" stroke="#529dfc" stroke-width="3.4"/>
<line x1="879.32" y1="1571.65" x2="879.32" y2="1694.17" stroke="#529dfc" stroke-width="3.4"/>
<line x1="883.95" y1="1599.25" x2="883.95" y2="1693.84" stroke="#529dfc" stroke-width="3.4"/>
<line x1="888.58" y1="1651.78" x2="888.58" y2="1744.23" stroke="#529dfc" stroke-width="3.4"/>
<line x1="893.21" y1="1613.61" x2="893.21" y2="1731.65" stroke="#529dfc" stroke-width="3.4"/>
<line x1="897.84" y1="1625.27" x2="897.84" y2="1719.02" stroke="#529dfc" stroke-width="3.4"/>
<line x1="902.47" y1="1617.55" x2="902.47" y2="1719.03" stroke="#529dfc" stroke-width="3.4"/>
<line x1="907.1" y1="1592.56" x2="907.1" y2="1684.79" stroke="#529dfc" stroke-width="3.4"/>
<line x1="911.73" y1="1587.68" x2="911.73" y2="1678.74" stroke="#529dfc" stroke-width="3.4"/>
<line x1="916.36" y1="1635.58" x2="916.36" y2="1731.35" stroke="#529dfc" stroke-width="3.4"/>
<line x1="920.99" y1="1630.16" x2="920.99" y2="1726.14" stroke="#529dfc" stroke-width="3.4"/>
<line x1="925.62" y1="1652.26" x2="925.62" y2="1734.39" stroke="#529dfc" stroke-width="3.4"/>
<line x1="930.25" y1="1568.65" x2="930.25" y2="1696.83" stroke="#529dfc" stroke-width="3.4"/>
<line x1="934.88" y1="1473.96" x2="934.88" y2="1671.8" stroke="#529dfc" stroke-width="3.4"/>
<line x1="939.51" y1="1621.55" x2="939.51" y2="1720.02" stroke="#529dfc" stroke-width="3.4"/>
<line x1="944.14" y1="1571.78" x2="944.14" y2="1686.9" stroke="#529dfc" stroke-width="3.4"/>
<line x1="948.77" y1="1614.28" x2="948.77" y2="1716.11" stroke="#529dfc" stroke-width="3.4"/>
<line x1="953.4" y1="1592.93" x2="953.4" y2="1710.36" stroke="#529dfc" stroke-width="3.4"/>
<line x1="958.03" y1="1588.62" x2="958.03" y2="1665.75" stroke="#529dfc" stroke-width="3.4"/>
<line x1="962.66" y1="1619.55" x2="962.66" y2="1707.88" stroke="#529dfc" stroke-width="3.4"/>
<polyline points="629.3,1731.02 633.93,1721.79 638.56,1734.87 643.19,1740.82 647.82,1749.21 652.45,1757.55 657.08,1767.77 661.71,1765.93 666.34,1764.39 670.97,1766.68 675.6,1767.73 680.23,1768.06 684.86,1774.46 689.49,1774.23 694.12,1775.11 698.75,1766.21 703.38,1766.94 708.01,1765.49 712.64,1767.18 717.27,1765.53 721.9,1767.45 726.53,1767.97 731.16,1768.86 735.79,1767.1 740.42,1762.6 745.05,1769.57 749.68,1762.89 754.31,1764.19 758.94,1756.07 763.57,1761.86 768.2,1758.25 772.83,1761.93 777.46,1765.8 782.09,1754.19 786.72,1753.83 791.35,1742.5 795.98,1672.76 800.61,1586.79 805.24,1613.36 809.87,1562.79 814.5,1614.98 819.13,1581.59 823.76,1604.01 828.39,1669.62 833.02,1642.62 837.65,1642.04 842.28,1672.77 846.91,1670.58 851.54,1666.05 856.17,1644.56 860.8,1651.69 865.43,1659.82 870.06,1648.75 874.69,1657.18 879.32,1632.91 883.95,1646.55 888.58,1698 893.21,1672.63 897.84,1672.15 902.47,1668.29 907.1,1638.68 911.73,1633.21 916.36,1683.46 920.99,1678.15 925.62,1693.33 930.25,1632.74 934.88,1610.85 939.51,1670.79 944.14,1629.34 948.77,1665.2 953.4,1651.65 958.03,1627.18 962.66,1663.72" fill="none" stroke="#529dfc" stroke-width="3.4" stroke-linejoin="round"/>
<line x1="629.3" y1="1649.32" x2="629.3" y2="1711.42" stroke="#d9362d" stroke-width="3.4"/>
<line x1="633.93" y1="1660.56" x2="633.93" y2="1725.51" stroke="#d9362d" stroke-width="3.4"/>
<line x1="638.56" y1="1672.21" x2="638.56" y2="1735" stroke="#d9362d" stroke-width="3.4"/>
<line x1="643.19" y1="1648.79" x2="643.19" y2="1710.67" stroke="#d9362d" stroke-width="3.4"/>
<line x1="647.82" y1="1668.94" x2="647.82" y2="1716.96" stroke="#d9362d" stroke-width="3.4"/>
<line x1="652.45" y1="1703.21" x2="652.45" y2="1739.49" stroke="#d9362d" stroke-width="3.4"/>
<line x1="657.08" y1="1713.87" x2="657.08" y2="1754.45" stroke="#d9362d" stroke-width="3.4"/>
<line x1="661.71" y1="1726.54" x2="661.71" y2="1761.46" stroke="#d9362d" stroke-width="3.4"/>
<line x1="666.34" y1="1724.95" x2="666.34" y2="1766.7" stroke="#d9362d" stroke-width="3.4"/>
<line x1="670.97" y1="1731.17" x2="670.97" y2="1773.44" stroke="#d9362d" stroke-width="3.4"/>
<line x1="675.6" y1="1716.06" x2="675.6" y2="1754.87" stroke="#d9362d" stroke-width="3.4"/>
<line x1="680.23" y1="1735.8" x2="680.23" y2="1785.79" stroke="#d9362d" stroke-width="3.4"/>
<line x1="684.86" y1="1722.49" x2="684.86" y2="1774.6" stroke="#d9362d" stroke-width="3.4"/>
<line x1="689.49" y1="1738.32" x2="689.49" y2="1773.51" stroke="#d9362d" stroke-width="3.4"/>
<line x1="694.12" y1="1731.03" x2="694.12" y2="1768.43" stroke="#d9362d" stroke-width="3.4"/>
<line x1="698.75" y1="1721.94" x2="698.75" y2="1759.01" stroke="#d9362d" stroke-width="3.4"/>
<line x1="703.38" y1="1716.96" x2="703.38" y2="1768.92" stroke="#d9362d" stroke-width="3.4"/>
<line x1="708.01" y1="1709.46" x2="708.01" y2="1759.36" stroke="#d9362d" stroke-width="3.4"/>
<line x1="712.64" y1="1727.52" x2="712.64" y2="1765.01" stroke="#d9362d" stroke-width="3.4"/>
<line x1="717.27" y1="1747.87" x2="717.27" y2="1782.8" stroke="#d9362d" stroke-width="3.4"/>
<line x1="721.9" y1="1750.26" x2="721.9" y2="1781.75" stroke="#d9362d" stroke-width="3.4"/>
<line x1="726.53" y1="1754.58" x2="726.53" y2="1780.44" stroke="#d9362d" stroke-width="3.4"/>
<line x1="731.16" y1="1753.65" x2="731.16" y2="1775.29" stroke="#d9362d" stroke-width="3.4"/>
<line x1="735.79" y1="1742.88" x2="735.79" y2="1775.74" stroke="#d9362d" stroke-width="3.4"/>
<line x1="740.42" y1="1746.44" x2="740.42" y2="1772.65" stroke="#d9362d" stroke-width="3.4"/>
<line x1="745.05" y1="1738.77" x2="745.05" y2="1765.23" stroke="#d9362d" stroke-width="3.4"/>
<line x1="749.68" y1="1731.45" x2="749.68" y2="1755.46" stroke="#d9362d" stroke-width="3.4"/>
<line x1="754.31" y1="1744.21" x2="754.31" y2="1779.78" stroke="#d9362d" stroke-width="3.4"/>
<line x1="758.94" y1="1743.53" x2="758.94" y2="1768.73" stroke="#d9362d" stroke-width="3.4"/>
<line x1="763.57" y1="1751.64" x2="763.57" y2="1785.22" stroke="#d9362d" stroke-width="3.4"/>
<line x1="768.2" y1="1754.65" x2="768.2" y2="1775.09" stroke="#d9362d" stroke-width="3.4"/>
<line x1="772.83" y1="1749.48" x2="772.83" y2="1776.09" stroke="#d9362d" stroke-width="3.4"/>
<line x1="777.46" y1="1743.1" x2="777.46" y2="1773.73" stroke="#d9362d" stroke-width="3.4"/>
<line x1="782.09" y1="1745.04" x2="782.09" y2="1767.97" stroke="#d9362d" stroke-width="3.4"/>
<line x1="786.72" y1="1748.12" x2="786.72" y2="1767.48" stroke="#d9362d" stroke-width="3.4"/>
<line x1="791.35" y1="1752.05" x2="791.35" y2="1774.39" stroke="#d9362d" stroke-width="3.4"/>
<line x1="795.98" y1="1745.1" x2="795.98" y2="1770.1" stroke="#d9362d" stroke-width="3.4"/>
<line x1="800.61" y1="1729.64" x2="800.61" y2="1767.94" stroke="#d9362d" stroke-width="3.4"/>
<line x1="805.24" y1="1684.25" x2="805.24" y2="1731.62" stroke="#d9362d" stroke-width="3.4"/>
<line x1="809.87" y1="1596.89" x2="809.87" y2="1642.92" stroke="#d9362d" stroke-width="3.4"/>
<line x1="814.5" y1="1540.61" x2="814.5" y2="1621.7" stroke="#d9362d" stroke-width="3.4"/>
<line x1="819.13" y1="1563.83" x2="819.13" y2="1617.4" stroke="#d9362d" stroke-width="3.4"/>
<line x1="823.76" y1="1566.37" x2="823.76" y2="1660.25" stroke="#d9362d" stroke-width="3.4"/>
<line x1="828.39" y1="1591.43" x2="828.39" y2="1655.7" stroke="#d9362d" stroke-width="3.4"/>
<line x1="833.02" y1="1577" x2="833.02" y2="1681.54" stroke="#d9362d" stroke-width="3.4"/>
<line x1="837.65" y1="1611.08" x2="837.65" y2="1694.17" stroke="#d9362d" stroke-width="3.4"/>
<line x1="842.28" y1="1605.19" x2="842.28" y2="1678.87" stroke="#d9362d" stroke-width="3.4"/>
<line x1="846.91" y1="1588.33" x2="846.91" y2="1681.73" stroke="#d9362d" stroke-width="3.4"/>
<line x1="851.54" y1="1597.56" x2="851.54" y2="1693.32" stroke="#d9362d" stroke-width="3.4"/>
<line x1="856.17" y1="1601.4" x2="856.17" y2="1671.35" stroke="#d9362d" stroke-width="3.4"/>
<line x1="860.8" y1="1603.35" x2="860.8" y2="1672.43" stroke="#d9362d" stroke-width="3.4"/>
<line x1="865.43" y1="1595.83" x2="865.43" y2="1669.57" stroke="#d9362d" stroke-width="3.4"/>
<line x1="870.06" y1="1608.07" x2="870.06" y2="1676.39" stroke="#d9362d" stroke-width="3.4"/>
<line x1="874.69" y1="1603.65" x2="874.69" y2="1684.39" stroke="#d9362d" stroke-width="3.4"/>
<line x1="879.32" y1="1567.3" x2="879.32" y2="1655.38" stroke="#d9362d" stroke-width="3.4"/>
<line x1="883.95" y1="1628.79" x2="883.95" y2="1699.54" stroke="#d9362d" stroke-width="3.4"/>
<line x1="888.58" y1="1587.92" x2="888.58" y2="1675.09" stroke="#d9362d" stroke-width="3.4"/>
<line x1="893.21" y1="1608.55" x2="893.21" y2="1697.73" stroke="#d9362d" stroke-width="3.4"/>
<line x1="897.84" y1="1606.79" x2="897.84" y2="1711.56" stroke="#d9362d" stroke-width="3.4"/>
<line x1="902.47" y1="1604.94" x2="902.47" y2="1673.87" stroke="#d9362d" stroke-width="3.4"/>
<line x1="907.1" y1="1625.12" x2="907.1" y2="1702.12" stroke="#d9362d" stroke-width="3.4"/>
<line x1="911.73" y1="1588.34" x2="911.73" y2="1653.58" stroke="#d9362d" stroke-width="3.4"/>
<line x1="916.36" y1="1574.74" x2="916.36" y2="1663.24" stroke="#d9362d" stroke-width="3.4"/>
<line x1="920.99" y1="1590.75" x2="920.99" y2="1672.1" stroke="#d9362d" stroke-width="3.4"/>
<line x1="925.62" y1="1594.81" x2="925.62" y2="1668.72" stroke="#d9362d" stroke-width="3.4"/>
<line x1="930.25" y1="1634.98" x2="930.25" y2="1709.46" stroke="#d9362d" stroke-width="3.4"/>
<line x1="934.88" y1="1586.81" x2="934.88" y2="1677.53" stroke="#d9362d" stroke-width="3.4"/>
<line x1="939.51" y1="1620.22" x2="939.51" y2="1702.3" stroke="#d9362d" stroke-width="3.4"/>
<line x1="944.14" y1="1570.93" x2="944.14" y2="1674.83" stroke="#d9362d" stroke-width="3.4"/>
<line x1="948.77" y1="1539.72" x2="948.77" y2="1700.95" stroke="#d9362d" stroke-width="3.4"/>
<line x1="953.4" y1="1616.37" x2="953.4" y2="1687.85" stroke="#d9362d" stroke-width="3.4"/>
<line x1="958.03" y1="1616.38" x2="958.03" y2="1696.31" stroke="#d9362d" stroke-width="3.4"/>
<line x1="962.66" y1="1623.12" x2="962.66" y2="1699.71" stroke="#d9362d" stroke-width="3.4"/>
<polyline points="629.3,1679.85 633.93,1693.03 638.56,1703.61 643.19,1679.73 647.82,1692.95 652.45,1721.35 657.08,1734.16 661.71,1744 666.34,1745.82 670.97,1752.3 675.6,1735.46 680.23,1760.8 684.86,1748.54 689.49,1755.91 694.12,1749.73 698.75,1740.48 703.38,1742.94 708.01,1734.41 712.64,1746.26 717.27,1765.33 721.9,1766.01 726.53,1767.51 731.16,1764.47 735.79,1759.31 740.42,1759.54 745.05,1752 749.68,1743.46 754.31,1761.99 758.94,1756.13 763.57,1768.43 768.2,1764.87 772.83,1762.78 777.46,1758.42 782.09,1756.51 786.72,1757.8 791.35,1763.22 795.98,1757.6 800.61,1748.79 805.24,1707.94 809.87,1619.91 814.5,1581.15 819.13,1573.52 823.76,1613.31 828.39,1623.57 833.02,1629.27 837.65,1652.63 842.28,1642.03 846.91,1635.03 851.54,1645.44 856.17,1636.38 860.8,1637.89 865.43,1632.7 870.06,1642.23 874.69,1644.02 879.32,1611.34 883.95,1664.17 888.58,1631.5 893.21,1653.14 897.84,1659.17 902.47,1639.4 907.1,1663.62 911.73,1620.96 916.36,1618.99 920.99,1631.42 925.62,1631.77 930.25,1672.22 934.88,1632.17 939.51,1661.26 944.14,1622.88 948.77,1658.69 953.4,1652.11 958.03,1656.34 962.66,1661.41" fill="none" stroke="#d9362d" stroke-width="3.4" stroke-linejoin="round"/>
<line x1="629.3" y1="1461.2" x2="629.3" y2="1793.7" stroke="#000" stroke-width="3.8"/>
<line x1="610.5" y1="1791.8" x2="631.2" y2="1791.8" stroke="#000" stroke-width="3.6"/>
<text transform="translate(606.3 1801.1) scale(1 1.04)" font-size="26" text-anchor="end" fill="#000">0</text>
<line x1="610.5" y1="1737" x2="631.2" y2="1737" stroke="#000" stroke-width="3.6"/>
<text transform="translate(606.3 1746.3) scale(1 1.04)" font-size="26" text-anchor="end" fill="#000">500</text>
<line x1="610.5" y1="1682.2" x2="631.2" y2="1682.2" stroke="#000" stroke-width="3.6"/>
<text transform="translate(606.3 1691.5) scale(1 1.04)" font-size="26" text-anchor="end" fill="#000">1000</text>
<line x1="610.5" y1="1627.4" x2="631.2" y2="1627.4" stroke="#000" stroke-width="3.6"/>
<text transform="translate(606.3 1636.7) scale(1 1.04)" font-size="26" text-anchor="end" fill="#000">1500</text>
<line x1="610.5" y1="1572.6" x2="631.2" y2="1572.6" stroke="#000" stroke-width="3.6"/>
<text transform="translate(606.3 1581.9) scale(1 1.04)" font-size="26" text-anchor="end" fill="#000">2000</text>
<line x1="610.5" y1="1517.8" x2="631.2" y2="1517.8" stroke="#000" stroke-width="3.6"/>
<text transform="translate(606.3 1527.1) scale(1 1.04)" font-size="26" text-anchor="end" fill="#000">2500</text>
<line x1="610.5" y1="1463" x2="631.2" y2="1463" stroke="#000" stroke-width="3.6"/>
<text transform="translate(606.3 1472.3) scale(1 1.04)" font-size="26" text-anchor="end" fill="#000">3000</text>
<line x1="610.5" y1="1791.8" x2="964.9" y2="1791.8" stroke="#000" stroke-width="3.8"/>
<line x1="629.3" y1="1791.8" x2="629.3" y2="1809.3" stroke="#000" stroke-width="3.6"/>
<text transform="translate(629.3 1837.5) scale(1 1.04)" font-size="28" text-anchor="middle" fill="#000">0</text>
<line x1="795.98" y1="1791.8" x2="795.98" y2="1809.3" stroke="#000" stroke-width="3.6"/>
<text transform="translate(795.98 1837.5) scale(1 1.04)" font-size="28" text-anchor="middle" fill="#000">12</text>
<line x1="962.66" y1="1791.8" x2="962.66" y2="1809.3" stroke="#000" stroke-width="3.6"/>
<text transform="translate(962.66 1837.5) scale(1 1.04)" font-size="28" text-anchor="middle" fill="#000">24</text>
<text transform="translate(795.8 1872.5) scale(1 1.04)" font-size="31" text-anchor="middle" fill="#000">Zeitgeber Time (h)</text>
<text transform="translate(530 1628) rotate(-90) scale(1 1.04)" font-size="28" text-anchor="middle" fill="#000">Activity (XY+XT)</text>
<text transform="translate(1197.2 1417) scale(1 1.04)" font-size="43" text-anchor="middle" fill="#000">Light</text>
<rect x="1131.8" y="1740.2" width="21.9" height="53.3" fill="#000"/>
<rect x="1135.9" y="1744.3" width="13.7" height="47.4" fill="#7b7b7b"/>
<rect x="1152.8" y="1722.3" width="25.1" height="71.2" fill="#000"/>
<rect x="1157.8" y="1726.4" width="16" height="65.3" fill="#2f2f2f"/>
<rect x="1191.3" y="1745.9" width="22.2" height="47.6" fill="#000"/>
<rect x="1195.4" y="1750" width="14" height="41.7" fill="#e6b030"/>
<rect x="1212.6" y="1748.8" width="24.6" height="44.7" fill="#000"/>
<rect x="1217.6" y="1752.9" width="15.5" height="38.8" fill="#529dfc"/>
<rect x="1250.5" y="1750.2" width="22.3" height="43.3" fill="#000"/>
<rect x="1254.6" y="1754.3" width="14.1" height="37.4" fill="#c876ae"/>
<rect x="1271.9" y="1745.9" width="24.8" height="47.6" fill="#000"/>
<rect x="1276.9" y="1750" width="15.7" height="41.7" fill="#d9362d"/>
<line x1="1142.75" y1="1731.1" x2="1142.75" y2="1748.5" stroke="#000" stroke-width="3.4"/>
<line x1="1136.75" y1="1731.1" x2="1148.75" y2="1731.1" stroke="#000" stroke-width="3.4"/>
<line x1="1136.75" y1="1748.5" x2="1148.75" y2="1748.5" stroke="#000" stroke-width="3.4"/>
<line x1="1165.8" y1="1714.7" x2="1165.8" y2="1729.6" stroke="#000" stroke-width="3.4"/>
<line x1="1159.8" y1="1714.7" x2="1171.8" y2="1714.7" stroke="#000" stroke-width="3.4"/>
<line x1="1159.8" y1="1729.6" x2="1171.8" y2="1729.6" stroke="#000" stroke-width="3.4"/>
<line x1="1202.4" y1="1739.5" x2="1202.4" y2="1749.4" stroke="#000" stroke-width="3.4"/>
<line x1="1196.4" y1="1739.5" x2="1208.4" y2="1739.5" stroke="#000" stroke-width="3.4"/>
<line x1="1196.4" y1="1749.4" x2="1208.4" y2="1749.4" stroke="#000" stroke-width="3.4"/>
<line x1="1225.35" y1="1740.5" x2="1225.35" y2="1756.4" stroke="#000" stroke-width="3.4"/>
<line x1="1219.35" y1="1740.5" x2="1231.35" y2="1740.5" stroke="#000" stroke-width="3.4"/>
<line x1="1219.35" y1="1756.4" x2="1231.35" y2="1756.4" stroke="#000" stroke-width="3.4"/>
<line x1="1261.65" y1="1744.5" x2="1261.65" y2="1756" stroke="#000" stroke-width="3.4"/>
<line x1="1255.65" y1="1744.5" x2="1267.65" y2="1744.5" stroke="#000" stroke-width="3.4"/>
<line x1="1255.65" y1="1756" x2="1267.65" y2="1756" stroke="#000" stroke-width="3.4"/>
<line x1="1284.75" y1="1737" x2="1284.75" y2="1753.9" stroke="#000" stroke-width="3.4"/>
<line x1="1278.75" y1="1737" x2="1290.75" y2="1737" stroke="#000" stroke-width="3.4"/>
<line x1="1278.75" y1="1753.9" x2="1290.75" y2="1753.9" stroke="#000" stroke-width="3.4"/>
<circle cx="1134.85" cy="1720.7" r="4.35" fill="#000"/>
<circle cx="1142.75" cy="1724.6" r="4.35" fill="#000"/>
<circle cx="1150.75" cy="1722.7" r="4.35" fill="#000"/>
<circle cx="1142.75" cy="1756.4" r="4.35" fill="#000"/>
<circle cx="1136.35" cy="1760.9" r="4.35" fill="#000"/>
<circle cx="1149.75" cy="1757.4" r="4.35" fill="#000"/>
<path d="M1159.2 1700.31L1163.5 1708.48L1154.9 1708.48Z" fill="#000"/>
<path d="M1166.6 1706.31L1170.9 1714.48L1162.3 1714.48Z" fill="#000"/>
<path d="M1174.6 1705.31L1178.9 1713.48L1170.3 1713.48Z" fill="#000"/>
<path d="M1166.6 1724.11L1170.9 1732.28L1162.3 1732.28Z" fill="#000"/>
<path d="M1170.6 1733.01L1174.9 1741.18L1166.3 1741.18Z" fill="#000"/>
<path d="M1162.7 1736.01L1167 1744.18L1158.4 1744.18Z" fill="#000"/>
<circle cx="1193.9" cy="1734" r="4.35" fill="#000"/>
<circle cx="1199.4" cy="1732.6" r="4.35" fill="#000"/>
<circle cx="1204.8" cy="1730.1" r="4.35" fill="#000"/>
<circle cx="1210.3" cy="1733.6" r="4.35" fill="#000"/>
<circle cx="1194.4" cy="1745.5" r="4.35" fill="#000"/>
<circle cx="1199.4" cy="1751" r="4.35" fill="#000"/>
<circle cx="1204.3" cy="1765.8" r="4.35" fill="#000"/>
<circle cx="1199.4" cy="1771.8" r="4.35" fill="#000"/>
<path d="M1225.95 1699.31L1230.25 1707.48L1221.65 1707.48Z" fill="#000"/>
<path d="M1225.95 1729.11L1230.25 1737.28L1221.65 1737.28Z" fill="#000"/>
<path d="M1218.15 1732.51L1222.45 1740.68L1213.85 1740.68Z" fill="#000"/>
<path d="M1233.85 1739.01L1238.15 1747.18L1229.55 1747.18Z" fill="#000"/>
<path d="M1225.65 1755.91L1229.95 1764.08L1221.35 1764.08Z" fill="#000"/>
<path d="M1225.65 1765.31L1229.95 1773.48L1221.35 1773.48Z" fill="#000"/>
<path d="M1218.35 1770.51L1222.65 1778.68L1214.05 1778.68Z" fill="#000"/>
<path d="M1232.35 1767.51L1236.65 1775.68L1228.05 1775.68Z" fill="#000"/>
<circle cx="1253.95" cy="1737.5" r="4.35" fill="#000"/>
<circle cx="1261.85" cy="1743.5" r="4.35" fill="#000"/>
<circle cx="1269.35" cy="1742.5" r="4.35" fill="#000"/>
<circle cx="1264.75" cy="1759.4" r="4.35" fill="#000"/>
<circle cx="1257.95" cy="1763.8" r="4.35" fill="#000"/>
<circle cx="1261.85" cy="1749.4" r="4.35" fill="#000"/>
<path d="M1277.75 1719.61L1282.05 1727.78L1273.45 1727.78Z" fill="#000"/>
<path d="M1293.05 1713.71L1297.35 1721.88L1288.75 1721.88Z" fill="#000"/>
<path d="M1285.25 1770.71L1289.55 1778.88L1280.95 1778.88Z" fill="#000"/>
<path d="M1278.75 1755.51L1283.05 1763.68L1274.45 1763.68Z" fill="#000"/>
<path d="M1290.75 1755.51L1295.05 1763.68L1286.45 1763.68Z" fill="#000"/>
<line x1="1119.5" y1="1460.8" x2="1119.5" y2="1795.4" stroke="#000" stroke-width="3.8"/>
<line x1="1102.5" y1="1793.5" x2="1121.4" y2="1793.5" stroke="#000" stroke-width="3.6"/>
<text transform="translate(1098.3 1802.8) scale(1 1.04)" font-size="26" text-anchor="end" fill="#000">0</text>
<line x1="1102.5" y1="1683.2" x2="1121.4" y2="1683.2" stroke="#000" stroke-width="3.6"/>
<text transform="translate(1098.3 1692.5) scale(1 1.04)" font-size="26" text-anchor="end" fill="#000">1000</text>
<line x1="1102.5" y1="1572.9" x2="1121.4" y2="1572.9" stroke="#000" stroke-width="3.6"/>
<text transform="translate(1098.3 1582.2) scale(1 1.04)" font-size="26" text-anchor="end" fill="#000">2000</text>
<line x1="1102.5" y1="1462.6" x2="1121.4" y2="1462.6" stroke="#000" stroke-width="3.6"/>
<text transform="translate(1098.3 1471.9) scale(1 1.04)" font-size="26" text-anchor="end" fill="#000">3000</text>
<line x1="1102.5" y1="1793.5" x2="1310.4" y2="1793.5" stroke="#000" stroke-width="3.8"/>
<line x1="1153.7" y1="1793.5" x2="1153.7" y2="1810.5" stroke="#000" stroke-width="3.6"/>
<line x1="1213.5" y1="1793.5" x2="1213.5" y2="1810.5" stroke="#000" stroke-width="3.6"/>
<line x1="1272.8" y1="1793.5" x2="1272.8" y2="1810.5" stroke="#000" stroke-width="3.6"/>
<text transform="translate(1164.7 1832.5) rotate(-45) scale(1 1.04)" font-size="26" text-anchor="end" fill="#000">3 mo</text>
<text transform="translate(1224.5 1832.5) rotate(-45) scale(1 1.04)" font-size="26" text-anchor="end" fill="#000">6 mo</text>
<text transform="translate(1283.8 1832.5) rotate(-45) scale(1 1.04)" font-size="26" text-anchor="end" fill="#000">9 mo</text>
<text transform="translate(1022 1628) rotate(-90) scale(1 1.04)" font-size="28" text-anchor="middle" fill="#000">Activity (XY+XT)</text>
<text transform="translate(1541.2 1417) scale(1 1.04)" font-size="43" text-anchor="middle" fill="#000">Dark</text>
<rect x="1462.4" y="1628.3" width="22.2" height="165.2" fill="#000"/>
<rect x="1466.5" y="1632.4" width="14" height="159.3" fill="#7b7b7b"/>
<rect x="1483.7" y="1628.3" width="24.8" height="165.2" fill="#000"/>
<rect x="1488.7" y="1632.4" width="15.7" height="159.3" fill="#2f2f2f"/>
<rect x="1521.6" y="1626.3" width="22.8" height="167.2" fill="#000"/>
<rect x="1525.7" y="1630.4" width="14.6" height="161.3" fill="#e6b030"/>
<rect x="1543.5" y="1605" width="24.3" height="188.5" fill="#000"/>
<rect x="1548.5" y="1609.1" width="15.2" height="182.6" fill="#529dfc"/>
<rect x="1581.4" y="1699.5" width="22.5" height="94" fill="#000"/>
<rect x="1585.5" y="1703.6" width="14.3" height="88.1" fill="#c876ae"/>
<rect x="1603" y="1644.2" width="24" height="149.3" fill="#000"/>
<rect x="1608" y="1648.3" width="14.9" height="143.4" fill="#d9362d"/>
<line x1="1473.5" y1="1606" x2="1473.5" y2="1647" stroke="#000" stroke-width="3.4"/>
<line x1="1467.5" y1="1606" x2="1479.5" y2="1606" stroke="#000" stroke-width="3.4"/>
<line x1="1467.5" y1="1647" x2="1479.5" y2="1647" stroke="#000" stroke-width="3.4"/>
<line x1="1496.55" y1="1606" x2="1496.55" y2="1647" stroke="#000" stroke-width="3.4"/>
<line x1="1490.55" y1="1606" x2="1502.55" y2="1606" stroke="#000" stroke-width="3.4"/>
<line x1="1490.55" y1="1647" x2="1502.55" y2="1647" stroke="#000" stroke-width="3.4"/>
<line x1="1533" y1="1604" x2="1533" y2="1643" stroke="#000" stroke-width="3.4"/>
<line x1="1527" y1="1604" x2="1539" y2="1604" stroke="#000" stroke-width="3.4"/>
<line x1="1527" y1="1643" x2="1539" y2="1643" stroke="#000" stroke-width="3.4"/>
<line x1="1556.1" y1="1567" x2="1556.1" y2="1641" stroke="#000" stroke-width="3.4"/>
<line x1="1550.1" y1="1567" x2="1562.1" y2="1567" stroke="#000" stroke-width="3.4"/>
<line x1="1550.1" y1="1641" x2="1562.1" y2="1641" stroke="#000" stroke-width="3.4"/>
<line x1="1592.65" y1="1688" x2="1592.65" y2="1717" stroke="#000" stroke-width="3.4"/>
<line x1="1586.65" y1="1688" x2="1598.65" y2="1688" stroke="#000" stroke-width="3.4"/>
<line x1="1586.65" y1="1717" x2="1598.65" y2="1717" stroke="#000" stroke-width="3.4"/>
<line x1="1615.45" y1="1625" x2="1615.45" y2="1661" stroke="#000" stroke-width="3.4"/>
<line x1="1609.45" y1="1625" x2="1621.45" y2="1625" stroke="#000" stroke-width="3.4"/>
<line x1="1609.45" y1="1661" x2="1621.45" y2="1661" stroke="#000" stroke-width="3.4"/>
<circle cx="1473.5" cy="1576" r="4.35" fill="#000"/>
<circle cx="1473.5" cy="1589" r="4.35" fill="#000"/>
<circle cx="1473.5" cy="1597" r="4.35" fill="#000"/>
<circle cx="1473.5" cy="1618" r="4.35" fill="#000"/>
<circle cx="1473.5" cy="1680" r="4.35" fill="#000"/>
<circle cx="1473.5" cy="1704" r="4.35" fill="#000"/>
<path d="M1496.55 1548.51L1500.85 1556.68L1492.25 1556.68Z" fill="#000"/>
<path d="M1496.55 1590.51L1500.85 1598.68L1492.25 1598.68Z" fill="#000"/>
<path d="M1496.55 1653.51L1500.85 1661.68L1492.25 1661.68Z" fill="#000"/>
<path d="M1496.55 1663.51L1500.85 1671.68L1492.25 1671.68Z" fill="#000"/>
<path d="M1496.55 1679.51L1500.85 1687.68L1492.25 1687.68Z" fill="#000"/>
<circle cx="1533" cy="1529" r="4.35" fill="#000"/>
<circle cx="1533" cy="1558" r="4.35" fill="#000"/>
<circle cx="1533" cy="1567" r="4.35" fill="#000"/>
<circle cx="1533" cy="1594" r="4.35" fill="#000"/>
<circle cx="1533" cy="1657" r="4.35" fill="#000"/>
<circle cx="1533" cy="1690" r="4.35" fill="#000"/>
<circle cx="1525" cy="1696" r="4.35" fill="#000"/>
<circle cx="1541" cy="1694" r="4.35" fill="#000"/>
<path d="M1556.1 1532.51L1560.4 1540.68L1551.8 1540.68Z" fill="#000"/>
<path d="M1556.1 1569.51L1560.4 1577.68L1551.8 1577.68Z" fill="#000"/>
<path d="M1556.1 1635.51L1560.4 1643.68L1551.8 1643.68Z" fill="#000"/>
<path d="M1556.1 1682.51L1560.4 1690.68L1551.8 1690.68Z" fill="#000"/>
<path d="M1556.1 1695.51L1560.4 1703.68L1551.8 1703.68Z" fill="#000"/>
<path d="M1556.1 1703.51L1560.4 1711.68L1551.8 1711.68Z" fill="#000"/>
<circle cx="1584.65" cy="1669" r="4.35" fill="#000"/>
<circle cx="1600.65" cy="1668" r="4.35" fill="#000"/>
<circle cx="1592.65" cy="1682" r="4.35" fill="#000"/>
<circle cx="1592.65" cy="1713" r="4.35" fill="#000"/>
<circle cx="1584.65" cy="1734" r="4.35" fill="#000"/>
<circle cx="1600.65" cy="1730" r="4.35" fill="#000"/>
<path d="M1615.45 1585.51L1619.75 1593.68L1611.15 1593.68Z" fill="#000"/>
<path d="M1623.45 1631.51L1627.75 1639.68L1619.15 1639.68Z" fill="#000"/>
<path d="M1610.45 1638.51L1614.75 1646.68L1606.15 1646.68Z" fill="#000"/>
<path d="M1615.45 1667.51L1619.75 1675.68L1611.15 1675.68Z" fill="#000"/>
<path d="M1615.45 1691.51L1619.75 1699.68L1611.15 1699.68Z" fill="#000"/>
<line x1="1450.1" y1="1460.8" x2="1450.1" y2="1795.4" stroke="#000" stroke-width="3.8"/>
<line x1="1433" y1="1793.5" x2="1452" y2="1793.5" stroke="#000" stroke-width="3.6"/>
<text transform="translate(1428.8 1802.8) scale(1 1.04)" font-size="26" text-anchor="end" fill="#000">0</text>
<line x1="1433" y1="1683.2" x2="1452" y2="1683.2" stroke="#000" stroke-width="3.6"/>
<text transform="translate(1428.8 1692.5) scale(1 1.04)" font-size="26" text-anchor="end" fill="#000">1000</text>
<line x1="1433" y1="1572.9" x2="1452" y2="1572.9" stroke="#000" stroke-width="3.6"/>
<text transform="translate(1428.8 1582.2) scale(1 1.04)" font-size="26" text-anchor="end" fill="#000">2000</text>
<line x1="1433" y1="1462.6" x2="1452" y2="1462.6" stroke="#000" stroke-width="3.6"/>
<text transform="translate(1428.8 1471.9) scale(1 1.04)" font-size="26" text-anchor="end" fill="#000">3000</text>
<line x1="1433" y1="1793.5" x2="1641.2" y2="1793.5" stroke="#000" stroke-width="3.8"/>
<line x1="1484.6" y1="1793.5" x2="1484.6" y2="1810.5" stroke="#000" stroke-width="3.6"/>
<line x1="1544.4" y1="1793.5" x2="1544.4" y2="1810.5" stroke="#000" stroke-width="3.6"/>
<line x1="1603.9" y1="1793.5" x2="1603.9" y2="1810.5" stroke="#000" stroke-width="3.6"/>
<text transform="translate(1495.6 1832.5) rotate(-45) scale(1 1.04)" font-size="26" text-anchor="end" fill="#000">3 mo</text>
<text transform="translate(1555.4 1832.5) rotate(-45) scale(1 1.04)" font-size="26" text-anchor="end" fill="#000">6 mo</text>
<text transform="translate(1614.9 1832.5) rotate(-45) scale(1 1.04)" font-size="26" text-anchor="end" fill="#000">9 mo</text>
<path d="M1592 1643.4V1540.9H1616.2V1566.5" fill="none" stroke="#000" stroke-width="1.6" stroke-linejoin="miter"/>
<text x="1604.35" y="1533.78" font-size="31" text-anchor="middle" letter-spacing="1.9" stroke="#000" stroke-width="0.85" style="font-family:'DejaVu Sans',sans-serif">*</text>
<text transform="translate(1352.5 1628) rotate(-90) scale(1 1.04)" font-size="28" text-anchor="middle" fill="#000">Activity (XY+XT)</text>
<text transform="translate(1886.1 1417) scale(1 1.04)" font-size="43" text-anchor="middle" fill="#000">Total</text>
<rect x="1806" y="1678.1" width="22.8" height="115.4" fill="#000"/>
<rect x="1810.1" y="1682.2" width="14.6" height="109.5" fill="#7b7b7b"/>
<rect x="1827.9" y="1669.6" width="24.3" height="123.9" fill="#000"/>
<rect x="1832.9" y="1673.7" width="15.2" height="118" fill="#2f2f2f"/>
<rect x="1865.6" y="1681.3" width="22.2" height="112.2" fill="#000"/>
<rect x="1869.7" y="1685.4" width="14" height="106.3" fill="#e6b030"/>
<rect x="1886.9" y="1688.4" width="23.7" height="105.1" fill="#000"/>
<rect x="1891.9" y="1692.5" width="14.6" height="99.2" fill="#529dfc"/>
<rect x="1925.4" y="1722.6" width="21.6" height="70.9" fill="#000"/>
<rect x="1929.5" y="1726.7" width="13.4" height="65" fill="#c876ae"/>
<rect x="1946.1" y="1689.5" width="24.9" height="104" fill="#000"/>
<rect x="1951.1" y="1693.6" width="15.8" height="98.1" fill="#d9362d"/>
<line x1="1817.4" y1="1664" x2="1817.4" y2="1691" stroke="#000" stroke-width="3.4"/>
<line x1="1811.4" y1="1664" x2="1823.4" y2="1664" stroke="#000" stroke-width="3.4"/>
<line x1="1811.4" y1="1691" x2="1823.4" y2="1691" stroke="#000" stroke-width="3.4"/>
<line x1="1840.5" y1="1655" x2="1840.5" y2="1683" stroke="#000" stroke-width="3.4"/>
<line x1="1834.5" y1="1655" x2="1846.5" y2="1655" stroke="#000" stroke-width="3.4"/>
<line x1="1834.5" y1="1683" x2="1846.5" y2="1683" stroke="#000" stroke-width="3.4"/>
<line x1="1876.7" y1="1667" x2="1876.7" y2="1693" stroke="#000" stroke-width="3.4"/>
<line x1="1870.7" y1="1667" x2="1882.7" y2="1667" stroke="#000" stroke-width="3.4"/>
<line x1="1870.7" y1="1693" x2="1882.7" y2="1693" stroke="#000" stroke-width="3.4"/>
<line x1="1899.2" y1="1673" x2="1899.2" y2="1701" stroke="#000" stroke-width="3.4"/>
<line x1="1893.2" y1="1673" x2="1905.2" y2="1673" stroke="#000" stroke-width="3.4"/>
<line x1="1893.2" y1="1701" x2="1905.2" y2="1701" stroke="#000" stroke-width="3.4"/>
<line x1="1936.2" y1="1711" x2="1936.2" y2="1731" stroke="#000" stroke-width="3.4"/>
<line x1="1930.2" y1="1711" x2="1942.2" y2="1711" stroke="#000" stroke-width="3.4"/>
<line x1="1930.2" y1="1731" x2="1942.2" y2="1731" stroke="#000" stroke-width="3.4"/>
<line x1="1959" y1="1675" x2="1959" y2="1705" stroke="#000" stroke-width="3.4"/>
<line x1="1953" y1="1675" x2="1965" y2="1675" stroke="#000" stroke-width="3.4"/>
<line x1="1953" y1="1705" x2="1965" y2="1705" stroke="#000" stroke-width="3.4"/>
<circle cx="1810.4" cy="1648" r="4.35" fill="#000"/>
<circle cx="1825.4" cy="1641" r="4.35" fill="#000"/>
<circle cx="1817.4" cy="1660" r="4.35" fill="#000"/>
<circle cx="1817.4" cy="1681" r="4.35" fill="#000"/>
<circle cx="1817.4" cy="1694" r="4.35" fill="#000"/>
<circle cx="1817.4" cy="1729" r="4.35" fill="#000"/>
<path d="M1840.5 1620.51L1844.8 1628.68L1836.2 1628.68Z" fill="#000"/>
<path d="M1840.5 1640.51L1844.8 1648.68L1836.2 1648.68Z" fill="#000"/>
<path d="M1840.5 1675.51L1844.8 1683.68L1836.2 1683.68Z" fill="#000"/>
<path d="M1840.5 1688.51L1844.8 1696.68L1836.2 1696.68Z" fill="#000"/>
<path d="M1840.5 1703.51L1844.8 1711.68L1836.2 1711.68Z" fill="#000"/>
<circle cx="1876.7" cy="1624" r="4.35" fill="#000"/>
<circle cx="1873.7" cy="1640" r="4.35" fill="#000"/>
<circle cx="1880.7" cy="1642" r="4.35" fill="#000"/>
<circle cx="1876.7" cy="1659" r="4.35" fill="#000"/>
<circle cx="1868.7" cy="1711" r="4.35" fill="#000"/>
<circle cx="1884.7" cy="1711" r="4.35" fill="#000"/>
<circle cx="1876.7" cy="1718" r="4.35" fill="#000"/>
<circle cx="1876.7" cy="1730" r="4.35" fill="#000"/>
<path d="M1896.2 1629.51L1900.5 1637.68L1891.9 1637.68Z" fill="#000"/>
<path d="M1905.2 1623.51L1909.5 1631.68L1900.9 1631.68Z" fill="#000"/>
<path d="M1907.2 1669.51L1911.5 1677.68L1902.9 1677.68Z" fill="#000"/>
<path d="M1899.2 1693.51L1903.5 1701.68L1894.9 1701.68Z" fill="#000"/>
<path d="M1899.2 1724.51L1903.5 1732.68L1894.9 1732.68Z" fill="#000"/>
<circle cx="1928.2" cy="1701" r="4.35" fill="#000"/>
<circle cx="1944.2" cy="1702" r="4.35" fill="#000"/>
<circle cx="1936.2" cy="1710" r="4.35" fill="#000"/>
<circle cx="1936.2" cy="1719" r="4.35" fill="#000"/>
<circle cx="1928.2" cy="1741" r="4.35" fill="#000"/>
<circle cx="1944.2" cy="1740" r="4.35" fill="#000"/>
<circle cx="1936.2" cy="1730" r="4.35" fill="#000"/>
<path d="M1959 1647.51L1963.3 1655.68L1954.7 1655.68Z" fill="#000"/>
<path d="M1959 1681.51L1963.3 1689.68L1954.7 1689.68Z" fill="#000"/>
<path d="M1954 1688.51L1958.3 1696.68L1949.7 1696.68Z" fill="#000"/>
<path d="M1967 1684.51L1971.3 1692.68L1962.7 1692.68Z" fill="#000"/>
<path d="M1959 1722.51L1963.3 1730.68L1954.7 1730.68Z" fill="#000"/>
<line x1="1793.8" y1="1460.8" x2="1793.8" y2="1795.4" stroke="#000" stroke-width="3.8"/>
<line x1="1776.7" y1="1793.5" x2="1795.7" y2="1793.5" stroke="#000" stroke-width="3.6"/>
<text transform="translate(1772.5 1802.8) scale(1 1.04)" font-size="26" text-anchor="end" fill="#000">0</text>
<line x1="1776.7" y1="1683.2" x2="1795.7" y2="1683.2" stroke="#000" stroke-width="3.6"/>
<text transform="translate(1772.5 1692.5) scale(1 1.04)" font-size="26" text-anchor="end" fill="#000">1000</text>
<line x1="1776.7" y1="1572.9" x2="1795.7" y2="1572.9" stroke="#000" stroke-width="3.6"/>
<text transform="translate(1772.5 1582.2) scale(1 1.04)" font-size="26" text-anchor="end" fill="#000">2000</text>
<line x1="1776.7" y1="1462.6" x2="1795.7" y2="1462.6" stroke="#000" stroke-width="3.6"/>
<text transform="translate(1772.5 1471.9) scale(1 1.04)" font-size="26" text-anchor="end" fill="#000">3000</text>
<line x1="1776.7" y1="1793.5" x2="1984.6" y2="1793.5" stroke="#000" stroke-width="3.8"/>
<line x1="1828.8" y1="1793.5" x2="1828.8" y2="1810.5" stroke="#000" stroke-width="3.6"/>
<line x1="1887.8" y1="1793.5" x2="1887.8" y2="1810.5" stroke="#000" stroke-width="3.6"/>
<line x1="1947" y1="1793.5" x2="1947" y2="1810.5" stroke="#000" stroke-width="3.6"/>
<text transform="translate(1839.8 1832.5) rotate(-45) scale(1 1.04)" font-size="26" text-anchor="end" fill="#000">3 mo</text>
<text transform="translate(1898.8 1832.5) rotate(-45) scale(1 1.04)" font-size="26" text-anchor="end" fill="#000">6 mo</text>
<text transform="translate(1958 1832.5) rotate(-45) scale(1 1.04)" font-size="26" text-anchor="end" fill="#000">9 mo</text>
<text transform="translate(1697 1628.4) rotate(-90) scale(1 1.04)" font-size="28" text-anchor="middle" fill="#000">Activity (XY+XT)</text>
<rect x="62.8" y="1983.7" width="58.4" height="24.4" fill="#7b7b7b" stroke="#000" stroke-width="5.6"/>
<text transform="translate(129.5 2008.3) scale(1 1.04)" font-size="38.7" fill="#000">3 mo WT</text>
<rect x="357.7" y="1979.8" width="55.7" height="24.4" fill="#e6b030" stroke="#000" stroke-width="5.6"/>
<text transform="translate(423 2007) scale(1 1.04)" font-size="38.7" fill="#000">6 mo WT</text>
<rect x="656.2" y="1983.7" width="55.5" height="22.5" fill="#c876ae" stroke="#000" stroke-width="5.6"/>
<text transform="translate(730 2008.3) scale(1 1.04)" font-size="38.7" fill="#000">9 mo WT</text>
<rect x="977.6" y="1981.6" width="57.8" height="20.5" fill="#2f2f2f" stroke="#000" stroke-width="5.6"/>
<text transform="translate(1059.5 2007) scale(1 1.04)" font-size="38.7" fill="#000">3 mo P301S</text>
<rect x="1340.3" y="1981.6" width="57.1" height="20.5" fill="#529dfc" stroke="#000" stroke-width="5.6"/>
<text transform="translate(1407 2007) scale(1 1.04)" font-size="38.7" fill="#000">6 mo P301S</text>
<rect x="1712.8" y="1980" width="56.4" height="22.6" fill="#d9362d" stroke="#000" stroke-width="5.6"/>
<text transform="translate(1784.5 2006.3) scale(1 1.04)" font-size="38.7" fill="#000">9 mo P301S</text>
</svg>
</body></html>
